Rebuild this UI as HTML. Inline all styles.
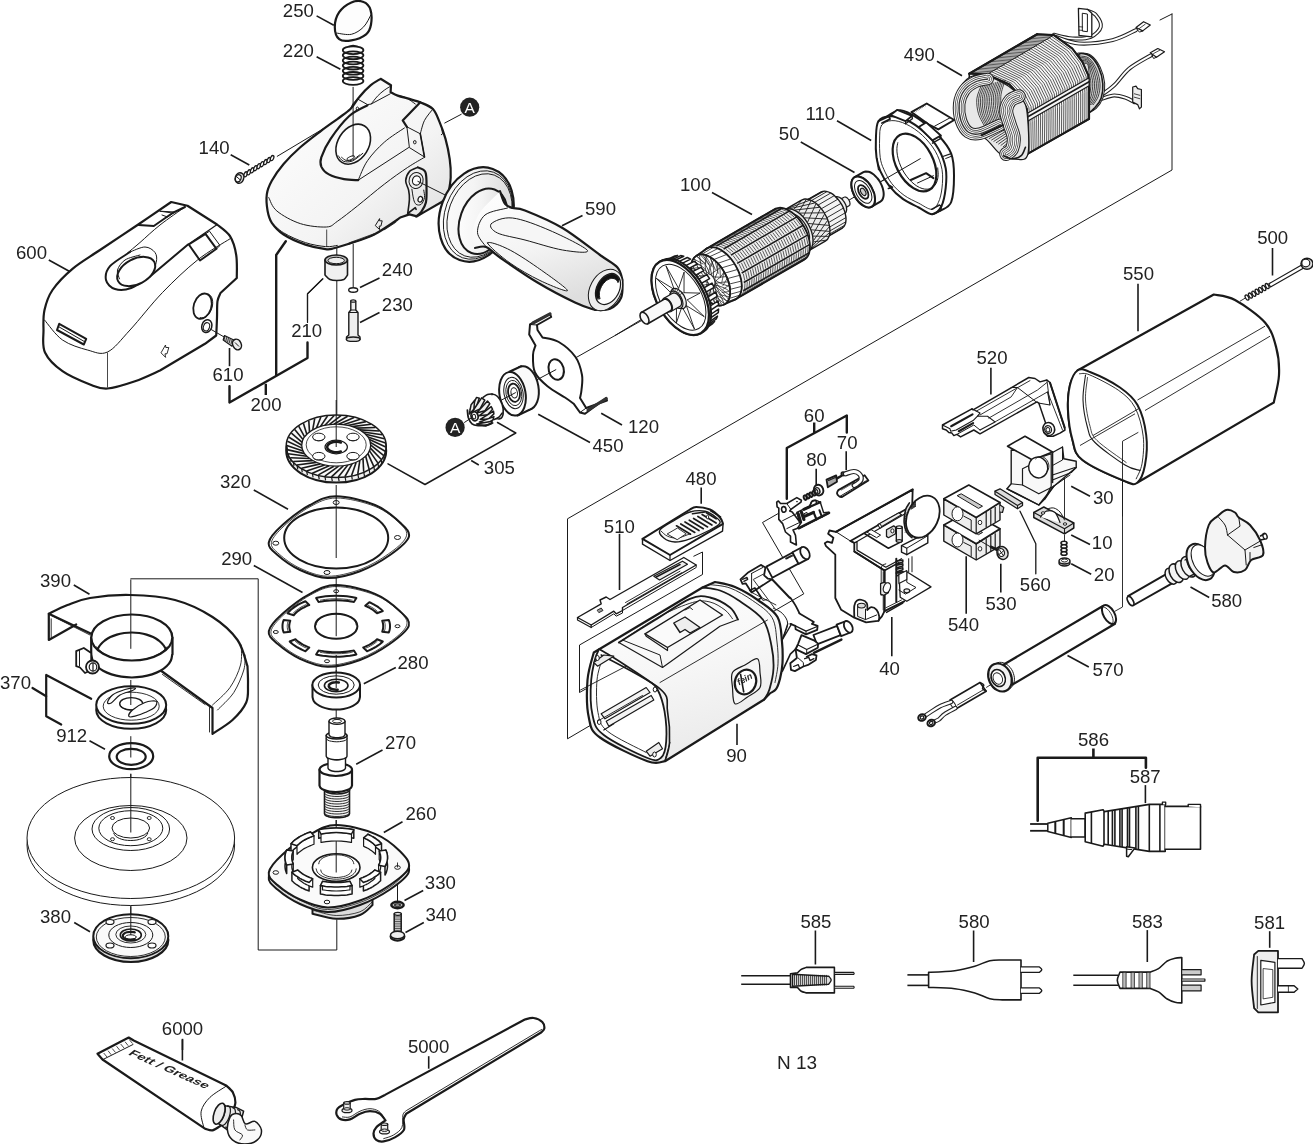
<!DOCTYPE html>
<html><head><meta charset="utf-8"><title>N 13</title>
<style>
html,body{margin:0;padding:0;background:#fff}
svg{display:block;will-change:transform}
text{font-family:"Liberation Sans",sans-serif;font-size:18.6px;fill:#222}
</style></head><body>
<svg width="1313" height="1144" viewBox="0 0 1313 1144">
<rect width="1313" height="1144" fill="#fff"/>
<!-- p10_housing.py -->
<g>
<defs><linearGradient id="gh" x1="0" y1="0" x2="1" y2="1"><stop offset="0" stop-color="#fff"/><stop offset="0.6" stop-color="#f4f4f4"/><stop offset="1" stop-color="#dcdcdc"/></linearGradient></defs>
<path d="M276.9 156.5 L357.4 108.3" stroke="#1a1a1a" stroke-width="1" fill="none" stroke-linecap="butt"/>
<path d="M380.6 78.8L391 85.2L390.6 92.2L390.6 92.2C391.8 92.8 394.5 94.5 397.7 95.6C400.8 96.7 405.6 97.8 409.4 98.9C413.2 100.1 418.5 101.7 420.3 102.3L420.3 102.3C422.4 103.4 429.7 105.7 432.9 109C436.1 112.3 437.5 117.1 439.6 122.1C441.7 127.1 443.8 132.7 445.5 138.9C447.2 145 448.8 152.6 449.7 159C450.6 165.4 451 171.3 450.7 177.5C450.4 183.6 448.5 192.9 448 195.9L448 195.9L442.1 201.8L424.5 211.9L417 216.4L409.4 214.4L401 217.2L401 217.2C396.6 220.1 382.9 230.1 374.2 234.5C365.5 238.9 355.7 241.5 349 243.8C342.3 246 337.8 247.4 333.9 248.3C330 249.2 330.3 249.7 325.5 249.1C320.8 248.5 312.4 247 305.4 244.6C298.4 242.2 289.2 238.2 283.6 234.5C278 230.9 274.5 226.7 271.8 222.8C269.2 218.9 268.5 215.8 267.6 211C266.8 206.3 266.1 199.3 266.8 194.3C267.5 189.2 269 185.9 271.8 180.8C274.6 175.8 278.8 169.6 283.6 164C288.3 158.5 294.2 152.7 300.3 147.3C306.5 141.8 314.3 136 320.5 131.3C326.6 126.6 332.2 122.8 337.3 119.1C342.3 115.3 347.1 112.3 350.7 108.7C354.3 105 355.7 101.2 359.1 97.3C362.4 93.3 367.2 88.2 370.8 85.2C374.4 82.1 378.9 79.9 380.6 78.8Z" fill="url(#gh)" stroke="#1a1a1a" stroke-width="2.2" stroke-linejoin="round" stroke-linecap="round"/>
<path d="M268.8 197.6C270.1 199.8 271.6 206.7 276.9 211C282.1 215.4 292.1 221 300.3 223.6C308.6 226.3 320.2 227.3 326.4 227C332.5 226.6 332.1 224.9 337.3 221.4C342.4 217.9 349.6 212.2 357.4 206C365.2 199.8 375.9 190.6 384.3 184.2C392.6 177.7 401 171.9 407.7 167.4C414.5 162.9 421.7 159 424.5 157.3" fill="none" stroke="#1a1a1a" stroke-width="1" stroke-linejoin="round" stroke-linecap="round"/>
<path d="M270.1 221.1C272.4 223.1 277.7 229.3 283.6 232.8C289.4 236.4 298.4 240.3 305.4 242.6C312.4 244.9 320.2 246.1 325.5 246.6C330.8 247.1 335.3 245.6 337.3 245.4" fill="none" stroke="#1a1a1a" stroke-width="1" stroke-linejoin="round" stroke-linecap="round"/>
<path d="M357.4 98.9L367.5 104.6L371.2 104L390.1 93.9" fill="none" stroke="#1a1a1a" stroke-width="1" stroke-linejoin="round" stroke-linecap="round"/>
<path d="M371.2 104C372.2 102.7 375.4 98.4 377.5 96.1C379.7 93.8 382 91.9 384.3 90.2C386.5 88.5 389.8 86.7 391 86" fill="none" stroke="#1a1a1a" stroke-width="1" stroke-linejoin="round" stroke-linecap="round"/>
<path d="M350.7 108.7L352.7 104L357.4 98.9" fill="none" stroke="#1a1a1a" stroke-width="1" stroke-linejoin="round" stroke-linecap="round"/>
<ellipse cx="357.4" cy="108.7" rx="1.2" ry="1.7" fill="none" stroke="#1a1a1a" stroke-width="1"/>
<path d="M367.5 105.3C364.4 107.1 355.2 110.6 349 116.2C342.9 121.8 335.2 132 330.6 138.9C325.9 145.7 322.9 152.7 321.3 157.3C319.8 161.9 320.1 163.7 321.3 166.6C322.6 169.4 325.1 172.4 328.9 174.4C332.6 176.5 339.1 178.2 344 179.1C348.9 180.1 355.9 180 358.2 180.2" fill="none" stroke="#1a1a1a" stroke-width="2.2" stroke-linejoin="round" stroke-linecap="round"/>
<path d="M358.2 180.2L408.6 147.6" fill="none" stroke="#1a1a1a" stroke-width="1" stroke-linejoin="round" stroke-linecap="round"/>
<path d="M358.2 180.2C359.8 176.9 363.1 167 367.5 160.7C371.8 154.4 378.1 147.7 384.3 142.2C390.4 136.8 401 130.3 404.4 128" fill="none" stroke="#1a1a1a" stroke-width="1" stroke-linejoin="round" stroke-linecap="round"/>
<ellipse cx="353.2" cy="144.2" rx="21.5" ry="15.4" fill="#fff" stroke="#1a1a1a" stroke-width="1.6" transform="rotate(-58 353.2 144.2)"/>
<path d="M338.3 155.7C339.1 156.6 341 160.3 343.3 161.2C345.7 162.1 349.1 162.3 352.4 161C355.6 159.7 361 154.6 362.8 153.3" fill="none" stroke="#1a1a1a" stroke-width="1" stroke-linejoin="round" stroke-linecap="round"/>
<path d="M341.6 157.3C342.4 157.9 344.5 160.1 346.3 160.5C348.2 160.9 350.5 160.8 352.7 159.8C354.9 158.9 358.3 155.8 359.4 155" fill="none" stroke="#1a1a1a" stroke-width="1" stroke-linejoin="round" stroke-linecap="round"/>
<ellipse cx="350.7" cy="158" rx="4" ry="1.5" fill="none" stroke="#1a1a1a" stroke-width="0.9" transform="rotate(-25 350.7 158)"/>
<path d="M420.3 102.3L402.7 120.4L406.9 126.8" fill="none" stroke="#1a1a1a" stroke-width="2.2" stroke-linejoin="round" stroke-linecap="round"/>
<path d="M406.9 126.8L409.4 147.6L424.5 157L420.3 133.8L406.9 126.8" fill="none" stroke="#1a1a1a" stroke-width="1" stroke-linejoin="round" stroke-linecap="round"/>
<path d="M432.9 109C431.5 110.9 426.6 116.3 424.5 120.4C422.4 124.6 421 131.6 420.3 133.8" fill="none" stroke="#1a1a1a" stroke-width="1" stroke-linejoin="round" stroke-linecap="round"/>
<path d="M420.3 133.8L424.5 157" fill="none" stroke="#1a1a1a" stroke-width="1.6" stroke-linejoin="round" stroke-linecap="round"/>
<ellipse cx="414.8" cy="142.2" rx="1.3" ry="1.7" fill="none" stroke="#1a1a1a" stroke-width="1"/>
<path d="M397.7 95.6C399.1 95.9 403.1 96.4 406.1 97.8C409 99.2 413.8 102.9 415.3 104" fill="none" stroke="#1a1a1a" stroke-width="1" stroke-linejoin="round" stroke-linecap="round"/>
<path d="M441.3 126.3L442.6 133.8L441.3 134.7" fill="none" stroke="#1a1a1a" stroke-width="1" stroke-linejoin="round" stroke-linecap="round"/>
<path d="M417.8 167.4C419.1 168.2 423.9 168.7 425.4 172.1C426.8 175.5 426.5 182.4 426.5 187.5C426.6 192.6 426.8 198.6 425.9 202.6C425 206.7 422.8 209.6 421.2 211.9C419.5 214.2 417 215.6 416.1 216.4" fill="none" stroke="#1a1a1a" stroke-width="2.2" stroke-linejoin="round" stroke-linecap="round"/>
<path d="M417.8 167.4C416.4 168.1 411.4 169.4 409.4 171.6C407.4 173.8 405.9 177.7 405.7 180.8C405.6 183.9 408 187 408.6 190.1C409.2 193.1 409.6 195.4 409.4 199.3C409.3 203.2 408 211.2 407.7 213.5" fill="none" stroke="#1a1a1a" stroke-width="1.6" stroke-linejoin="round" stroke-linecap="round"/>
<ellipse cx="416.1" cy="180.5" rx="7" ry="8.1" fill="none" stroke="#1a1a1a" stroke-width="1" transform="rotate(15 416.1 180.5)"/>
<ellipse cx="416.5" cy="180.5" rx="4" ry="4.7" fill="#fff" stroke="#1a1a1a" stroke-width="1.2" transform="rotate(15 416.5 180.5)"/>
<path d="M411.9 189.2C412.2 190.9 412.9 196.8 413.6 199.3C414.3 201.8 414.9 203.5 416.1 204.3C417.4 205.2 419.8 205.4 421.2 204.3C422.6 203.2 424.1 200 424.5 197.6C424.9 195.2 423.8 191.3 423.7 190.1" fill="none" stroke="#1a1a1a" stroke-width="1" stroke-linejoin="round" stroke-linecap="round"/>
<ellipse cx="420.3" cy="199.3" rx="2.2" ry="2.9" fill="#fff" stroke="#1a1a1a" stroke-width="1.2" transform="rotate(20 420.3 199.3)"/>
<path d="M407.7 213.5L415.3 207.7L416.1 209.4" fill="none" stroke="#1a1a1a" stroke-width="1.6" stroke-linejoin="round" stroke-linecap="round"/>
<path d="M375.5 225.3L379.6 218.6L379.6 220.8L382.2 220.8L380.9 226.1L379.2 226.1L379.6 229.2Z" fill="none" stroke="#1a1a1a" stroke-width="1" stroke-linejoin="round" stroke-linecap="round"/>
<path d="M384.3 228.3L395.2 221.1L395.7 222.4L384.8 229.5Z" fill="none" stroke="#1a1a1a" stroke-width="0.8" stroke-linejoin="round" stroke-linecap="round"/>
<path d="M349 242.9L374.2 233.7L374.5 234.9L349.3 244.1Z" fill="none" stroke="#1a1a1a" stroke-width="0.8" stroke-linejoin="round" stroke-linecap="round"/>
<path d="M326.7 229.5 L326.7 246.6" stroke="#1a1a1a" stroke-width="0.8" fill="none" stroke-linecap="butt"/>
</g>
<!-- p11_capspring.py -->
<g>
<path d="M353.1 86.9 L353.1 156.7" stroke="#1a1a1a" stroke-width="1" fill="none" stroke-linecap="butt"/>
<path d="M334.8 26.9C334.8 22.4 336.4 16.3 339.2 12.2C341.9 8.2 347.3 4.2 351.4 2.4C355.5 0.7 360.5 0.7 363.6 2C366.8 3.2 369.3 6 370.5 9.8C371.7 13.5 371.7 20.4 371 24.5C370.3 28.6 369.4 31.6 366.1 34.3C362.8 36.9 355.9 39.6 351.4 40.4C346.9 41.2 341.9 41.4 339.2 39.2C336.4 36.9 334.8 31.4 334.8 26.9Z" fill="#fdfdfd" stroke="#1a1a1a" stroke-width="2.2" stroke-linejoin="round" stroke-linecap="round"/>
<path d="M336.7 33.1C339.2 33.3 346.9 35.3 351.4 34.3C355.9 33.3 360.4 30.2 363.6 26.9C366.9 23.7 369.8 16.7 371 14.7" fill="none" stroke="#1a1a1a" stroke-width="1" stroke-linejoin="round" stroke-linecap="round"/>
<path d="M316.6 15.9 L333.8 25.2" stroke="#1a1a1a" stroke-width="1.6" fill="none" stroke-linecap="butt"/>
<ellipse cx="353.1" cy="50.2" rx="10.3" ry="3.9" fill="none" stroke="#1a1a1a" stroke-width="1.8"/>
<ellipse cx="353.1" cy="55.3" rx="10.3" ry="3.9" fill="none" stroke="#1a1a1a" stroke-width="1.8"/>
<ellipse cx="353.1" cy="60.5" rx="10.3" ry="3.9" fill="none" stroke="#1a1a1a" stroke-width="1.8"/>
<ellipse cx="353.1" cy="65.6" rx="10.3" ry="3.9" fill="none" stroke="#1a1a1a" stroke-width="1.8"/>
<ellipse cx="353.1" cy="70.8" rx="10.3" ry="3.9" fill="none" stroke="#1a1a1a" stroke-width="1.8"/>
<ellipse cx="353.1" cy="75.9" rx="10.3" ry="3.9" fill="none" stroke="#1a1a1a" stroke-width="1.8"/>
<ellipse cx="353.1" cy="81" rx="10.3" ry="3.9" fill="none" stroke="#1a1a1a" stroke-width="1.8"/>
<path d="M349 46.5C349.6 46.4 351.7 45.5 353.1 45.5C354.5 45.5 356.8 46.4 357.5 46.5" fill="none" stroke="#1a1a1a" stroke-width="1.5" stroke-linejoin="round" stroke-linecap="round"/>
<path d="M316.6 56.8 L340.4 69.3" stroke="#1a1a1a" stroke-width="1.6" fill="none" stroke-linecap="butt"/>
<ellipse cx="245.6" cy="174.3" rx="1.5" ry="2.7" fill="#fff" stroke="#1a1a1a" stroke-width="1.3" transform="rotate(25 245.6 174.3)"/>
<ellipse cx="248.9" cy="172.3" rx="1.5" ry="2.7" fill="#fff" stroke="#1a1a1a" stroke-width="1.3" transform="rotate(25 248.9 172.3)"/>
<ellipse cx="252.2" cy="170.3" rx="1.5" ry="2.7" fill="#fff" stroke="#1a1a1a" stroke-width="1.3" transform="rotate(25 252.2 170.3)"/>
<ellipse cx="255.5" cy="168.2" rx="1.5" ry="2.7" fill="#fff" stroke="#1a1a1a" stroke-width="1.3" transform="rotate(25 255.5 168.2)"/>
<ellipse cx="258.8" cy="166.2" rx="1.5" ry="2.7" fill="#fff" stroke="#1a1a1a" stroke-width="1.3" transform="rotate(25 258.8 166.2)"/>
<ellipse cx="262.1" cy="164.2" rx="1.5" ry="2.7" fill="#fff" stroke="#1a1a1a" stroke-width="1.3" transform="rotate(25 262.1 164.2)"/>
<ellipse cx="265.5" cy="162.1" rx="1.5" ry="2.7" fill="#fff" stroke="#1a1a1a" stroke-width="1.3" transform="rotate(25 265.5 162.1)"/>
<ellipse cx="268.8" cy="160.1" rx="1.5" ry="2.7" fill="#fff" stroke="#1a1a1a" stroke-width="1.3" transform="rotate(25 268.8 160.1)"/>
<ellipse cx="272.1" cy="158.1" rx="1.5" ry="2.7" fill="#fff" stroke="#1a1a1a" stroke-width="1.3" transform="rotate(25 272.1 158.1)"/>
<ellipse cx="239.5" cy="178" rx="4.2" ry="5.4" fill="#ddd" stroke="#1a1a1a" stroke-width="1.5" transform="rotate(20 239.5 178)"/>
<ellipse cx="238.3" cy="178.3" rx="2.7" ry="3.7" fill="#fff" stroke="#1a1a1a" stroke-width="1.2" transform="rotate(20 238.3 178.3)"/>
<path d="M236.8 176.8 L240 179.7" stroke="#1a1a1a" stroke-width="1" fill="none" stroke-linecap="butt"/>
<path d="M230.7 154.8 L249.3 165" stroke="#1a1a1a" stroke-width="1.6" fill="none" stroke-linecap="butt"/>
<path d="M461.6 114.1 L444.4 123.2" stroke="#1a1a1a" stroke-width="1" fill="none" stroke-linecap="butt"/>
<circle cx="469.7" cy="107.2" r="9.6" fill="#222"/>
<text x="469.7" y="112.8" text-anchor="middle" style="font-size:15.5px;fill:#fff">A</text>
<text x="282.8" y="16.7">250</text>
<text x="282.8" y="56.8">220</text>
<text x="198.6" y="154.3">140</text>
</g>
<!-- p12_cover600.py -->
<g>
<path d="M171.2 202L187.5 205.8L217 224.5L217 224.5C219.2 226.5 226.8 231.2 230 236.2C233.2 241.3 235.1 248 236.2 255C237.4 262 236.7 274.2 236.8 278L236.8 278L220.5 293L220.5 293C220 294.4 218.1 297.2 217.5 301.2C216.9 305.3 217.2 311.8 217 317.5C216.8 323.2 216.4 332.5 216.2 335.5L216.2 335.5L205 343.8L160 370.5L160 370.5C155.8 372.3 143.8 378.2 135 381.2C126.2 384.2 115 388 107.5 388.5C100 389 97.5 387.4 90 384.5C82.5 381.6 70 376.6 62.5 371.2C55 365.9 48.2 359.4 45 352.5C41.8 345.6 43.6 337.1 43.5 330C43.4 322.9 43 316.7 44.5 310C46 303.3 47.8 296.9 52.5 290C57.2 283.1 64.6 275.4 72.5 268.8C80.4 262.1 89.2 257.3 100 250C110.8 242.7 125.6 233 137.5 225C149.4 217 165.6 205.8 171.2 202Z" fill="#fff" stroke="#1a1a1a" stroke-width="2.2" stroke-linejoin="round" stroke-linecap="round"/>
<path d="M44.5 320C47.5 323.3 55.3 335 62.5 340C69.7 345 80 348 87.5 350C95 352 100.4 355.3 107.5 352C114.6 348.7 120.8 339.9 130 330C139.2 320.1 151.2 304.2 162.5 292.5C173.8 280.8 186.2 269 197.5 260C208.8 251 224.6 242.3 230 238.8" fill="none" stroke="#1a1a1a" stroke-width="1" stroke-linejoin="round" stroke-linecap="round"/>
<path d="M107.5 352.5 L107.5 387.5" stroke="#1a1a1a" stroke-width="0.8" fill="none" stroke-linecap="butt"/>
<path d="M138.8 225L153.8 226L172.5 213L185 207" fill="none" stroke="#1a1a1a" stroke-width="2" stroke-linejoin="round" stroke-linecap="round"/>
<path d="M160 211.2L172.5 213" fill="none" stroke="#1a1a1a" stroke-width="1" stroke-linejoin="round" stroke-linecap="round"/>
<path d="M160 211.2L175 212L167.5 217L162 215" fill="none" stroke="#1a1a1a" stroke-width="1" stroke-linejoin="round" stroke-linecap="round"/>
<path d="M185 207C180.8 210 167.5 219.1 160 225C152.5 230.9 145.4 237.8 140 242.5C134.6 247.2 129.6 251.2 127.5 253" fill="none" stroke="#1a1a1a" stroke-width="1" stroke-linejoin="round" stroke-linecap="round"/>
<path d="M130 252C126.7 254.4 114 261.6 110 266.2C106 270.9 105.2 276.2 106 280C106.8 283.8 110.8 287.7 115 289C119.2 290.3 125.4 290.1 131.2 288C137.1 285.9 146.9 278.4 150 276.5" fill="none" stroke="#1a1a1a" stroke-width="2" stroke-linejoin="round" stroke-linecap="round"/>
<path d="M150 276.5L188 244.5" fill="none" stroke="#1a1a1a" stroke-width="2" stroke-linejoin="round" stroke-linecap="round"/>
<path d="M188 244.5L216.5 225" fill="none" stroke="#1a1a1a" stroke-width="1.2" stroke-linejoin="round" stroke-linecap="round"/>
<path d="M130 252C132.5 251.2 140.8 246.9 145 247C149.2 247.1 153.1 249.9 155 252.5C156.9 255.1 157.1 258.5 156.2 262.5C155.4 266.5 151 274.2 150 276.5" fill="none" stroke="#1a1a1a" stroke-width="1" stroke-linejoin="round" stroke-linecap="round"/>
<ellipse cx="136.2" cy="271.5" rx="20.5" ry="12.5" fill="#fff" stroke="#1a1a1a" stroke-width="2" transform="rotate(-28 136.2 271.5)"/>
<path d="M119.5 278.8C119.2 277.3 116.6 273.1 117.5 270C118.4 266.9 121.2 262.5 125 260C128.8 257.5 137.5 255.8 140 255" fill="none" stroke="#1a1a1a" stroke-width="1" stroke-linejoin="round" stroke-linecap="round"/>
<path d="M188.8 244.5L205.5 233.8L216.5 248.8L200 260.5Z" fill="none" stroke="#1a1a1a" stroke-width="2" stroke-linejoin="round" stroke-linecap="round"/>
<path d="M205.5 233.8L209.5 231.2L220 245.5L216.5 248.8" fill="none" stroke="#1a1a1a" stroke-width="1" stroke-linejoin="round" stroke-linecap="round"/>
<ellipse cx="202.5" cy="306.2" rx="8.8" ry="13" fill="none" stroke="#1a1a1a" stroke-width="1.8" transform="rotate(18 202.5 306.2)"/>
<path d="M207.9 293.9C208.3 294.2 209.8 294.9 210.6 295.7C211.3 296.6 211.9 297.8 212.3 299.1C212.6 300.4 212.8 302 212.7 303.6C212.7 305.1 212.3 306.8 211.8 308.3C211.4 309.8 210.6 311.4 209.8 312.7C208.9 313.9 207.9 315.1 206.8 316C205.8 316.8 204.5 317.4 203.4 317.7C202.3 318 200.7 317.6 200.1 317.6" fill="none" stroke="#1a1a1a" stroke-width="1" stroke-linejoin="round" stroke-linecap="round"/>
<ellipse cx="206.8" cy="326.2" rx="5" ry="6.5" fill="none" stroke="#1a1a1a" stroke-width="1.5" transform="rotate(18 206.8 326.2)"/>
<ellipse cx="206.5" cy="326.8" rx="3" ry="4.2" fill="none" stroke="#1a1a1a" stroke-width="1" transform="rotate(18 206.5 326.8)"/>
<path d="M59.2 323.8L86.2 338.8L83.8 344.5L57 330Z" fill="none" stroke="#1a1a1a" stroke-width="2" stroke-linejoin="round" stroke-linecap="round"/>
<path d="M59.2 327L83.8 341.2" fill="none" stroke="#1a1a1a" stroke-width="1" stroke-linejoin="round" stroke-linecap="round"/>
<path d="M161.2 352.5L165.5 345L165.8 347.5L168.8 347.5L167 353.8L165 353.8L165.5 357Z" fill="none" stroke="#1a1a1a" stroke-width="0.9" stroke-linejoin="round" stroke-linecap="round"/>
<path d="M211.2 329.5 L225 337.5" stroke="#1a1a1a" stroke-width="1" fill="none" stroke-linecap="butt"/>
<path d="M224.5 335.5L233.8 340L232 346.2L223.2 340Z" fill="#ccc" stroke="#1a1a1a" stroke-width="1.2" stroke-linejoin="round" stroke-linecap="round"/>
<path d="M225 336 L224 340" stroke="#1a1a1a" stroke-width="0.8" fill="none" stroke-linecap="butt"/>
<path d="M226.8 337 L225.8 341" stroke="#1a1a1a" stroke-width="0.8" fill="none" stroke-linecap="butt"/>
<path d="M228.5 338 L227.5 342" stroke="#1a1a1a" stroke-width="0.8" fill="none" stroke-linecap="butt"/>
<path d="M230.2 339 L229.2 343" stroke="#1a1a1a" stroke-width="0.8" fill="none" stroke-linecap="butt"/>
<path d="M232 340 L231 344" stroke="#1a1a1a" stroke-width="0.8" fill="none" stroke-linecap="butt"/>
<ellipse cx="237" cy="344.5" rx="4.2" ry="5.5" fill="#eee" stroke="#1a1a1a" stroke-width="1.5" transform="rotate(-25 237 344.5)"/>
<path d="M235 342.5 L239 346.5" stroke="#1a1a1a" stroke-width="1" fill="none" stroke-linecap="butt"/>
<path d="M229.5 348 L229.5 366.2" stroke="#1a1a1a" stroke-width="1.6" fill="none" stroke-linecap="butt"/>
<path d="M48.8 260 L69.2 271.2" stroke="#1a1a1a" stroke-width="1.6" fill="none" stroke-linecap="butt"/>
<path d="M285.8 241.2L276.2 255L276.2 375" fill="none" stroke="#1a1a1a" stroke-width="2.4" stroke-linejoin="round" stroke-linecap="round"/>
<path d="M307.5 342.5L307.5 358L229.5 402.5L229.5 386.2" fill="none" stroke="#1a1a1a" stroke-width="2.4" stroke-linejoin="round" stroke-linecap="round"/>
<path d="M265.8 383.8 L265.8 395" stroke="#1a1a1a" stroke-width="2.4" fill="none" stroke-linecap="butt"/>
<path d="M323 278.8L307.5 293.8L307.5 320" fill="none" stroke="#1a1a1a" stroke-width="1.2" stroke-linejoin="round" stroke-linecap="round"/>
<text x="16" y="258.8">600</text>
<text x="212.5" y="380.8">610</text>
<text x="250.5" y="411.2">200</text>
<text x="291.2" y="337">210</text>
</g>
<!-- p13_handle.py -->
<g>
<defs><linearGradient id="hg" x1="0" y1="0" x2="0.4" y2="1"><stop offset="0" stop-color="#ffffff"/><stop offset="0.55" stop-color="#f4f4f4"/><stop offset="1" stop-color="#dedede"/></linearGradient></defs>
<path d="M417.5 181.2 L447.5 196.2" stroke="#1a1a1a" stroke-width="1" fill="none" stroke-linecap="butt"/>
<ellipse cx="476.2" cy="214.5" rx="48.5" ry="35.8" fill="url(#hg)" stroke="#1a1a1a" stroke-width="2.2" transform="rotate(-70 476.2 214.5)"/>
<ellipse cx="478" cy="215" rx="45.5" ry="33" fill="none" stroke="#1a1a1a" stroke-width="0.9" transform="rotate(-70 478 215)"/>
<ellipse cx="479.5" cy="215.5" rx="43" ry="31" fill="none" stroke="#1a1a1a" stroke-width="0.9" transform="rotate(-70 479.5 215.5)"/>
<ellipse cx="483" cy="221.2" rx="33.8" ry="23" fill="url(#hg)" stroke="#1a1a1a" stroke-width="2" transform="rotate(-70 483 221.2)"/>
<path d="M500 191.2C500.8 193.3 502.9 201 505 203.8C507.1 206.5 509.2 206.9 512.5 208C515.8 209.1 516.7 207.2 525 210.5C533.3 213.8 550 220.6 562.5 228C575 235.4 590.8 248.4 600 255C609.2 261.6 613.8 263.3 617.5 267.5C621.2 271.7 621.7 277.9 622.5 280L622.5 280C622.3 282.9 623.3 292.7 621.2 297.5C619.2 302.3 614.4 306.7 610 308.8C605.6 310.8 597.5 309.8 595 310L595 310C591.7 308.8 584.6 307.1 575 302.5C565.4 297.9 550 290 537.5 282.5C525 275 508.5 263.4 500 257.5C491.5 251.6 490.4 248.6 486.2 247C482.1 245.4 476.9 247.8 475 248L475 248C474.6 245.4 471.7 238.4 472.5 232.5C473.3 226.6 475.4 219.4 480 212.5C484.6 205.6 496.7 194.8 500 191.2Z" fill="url(#hg)" stroke="none" stroke-width="0" stroke-linejoin="round" stroke-linecap="round"/>
<path d="M500 191.2C500.8 193.3 502.9 201 505 203.8C507.1 206.5 509.2 206.9 512.5 208C515.8 209.1 516.7 207.2 525 210.5C533.3 213.8 550 220.6 562.5 228C575 235.4 590.8 248.4 600 255C609.2 261.6 613.8 263.3 617.5 267.5C621.2 271.7 621.7 277.9 622.5 280L622.5 280C622.3 282.9 623.3 292.7 621.2 297.5C619.2 302.3 614.4 306.7 610 308.8C605.6 310.8 597.5 309.8 595 310L595 310C591.7 308.8 584.6 307.1 575 302.5C565.4 297.9 550 290 537.5 282.5C525 275 508.5 263.4 500 257.5C491.5 251.6 490.4 248.6 486.2 247C482.1 245.4 476.9 247.8 475 248" fill="none" stroke="#1a1a1a" stroke-width="2.2" stroke-linejoin="round" stroke-linecap="round"/>
<path d="M486.2 247C484.8 244.6 477.7 237.8 477.5 232.5C477.3 227.2 480 219.1 485 215C490 210.9 503.8 209.2 507.5 208" fill="none" stroke="#1a1a1a" stroke-width="1" stroke-linejoin="round" stroke-linecap="round"/>
<path d="M491.2 223.8C493.8 221.2 502.7 216.9 512.5 218C522.3 219.1 537.5 225.1 550 230.5C562.5 235.9 585.4 247.2 587.5 250.5C589.6 253.8 572.9 251.8 562.5 250C552.1 248.2 535.8 242.8 525 240C514.2 237.2 503.1 235.7 497.5 233C491.9 230.3 488.8 226.2 491.2 223.8Z" fill="#f6f6f6" stroke="#1a1a1a" stroke-width="1" stroke-linejoin="round" stroke-linecap="round"/>
<path d="M487.5 243C487.1 240.6 499.2 244.7 507.5 248.8C515.8 252.8 527.5 260.5 537.5 267.5C547.5 274.5 567.1 288.3 567.5 290.5C567.9 292.7 549.6 285.1 540 280.5C530.4 275.9 518.8 269.2 510 263C501.2 256.8 487.9 245.4 487.5 243Z" fill="#f6f6f6" stroke="#1a1a1a" stroke-width="1" stroke-linejoin="round" stroke-linecap="round"/>
<ellipse cx="605.5" cy="290" rx="22" ry="15.5" fill="#eee" stroke="#1a1a1a" stroke-width="1" transform="rotate(-62 605.5 290)"/>
<ellipse cx="608" cy="289" rx="16.5" ry="11.2" fill="#fff" stroke="#1a1a1a" stroke-width="1.2" transform="rotate(-62 608 289)"/>
<path d="M596.7 298.7C596.6 298.2 596.1 296.6 596 295.4C595.9 294.3 595.9 293 596 291.7C596.2 290.4 596.5 289.1 596.9 287.8C597.3 286.5 597.9 285.2 598.5 284C599.2 282.7 599.9 281.5 600.8 280.5C601.6 279.4 602.6 278.4 603.5 277.6C604.5 276.7 605.6 276 606.6 275.4C607.6 274.9 608.7 274.5 609.8 274.2C610.8 274 611.8 273.9 612.8 274C613.8 274.2 614.7 274.4 615.5 274.9C616.3 275.3 617.1 275.9 617.7 276.7C618.3 277.4 619 278.9 619.3 279.3L618 282.6C617.8 282.2 617.3 281 616.8 280.4C616.3 279.9 615.8 279.4 615.1 279C614.5 278.7 613.7 278.5 613 278.4C612.2 278.3 611.4 278.4 610.5 278.6C609.7 278.8 608.8 279.1 608 279.6C607.2 280 606.3 280.6 605.6 281.3C604.8 282 604 282.8 603.3 283.7C602.7 284.5 602 285.5 601.5 286.5C601 287.5 600.5 288.6 600.2 289.6C599.8 290.7 599.6 291.8 599.4 292.8C599.3 293.8 599.3 294.9 599.4 295.8C599.5 296.7 599.9 298 600 298.4Z" fill="#111" stroke="#1a1a1a" stroke-width="1" stroke-linejoin="round" stroke-linecap="round"/>
<path d="M582.5 215.5 L562 225.8" stroke="#1a1a1a" stroke-width="1.6" fill="none" stroke-linecap="butt"/>
<text x="585" y="214.7">590</text>
<path d="M336.8 248 L336.8 256.2" stroke="#1a1a1a" stroke-width="1" fill="none" stroke-linecap="butt"/>
<path d="M336.8 280.5 L336.8 436" stroke="#1a1a1a" stroke-width="1" fill="none" stroke-linecap="butt"/>
<path d="M325 260L325 275L325 275C325.8 275.8 328 278.6 330 279.5C332 280.4 334.5 280.5 336.8 280.5C339 280.5 342 280.4 343.8 279.5C345.5 278.6 346.9 275.8 347.5 275L347.5 275L347.5 260Z" fill="#f0f0f0" stroke="#1a1a1a" stroke-width="1.6" stroke-linejoin="round" stroke-linecap="round"/>
<ellipse cx="336.2" cy="260" rx="11.2" ry="5" fill="#bbb" stroke="#1a1a1a" stroke-width="1.6"/>
<ellipse cx="336.2" cy="260.5" rx="8.2" ry="3.2" fill="#eee" stroke="#1a1a1a" stroke-width="1"/>
<path d="M322.5 278.8L307.5 293.8L307.5 322.5" fill="none" stroke="#1a1a1a" stroke-width="1.2" stroke-linejoin="round" stroke-linecap="round"/>
<path d="M353.2 243.8 L353.2 287" stroke="#1a1a1a" stroke-width="1" fill="none" stroke-linecap="butt"/>
<ellipse cx="353.2" cy="290" rx="4.5" ry="2.2" fill="none" stroke="#1a1a1a" stroke-width="1.4"/>
<path d="M350.8 301.2L350.8 310L348.8 312.5L348.8 335L346.5 337L346.5 339.5L360 339.5L360 337L358 335L358 312.5L355.8 310L355.8 301.2Z" fill="#eee" stroke="#1a1a1a" stroke-width="1.4" stroke-linejoin="round" stroke-linecap="round"/>
<ellipse cx="353.2" cy="301" rx="2.5" ry="1.2" fill="#fff" stroke="#1a1a1a" stroke-width="1.2"/>
<ellipse cx="353.2" cy="339.2" rx="6.8" ry="2.2" fill="#ddd" stroke="#1a1a1a" stroke-width="1.4"/>
<path d="M350.8 310 L355.8 310" stroke="#1a1a1a" stroke-width="1" fill="none" stroke-linecap="butt"/>
<path d="M348.8 312.5 L358 312.5" stroke="#1a1a1a" stroke-width="1" fill="none" stroke-linecap="butt"/>
<path d="M379.5 278 L360 287.5" stroke="#1a1a1a" stroke-width="1.6" fill="none" stroke-linecap="butt"/>
<path d="M379.5 312.5 L360 322.5" stroke="#1a1a1a" stroke-width="1.6" fill="none" stroke-linecap="butt"/>
<text x="381.8" y="276.2">240</text>
<text x="381.8" y="310.8">230</text>
</g>
<!-- p14_plate.py -->
<g>
<path d="M576.2 357.5 L642.5 320" stroke="#1a1a1a" stroke-width="1" fill="none" stroke-linecap="butt"/>
<path d="M550 313.8L530 324.5L529.2 334.5L535.5 345.5L535.5 345.5C535.1 347.1 533.1 350.5 533 355C532.9 359.5 532.6 367.3 535 372.5C537.4 377.7 542.5 382.1 547.5 386.2C552.5 390.4 560.6 394.6 565 397.5C569.4 400.4 572.3 402.7 573.8 403.8L573.8 403.8L580 412.5L585 413.8L606.2 398L607 400.5L586.2 408L580 398L580 398C580.2 396.7 581.2 393.8 581.5 390C581.8 386.2 583 380.5 582 375C581 369.5 579.4 362.5 575.5 357C571.6 351.5 564.2 345.2 558.8 342C553.2 338.8 545.2 338.2 542.5 337.5L542.5 337.5L537.5 330L537 325L551.2 317Z" fill="#fff" stroke="#1a1a1a" stroke-width="2" stroke-linejoin="round" stroke-linecap="round"/>
<path d="M530 324.5L537 325" fill="none" stroke="#1a1a1a" stroke-width="1" stroke-linejoin="round" stroke-linecap="round"/>
<path d="M580 412.5L586.2 408" fill="none" stroke="#1a1a1a" stroke-width="1" stroke-linejoin="round" stroke-linecap="round"/>
<path d="M550 313.8L533 323" fill="none" stroke="#333" stroke-width="3.2" stroke-linejoin="round" stroke-linecap="round"/>
<path d="M606.2 398.5L588 410" fill="none" stroke="#333" stroke-width="3.2" stroke-linejoin="round" stroke-linecap="round"/>
<ellipse cx="556.2" cy="369.5" rx="7.5" ry="10.5" fill="#fff" stroke="#1a1a1a" stroke-width="2" transform="rotate(-15 556.2 369.5)"/>
<ellipse cx="525.5" cy="388" rx="13" ry="22" fill="#fafafa" stroke="#1a1a1a" stroke-width="2" transform="rotate(-10 525.5 388)"/>
<path d="M508 372.5L521 366.2L530 409.5L517 415.8Z" fill="#fafafa" stroke="none" stroke-width="0" stroke-linejoin="round" stroke-linecap="round"/>
<path d="M508.8 372 L521.8 366" stroke="#1a1a1a" stroke-width="2" fill="none" stroke-linecap="butt"/>
<path d="M517 415.8 L530 409.5" stroke="#1a1a1a" stroke-width="2" fill="none" stroke-linecap="butt"/>
<ellipse cx="512.5" cy="393.8" rx="13" ry="22" fill="#fff" stroke="#1a1a1a" stroke-width="2" transform="rotate(-10 512.5 393.8)"/>
<ellipse cx="513.5" cy="393" rx="9.5" ry="15.8" fill="#fff" stroke="#1a1a1a" stroke-width="1" transform="rotate(-10 513.5 393)"/>
<ellipse cx="513.8" cy="393" rx="7.8" ry="12.8" fill="#fff" stroke="#1a1a1a" stroke-width="0.9" transform="rotate(-10 513.8 393)"/>
<ellipse cx="514" cy="392.8" rx="5.8" ry="9.2" fill="#fff" stroke="#1a1a1a" stroke-width="1.8" transform="rotate(-10 514 392.8)"/>
<ellipse cx="514.2" cy="392.8" rx="3.2" ry="5.2" fill="#fff" stroke="#1a1a1a" stroke-width="1" transform="rotate(-10 514.2 392.8)"/>
<path d="M501.2 400.2 L515.8 392.5" stroke="#1a1a1a" stroke-width="1" fill="none" stroke-linecap="butt"/>
<path d="M536.5 380 L556.2 369.5" stroke="#1a1a1a" stroke-width="1" fill="none" stroke-linecap="butt"/>
<path d="M464.2 422.6 L471.1 418" stroke="#1a1a1a" stroke-width="1" fill="none" stroke-linecap="butt"/>
<ellipse cx="495.9" cy="406.6" rx="6.6" ry="12.8" fill="#fff" stroke="#1a1a1a" stroke-width="1.6" transform="rotate(-18 495.9 406.6)"/>
<path d="M483 397.4L491.2 393.9L498.5 418.9L491.2 421.2Z" fill="#fff" stroke="none" stroke-width="0" stroke-linejoin="round" stroke-linecap="round"/>
<path d="M483 397.4C483.7 396.9 486 395.1 487.5 394.5C489.1 393.9 491.3 394 492.1 393.9" fill="none" stroke="#1a1a1a" stroke-width="1.6" stroke-linejoin="round" stroke-linecap="round"/>
<path d="M493.9 419.4C494.7 419.1 497.1 418.6 498.5 417.5C499.9 416.5 501.5 413.7 502.2 413" fill="none" stroke="#1a1a1a" stroke-width="1.6" stroke-linejoin="round" stroke-linecap="round"/>
<path d="M470.2 409.3L476.6 397.4L479.3 398.3L476.6 406.1Z" fill="#f0f0f0" stroke="#1a1a1a" stroke-width="1.5" stroke-linejoin="round" stroke-linecap="round"/>
<path d="M471.5 413L481.6 397.9L484.8 400.2L480 408.8Z" fill="#f0f0f0" stroke="#1a1a1a" stroke-width="1.5" stroke-linejoin="round" stroke-linecap="round"/>
<path d="M476.6 413L487.5 401.1L489.8 403.8L485 410.7Z" fill="#f0f0f0" stroke="#1a1a1a" stroke-width="1.5" stroke-linejoin="round" stroke-linecap="round"/>
<path d="M479.3 415.7L491.2 406.6L492.6 409.3L487.8 414.8Z" fill="#f0f0f0" stroke="#1a1a1a" stroke-width="1.5" stroke-linejoin="round" stroke-linecap="round"/>
<path d="M480.2 419.4L493.5 411.1L493.9 413.9L488.9 418.9Z" fill="#f0f0f0" stroke="#1a1a1a" stroke-width="1.5" stroke-linejoin="round" stroke-linecap="round"/>
<path d="M479.3 422.1L493.9 416.6L493 419.8L488 423.2Z" fill="#f0f0f0" stroke="#1a1a1a" stroke-width="1.5" stroke-linejoin="round" stroke-linecap="round"/>
<path d="M476.6 423.9L492.1 421.2L491.2 423.5L485.7 426Z" fill="#f0f0f0" stroke="#1a1a1a" stroke-width="1.5" stroke-linejoin="round" stroke-linecap="round"/>
<path d="M469.3 413.9L471.1 404.7L474.7 400.2L473.8 409.3Z" fill="#f0f0f0" stroke="#1a1a1a" stroke-width="1.5" stroke-linejoin="round" stroke-linecap="round"/>
<path d="M467.4 410.2C467.6 411.4 467.6 415.2 468.3 417.5C469.1 419.8 470.3 422.6 472 423.9C473.7 425.3 475.8 425.4 478.4 425.6C481 425.7 485.2 425.3 487.5 424.8C489.9 424.4 491.7 423.3 492.6 423" fill="none" stroke="#1a1a1a" stroke-width="1.8" stroke-linejoin="round" stroke-linecap="round"/>
<ellipse cx="474.6" cy="416.2" rx="3.5" ry="4.6" fill="#fff" stroke="#1a1a1a" stroke-width="1.8" transform="rotate(-15 474.6 416.2)"/>
<ellipse cx="474" cy="416.6" rx="1.6" ry="2.3" fill="#fff" stroke="#1a1a1a" stroke-width="1" transform="rotate(-15 474 416.6)"/>
<circle cx="455.1" cy="427.4" r="9.6" fill="#222"/>
<text x="455.1" y="433.0" text-anchor="middle" style="font-size:15.5px;fill:#fff">A</text>
<path d="M497.5 422.5L515.8 433L425 484.5L388 463.8" fill="none" stroke="#1a1a1a" stroke-width="1.5" stroke-linejoin="round" stroke-linecap="round"/>
<path d="M471.2 460.5 L478.8 465" stroke="#1a1a1a" stroke-width="1.6" fill="none" stroke-linecap="butt"/>
<path d="M538.2 414.2 L590 442.5" stroke="#1a1a1a" stroke-width="1.6" fill="none" stroke-linecap="butt"/>
<path d="M601.2 413.2 L622 425" stroke="#1a1a1a" stroke-width="1.6" fill="none" stroke-linecap="butt"/>
<text x="483.8" y="473.8">305</text>
<text x="592.5" y="452">450</text>
<text x="628" y="432.5">120</text>
<text x="685.5" y="484.8">480</text>
<text x="603.8" y="532.5">510</text>
<path d="M701.2 487.5 L701.2 503.8" stroke="#1a1a1a" stroke-width="1.6" fill="none" stroke-linecap="butt"/>
</g>
<!-- p15_gear.py -->
<g>
<ellipse cx="336.2" cy="450.8" rx="50" ry="31.8" fill="#f0f0f0" stroke="#1a1a1a" stroke-width="2"/>
<ellipse cx="336.2" cy="446.2" rx="50" ry="31.2" fill="#fafafa" stroke="#1a1a1a" stroke-width="1.5"/>
<path d="M370.8 445.2 L383.5 455.3" stroke="#1a1a1a" stroke-width="1.6" fill="none" stroke-linecap="butt"/>
<path d="M383.5 455.3 L384.3 459.6" stroke="#1a1a1a" stroke-width="1.2" fill="none" stroke-linecap="butt"/>
<path d="M370.4 448.1 L381.1 459.3" stroke="#1a1a1a" stroke-width="1.6" fill="none" stroke-linecap="butt"/>
<path d="M381.1 459.3 L381.9 463.5" stroke="#1a1a1a" stroke-width="1.2" fill="none" stroke-linecap="butt"/>
<path d="M369.5 450.9 L377.8 462.9" stroke="#1a1a1a" stroke-width="1.6" fill="none" stroke-linecap="butt"/>
<path d="M377.8 462.9 L378.6 467.2" stroke="#1a1a1a" stroke-width="1.2" fill="none" stroke-linecap="butt"/>
<path d="M367.9 453.6 L373.8 466.3" stroke="#1a1a1a" stroke-width="1.6" fill="none" stroke-linecap="butt"/>
<path d="M373.8 466.3 L374.5 470.5" stroke="#1a1a1a" stroke-width="1.2" fill="none" stroke-linecap="butt"/>
<path d="M365.7 456.2 L369.1 469.3" stroke="#1a1a1a" stroke-width="1.6" fill="none" stroke-linecap="butt"/>
<path d="M369.1 469.3 L369.8 473.5" stroke="#1a1a1a" stroke-width="1.2" fill="none" stroke-linecap="butt"/>
<path d="M363 458.5 L363.7 471.8" stroke="#1a1a1a" stroke-width="1.6" fill="none" stroke-linecap="butt"/>
<path d="M363.7 471.8 L364.5 476.1" stroke="#1a1a1a" stroke-width="1.2" fill="none" stroke-linecap="butt"/>
<path d="M359.8 460.6 L357.8 473.9" stroke="#1a1a1a" stroke-width="1.6" fill="none" stroke-linecap="butt"/>
<path d="M357.8 473.9 L358.6 478.2" stroke="#1a1a1a" stroke-width="1.2" fill="none" stroke-linecap="butt"/>
<path d="M356.1 462.4 L351.6 475.5" stroke="#1a1a1a" stroke-width="1.6" fill="none" stroke-linecap="butt"/>
<path d="M351.6 475.5 L352.3 479.7" stroke="#1a1a1a" stroke-width="1.2" fill="none" stroke-linecap="butt"/>
<path d="M352.1 463.9 L345 476.5" stroke="#1a1a1a" stroke-width="1.6" fill="none" stroke-linecap="butt"/>
<path d="M345 476.5 L345.8 480.8" stroke="#1a1a1a" stroke-width="1.2" fill="none" stroke-linecap="butt"/>
<path d="M347.8 465 L338.3 477" stroke="#1a1a1a" stroke-width="1.6" fill="none" stroke-linecap="butt"/>
<path d="M338.3 477 L339.1 481.2" stroke="#1a1a1a" stroke-width="1.2" fill="none" stroke-linecap="butt"/>
<path d="M343.3 465.8 L331.5 476.9" stroke="#1a1a1a" stroke-width="1.6" fill="none" stroke-linecap="butt"/>
<path d="M331.5 476.9 L332.3 481.1" stroke="#1a1a1a" stroke-width="1.2" fill="none" stroke-linecap="butt"/>
<path d="M338.6 466.2 L324.9 476.2" stroke="#1a1a1a" stroke-width="1.6" fill="none" stroke-linecap="butt"/>
<path d="M324.9 476.2 L325.6 480.4" stroke="#1a1a1a" stroke-width="1.2" fill="none" stroke-linecap="butt"/>
<path d="M333.9 466.2 L318.4 474.9" stroke="#1a1a1a" stroke-width="1.6" fill="none" stroke-linecap="butt"/>
<path d="M318.4 474.9 L319.2 479.2" stroke="#1a1a1a" stroke-width="1.2" fill="none" stroke-linecap="butt"/>
<path d="M329.2 465.8 L312.3 473.2" stroke="#1a1a1a" stroke-width="1.6" fill="none" stroke-linecap="butt"/>
<path d="M312.3 473.2 L313.1 477.4" stroke="#1a1a1a" stroke-width="1.2" fill="none" stroke-linecap="butt"/>
<path d="M324.7 465 L306.6 470.9" stroke="#1a1a1a" stroke-width="1.6" fill="none" stroke-linecap="butt"/>
<path d="M306.6 470.9 L307.4 475.1" stroke="#1a1a1a" stroke-width="1.2" fill="none" stroke-linecap="butt"/>
<path d="M320.4 463.9 L301.5 468.2" stroke="#1a1a1a" stroke-width="1.6" fill="none" stroke-linecap="butt"/>
<path d="M301.5 468.2 L302.3 472.4" stroke="#1a1a1a" stroke-width="1.2" fill="none" stroke-linecap="butt"/>
<path d="M316.4 462.4 L297 465" stroke="#1a1a1a" stroke-width="1.6" fill="none" stroke-linecap="butt"/>
<path d="M297 465 L297.8 469.3" stroke="#1a1a1a" stroke-width="1.2" fill="none" stroke-linecap="butt"/>
<path d="M312.7 460.6 L293.3 461.5" stroke="#1a1a1a" stroke-width="1.6" fill="none" stroke-linecap="butt"/>
<path d="M293.3 461.5 L294 465.8" stroke="#1a1a1a" stroke-width="1.2" fill="none" stroke-linecap="butt"/>
<path d="M309.5 458.5 L290.3 457.7" stroke="#1a1a1a" stroke-width="1.6" fill="none" stroke-linecap="butt"/>
<path d="M290.3 457.7 L291.1 462" stroke="#1a1a1a" stroke-width="1.2" fill="none" stroke-linecap="butt"/>
<path d="M306.8 456.2 L288.2 453.7" stroke="#1a1a1a" stroke-width="1.6" fill="none" stroke-linecap="butt"/>
<path d="M288.2 453.7 L289 458" stroke="#1a1a1a" stroke-width="1.2" fill="none" stroke-linecap="butt"/>
<path d="M304.6 453.6 L287 449.6" stroke="#1a1a1a" stroke-width="1.6" fill="none" stroke-linecap="butt"/>
<path d="M287 449.6 L287.8 453.9" stroke="#1a1a1a" stroke-width="1.2" fill="none" stroke-linecap="butt"/>
<path d="M303 450.9 L286.8 445.4" stroke="#1a1a1a" stroke-width="1.6" fill="none" stroke-linecap="butt"/>
<path d="M286.8 445.4 L287.5 449.7" stroke="#1a1a1a" stroke-width="1.2" fill="none" stroke-linecap="butt"/>
<path d="M302.1 448.1 L287.4 441.2" stroke="#1a1a1a" stroke-width="1.6" fill="none" stroke-linecap="butt"/>
<path d="M301.8 445.2 L289 437.2" stroke="#1a1a1a" stroke-width="1.6" fill="none" stroke-linecap="butt"/>
<path d="M302.1 442.4 L291.4 433.2" stroke="#1a1a1a" stroke-width="1.6" fill="none" stroke-linecap="butt"/>
<path d="M303 439.6 L294.7 429.6" stroke="#1a1a1a" stroke-width="1.6" fill="none" stroke-linecap="butt"/>
<path d="M304.6 436.9 L298.7 426.2" stroke="#1a1a1a" stroke-width="1.6" fill="none" stroke-linecap="butt"/>
<path d="M306.8 434.3 L303.4 423.2" stroke="#1a1a1a" stroke-width="1.6" fill="none" stroke-linecap="butt"/>
<path d="M309.5 432 L308.8 420.7" stroke="#1a1a1a" stroke-width="1.6" fill="none" stroke-linecap="butt"/>
<path d="M312.7 429.9 L314.7 418.6" stroke="#1a1a1a" stroke-width="1.6" fill="none" stroke-linecap="butt"/>
<path d="M316.4 428.1 L320.9 417" stroke="#1a1a1a" stroke-width="1.6" fill="none" stroke-linecap="butt"/>
<path d="M320.4 426.6 L327.5 416" stroke="#1a1a1a" stroke-width="1.6" fill="none" stroke-linecap="butt"/>
<path d="M324.7 425.5 L334.2 415.5" stroke="#1a1a1a" stroke-width="1.6" fill="none" stroke-linecap="butt"/>
<path d="M329.2 424.7 L341 415.6" stroke="#1a1a1a" stroke-width="1.6" fill="none" stroke-linecap="butt"/>
<path d="M333.9 424.3 L347.6 416.3" stroke="#1a1a1a" stroke-width="1.6" fill="none" stroke-linecap="butt"/>
<path d="M338.6 424.3 L354.1 417.6" stroke="#1a1a1a" stroke-width="1.6" fill="none" stroke-linecap="butt"/>
<path d="M343.3 424.7 L360.2 419.3" stroke="#1a1a1a" stroke-width="1.6" fill="none" stroke-linecap="butt"/>
<path d="M347.8 425.5 L365.9 421.6" stroke="#1a1a1a" stroke-width="1.6" fill="none" stroke-linecap="butt"/>
<path d="M352.1 426.6 L371 424.3" stroke="#1a1a1a" stroke-width="1.6" fill="none" stroke-linecap="butt"/>
<path d="M356.1 428.1 L375.5 427.5" stroke="#1a1a1a" stroke-width="1.6" fill="none" stroke-linecap="butt"/>
<path d="M359.8 429.9 L379.2 431" stroke="#1a1a1a" stroke-width="1.6" fill="none" stroke-linecap="butt"/>
<path d="M363 432 L382.2 434.8" stroke="#1a1a1a" stroke-width="1.6" fill="none" stroke-linecap="butt"/>
<path d="M365.7 434.3 L384.3 438.8" stroke="#1a1a1a" stroke-width="1.6" fill="none" stroke-linecap="butt"/>
<path d="M367.9 436.9 L385.5 442.9" stroke="#1a1a1a" stroke-width="1.6" fill="none" stroke-linecap="butt"/>
<path d="M385.5 442.9 L386.2 447.1" stroke="#1a1a1a" stroke-width="1.2" fill="none" stroke-linecap="butt"/>
<path d="M369.5 439.6 L385.7 447.1" stroke="#1a1a1a" stroke-width="1.6" fill="none" stroke-linecap="butt"/>
<path d="M385.7 447.1 L386.5 451.3" stroke="#1a1a1a" stroke-width="1.2" fill="none" stroke-linecap="butt"/>
<path d="M370.4 442.4 L385.1 451.3" stroke="#1a1a1a" stroke-width="1.6" fill="none" stroke-linecap="butt"/>
<path d="M385.1 451.3 L385.8 455.5" stroke="#1a1a1a" stroke-width="1.2" fill="none" stroke-linecap="butt"/>
<ellipse cx="336.2" cy="445.2" rx="34.5" ry="21" fill="#fff" stroke="#1a1a1a" stroke-width="1.3"/>
<ellipse cx="336.2" cy="444.8" rx="30" ry="18" fill="none" stroke="#1a1a1a" stroke-width="0.8"/>
<ellipse cx="318.8" cy="437" rx="6.2" ry="3.8" fill="#fff" stroke="#1a1a1a" stroke-width="1"/>
<path d="M323.9 438.8C323.7 438.9 323.2 439.5 322.8 439.8C322.3 440.1 321.6 440.3 320.9 440.5C320.3 440.7 319.5 440.8 318.8 440.8C318 440.8 317.2 440.7 316.6 440.5C315.9 440.3 315.2 440.1 314.7 439.8C314.3 439.5 313.8 438.9 313.6 438.8" fill="none" stroke="#1a1a1a" stroke-width="0.8" stroke-linejoin="round" stroke-linecap="round"/>
<ellipse cx="353" cy="437" rx="6.2" ry="3.8" fill="#fff" stroke="#1a1a1a" stroke-width="1"/>
<path d="M358.2 438.8C358 438.9 357.5 439.5 357 439.8C356.5 440.1 355.8 440.3 355.2 440.5C354.5 440.7 353.7 440.8 353 440.8C352.3 440.8 351.5 440.7 350.8 440.5C350.2 440.3 349.5 440.1 349 439.8C348.5 439.5 348 438.9 347.8 438.8" fill="none" stroke="#1a1a1a" stroke-width="0.8" stroke-linejoin="round" stroke-linecap="round"/>
<ellipse cx="318.8" cy="456.2" rx="6.2" ry="3.8" fill="#fff" stroke="#1a1a1a" stroke-width="1"/>
<path d="M323.9 458C323.7 458.2 323.2 458.8 322.8 459.1C322.3 459.3 321.6 459.6 320.9 459.8C320.3 459.9 319.5 460 318.8 460C318 460 317.2 459.9 316.6 459.8C315.9 459.6 315.2 459.3 314.7 459.1C314.3 458.8 313.8 458.2 313.6 458" fill="none" stroke="#1a1a1a" stroke-width="0.8" stroke-linejoin="round" stroke-linecap="round"/>
<ellipse cx="353" cy="456.2" rx="6.2" ry="3.8" fill="#fff" stroke="#1a1a1a" stroke-width="1"/>
<path d="M358.2 458C358 458.2 357.5 458.8 357 459.1C356.5 459.3 355.8 459.6 355.2 459.8C354.5 459.9 353.7 460 353 460C352.3 460 351.5 459.9 350.8 459.8C350.2 459.6 349.5 459.3 349 459.1C348.5 458.8 348 458.2 347.8 458" fill="none" stroke="#1a1a1a" stroke-width="0.8" stroke-linejoin="round" stroke-linecap="round"/>
<ellipse cx="336.2" cy="447" rx="11.2" ry="6.8" fill="#fff" stroke="#1a1a1a" stroke-width="1.2"/>
<path d="M340.8 451.5C340.2 451.7 338.4 452.1 337.2 452.2C336 452.3 334.6 452.2 333.5 452C332.3 451.8 331.1 451.4 330.2 450.9C329.3 450.4 328.5 449.8 328 449.1C327.5 448.5 327.2 447.7 327.2 447C327.2 446.3 327.5 445.5 328 444.9C328.5 444.2 329.3 443.6 330.2 443.1C331.1 442.6 332.3 442.2 333.5 442C334.6 441.8 336 441.7 337.2 441.8C338.4 441.9 340.2 442.3 340.8 442.5" fill="none" stroke="#1a1a1a" stroke-width="2.5" stroke-linejoin="round" stroke-linecap="round"/>
<path d="M336.2 496.2C347.1 496.2 364.4 500.6 375 505C385.6 509.4 394.4 517.2 400 522.5C405.6 527.8 410.4 531.6 408.8 537C407.1 542.4 398.1 549.3 390 555C381.9 560.7 370.4 567.4 360 571.2C349.6 575.1 337.5 578.2 327.5 578C317.5 577.8 308.3 573.8 300 570C291.7 566.2 282.7 559.6 277.5 555C272.3 550.4 267.9 547.5 268.8 542.5C269.6 537.5 275.6 531.2 282.5 525C289.4 518.8 301 509.8 310 505C319 500.2 325.4 496.2 336.2 496.2Z" fill="#fff" stroke="#1a1a1a" stroke-width="2" stroke-linejoin="round" stroke-linecap="round"/>
<path d="M336.2 498C347.1 497.9 364.4 502.2 375 506.4C385.6 510.6 394.8 518.3 400 523.4C405.2 528.5 408.1 531.9 406.1 537C404.2 542.1 395.9 548.7 388.2 554.1C380.6 559.5 370.1 565.8 360 569.5C349.9 573.2 337.5 576.5 327.5 576.2C317.5 576 308 571.9 300 568.2C292 564.6 284 558.4 279.2 554.1C274.5 549.8 270.5 547.2 271.4 542.5C272.2 537.8 277.8 531.8 284.2 525.9C290.7 519.9 301.3 511.4 310 506.8C318.7 502.1 325.4 498.1 336.2 498Z" fill="none" stroke="#1a1a1a" stroke-width="0.8" stroke-linejoin="round" stroke-linecap="round"/>
<ellipse cx="336.2" cy="538" rx="52" ry="30.5" fill="#fff" stroke="#1a1a1a" stroke-width="2"/>
<ellipse cx="336.2" cy="502.5" rx="3" ry="2" fill="#fff" stroke="#1a1a1a" stroke-width="1"/>
<ellipse cx="397.5" cy="537.5" rx="3" ry="2" fill="#fff" stroke="#1a1a1a" stroke-width="1"/>
<ellipse cx="327" cy="572.5" rx="3" ry="2" fill="#fff" stroke="#1a1a1a" stroke-width="1"/>
<ellipse cx="275.8" cy="543.2" rx="3" ry="2" fill="#fff" stroke="#1a1a1a" stroke-width="1"/>
<path d="M336.2 585C347.1 585 364.4 589.4 375 593.8C385.6 598.1 394.4 605.9 400 611.2C405.6 616.6 410.4 620.3 408.8 625.8C407.1 631.2 398.1 638 390 643.8C381.9 649.5 370.4 656.2 360 660C349.6 663.8 337.5 667 327.5 666.8C317.5 666.5 308.3 662.6 300 658.8C291.7 654.9 282.7 648.3 277.5 643.8C272.3 639.2 267.9 636.2 268.8 631.2C269.6 626.2 275.6 620 282.5 613.8C289.4 607.5 301 598.5 310 593.8C319 589 325.4 585 336.2 585Z" fill="#fff" stroke="#1a1a1a" stroke-width="2" stroke-linejoin="round" stroke-linecap="round"/>
<path d="M336.2 586.5C347.1 586.5 364.4 590.7 375 595C385.6 599.2 394.8 606.9 400 612C405.2 617.1 408.4 620.6 406.5 625.8C404.6 630.9 396.2 637.5 388.5 643C380.8 648.5 370.2 654.8 360 658.5C349.8 662.2 337.5 665.5 327.5 665.2C317.5 665 308.1 661 300 657.2C291.9 653.5 283.8 647.3 279 643C274.2 638.7 270.2 636 271 631.2C271.8 626.5 277.5 620.5 284 614.5C290.5 608.5 301.3 599.9 310 595.2C318.7 590.6 325.4 586.5 336.2 586.5Z" fill="none" stroke="#1a1a1a" stroke-width="0.8" stroke-linejoin="round" stroke-linecap="round"/>
<ellipse cx="336.2" cy="626.2" rx="21.2" ry="12.5" fill="#fff" stroke="#1a1a1a" stroke-width="2"/>
<path d="M316.2 625C316.4 624.4 316.6 622.6 317.2 621.5C317.9 620.4 318.9 619.3 320.1 618.4C321.3 617.4 322.8 616.6 324.5 615.9C326.2 615.2 328.1 614.7 330.1 614.3C332 613.9 334.2 613.8 336.2 613.8C338.3 613.8 340.5 613.9 342.4 614.3C344.4 614.7 346.3 615.2 348 615.9C349.7 616.6 351.2 617.4 352.4 618.4C353.6 619.3 354.6 620.4 355.3 621.5C355.9 622.6 356.1 624.4 356.2 625" fill="none" stroke="#1a1a1a" stroke-width="0.8" stroke-linejoin="round" stroke-linecap="round"/>
<ellipse cx="336.2" cy="591.2" rx="2.5" ry="1.5" fill="#fff" stroke="#1a1a1a" stroke-width="1"/>
<ellipse cx="397.5" cy="626.2" rx="2.5" ry="1.5" fill="#fff" stroke="#1a1a1a" stroke-width="1"/>
<ellipse cx="327" cy="661.2" rx="2.5" ry="1.5" fill="#fff" stroke="#1a1a1a" stroke-width="1"/>
<ellipse cx="275.8" cy="632" rx="2.5" ry="1.5" fill="#fff" stroke="#1a1a1a" stroke-width="1"/>
<path d="M316.1 598C317.2 597.8 320.4 597.1 322.6 596.7C324.9 596.4 327.1 596.2 329.4 596C331.7 595.8 334 595.8 336.2 595.8C338.5 595.8 340.8 595.8 343.1 596C345.4 596.2 347.6 596.4 349.9 596.7C352.1 597.1 355.3 597.8 356.4 598L353.9 602.1C352.9 602 350.1 601.4 348.2 601.1C346.2 600.8 344.2 600.6 342.2 600.5C340.3 600.3 338.2 600.2 336.2 600.2C334.3 600.2 332.2 600.3 330.3 600.5C328.3 600.6 326.3 600.8 324.3 601.1C322.4 601.4 319.6 602 318.6 602.1Z" fill="#fff" stroke="#1a1a1a" stroke-width="2" stroke-linejoin="round" stroke-linecap="round"/>
<path d="M320.3 600.2C321.2 600.1 323.7 599.6 325.5 599.4C327.3 599.2 329.1 599 330.8 598.9C332.6 598.8 334.4 598.8 336.2 598.8C338.1 598.8 339.9 598.8 341.7 598.9C343.4 599 345.2 599.2 347 599.4C348.8 599.6 351.3 600.1 352.2 600.2" fill="none" stroke="#1a1a1a" stroke-width="0.8" stroke-linejoin="round" stroke-linecap="round"/>
<path d="M369.3 602.2C369.8 602.4 371.1 603 372 603.5C372.8 603.9 373.7 604.3 374.5 604.8C375.3 605.3 376.1 605.7 376.8 606.2C377.6 606.7 378.3 607.2 379 607.8C379.7 608.3 380.3 608.8 381 609.3C381.6 609.9 382.5 610.7 382.8 611L377 613.2C376.7 613 375.9 612.3 375.4 611.8C374.8 611.4 374.2 610.9 373.6 610.5C373 610 372.4 609.6 371.7 609.2C371.1 608.8 370.4 608.4 369.7 608C369 607.6 368.2 607.2 367.5 606.8C366.7 606.5 365.6 605.9 365.2 605.8Z" fill="#fff" stroke="#1a1a1a" stroke-width="2" stroke-linejoin="round" stroke-linecap="round"/>
<path d="M368.4 605.5C368.7 605.6 369.5 606.1 370.1 606.4C370.6 606.7 371.2 607 371.7 607.3C372.2 607.6 372.7 607.9 373.2 608.2C373.7 608.5 374.2 608.9 374.7 609.2C375.2 609.5 375.6 609.9 376.1 610.2C376.5 610.6 377.1 611.1 377.3 611.3" fill="none" stroke="#1a1a1a" stroke-width="0.8" stroke-linejoin="round" stroke-linecap="round"/>
<path d="M388.8 619.9C388.9 620.3 389.3 621.3 389.5 622C389.7 622.7 389.8 623.4 389.9 624.1C390 624.8 390 625.5 390 626.2C390 627 390 627.7 389.9 628.4C389.8 629.1 389.7 629.8 389.5 630.5C389.3 631.2 388.9 632.2 388.8 632.6L382.2 631.7C382.3 631.4 382.6 630.5 382.8 629.9C382.9 629.3 383.1 628.7 383.1 628.1C383.2 627.5 383.2 626.9 383.2 626.2C383.2 625.6 383.2 625 383.1 624.4C383.1 623.8 382.9 623.2 382.8 622.6C382.6 622 382.3 621.1 382.2 620.8Z" fill="#fff" stroke="#1a1a1a" stroke-width="2" stroke-linejoin="round" stroke-linecap="round"/>
<path d="M384.6 621.9C384.7 622.2 384.9 622.9 385 623.4C385.1 623.9 385.1 624.3 385.2 624.8C385.2 625.3 385.2 625.8 385.2 626.2C385.2 626.7 385.2 627.2 385.2 627.7C385.1 628.2 385.1 628.6 385 629.1C384.9 629.6 384.7 630.3 384.6 630.6" fill="none" stroke="#1a1a1a" stroke-width="0.8" stroke-linejoin="round" stroke-linecap="round"/>
<path d="M382.8 641.5C382.5 641.8 381.5 642.8 380.7 643.4C380 644 379.2 644.6 378.4 645.2C377.6 645.7 376.8 646.3 375.9 646.9C375 647.4 374.1 647.9 373.1 648.4C372.2 648.9 371.2 649.4 370.2 649.9C369.2 650.4 367.6 651 367.1 651.2L363.2 647.5C363.7 647.4 365.1 646.8 365.9 646.4C366.8 646 367.7 645.6 368.5 645.2C369.3 644.7 370.1 644.3 370.9 643.8C371.7 643.4 372.4 642.9 373.1 642.4C373.8 641.9 374.5 641.4 375.1 640.9C375.8 640.3 376.7 639.5 377 639.2Z" fill="#fff" stroke="#1a1a1a" stroke-width="2" stroke-linejoin="round" stroke-linecap="round"/>
<path d="M377.3 641.2C377.1 641.4 376.3 642.1 375.8 642.5C375.3 642.9 374.7 643.3 374.2 643.7C373.6 644.1 373 644.5 372.4 644.8C371.8 645.2 371.1 645.6 370.5 645.9C369.8 646.3 369.2 646.6 368.5 647C367.8 647.3 366.8 647.8 366.4 647.9" fill="none" stroke="#1a1a1a" stroke-width="0.8" stroke-linejoin="round" stroke-linecap="round"/>
<path d="M356.4 654.5C355.3 654.7 352.1 655.4 349.9 655.8C347.6 656.1 345.4 656.3 343.1 656.5C340.8 656.7 338.5 656.8 336.2 656.8C334 656.8 331.7 656.7 329.4 656.5C327.1 656.3 324.9 656.1 322.6 655.8C320.4 655.4 317.2 654.7 316.1 654.5L318.6 650.4C319.6 650.5 322.4 651.1 324.3 651.4C326.3 651.7 328.3 651.9 330.3 652C332.2 652.2 334.3 652.2 336.2 652.2C338.2 652.2 340.3 652.2 342.2 652C344.2 651.9 346.2 651.7 348.2 651.4C350.1 651.1 352.9 650.5 353.9 650.4Z" fill="#fff" stroke="#1a1a1a" stroke-width="2" stroke-linejoin="round" stroke-linecap="round"/>
<path d="M352.2 652.3C351.3 652.4 348.8 652.9 347 653.1C345.2 653.3 343.4 653.5 341.7 653.6C339.9 653.7 338.1 653.8 336.2 653.8C334.4 653.8 332.6 653.7 330.8 653.6C329.1 653.5 327.3 653.3 325.5 653.1C323.7 652.9 321.2 652.4 320.3 652.3" fill="none" stroke="#1a1a1a" stroke-width="0.8" stroke-linejoin="round" stroke-linecap="round"/>
<path d="M305.4 651.2C304.9 651 303.3 650.4 302.3 649.9C301.3 649.4 300.3 648.9 299.4 648.4C298.4 647.9 297.5 647.4 296.6 646.9C295.7 646.3 294.9 645.7 294.1 645.2C293.3 644.6 292.5 644 291.8 643.4C291 642.8 290 641.8 289.7 641.5L295.5 639.2C295.8 639.5 296.7 640.3 297.4 640.9C298 641.4 298.7 641.9 299.4 642.4C300.1 642.9 300.8 643.4 301.6 643.8C302.4 644.3 303.2 644.7 304 645.2C304.8 645.6 305.7 646 306.6 646.4C307.4 646.8 308.8 647.4 309.3 647.5Z" fill="#fff" stroke="#1a1a1a" stroke-width="2" stroke-linejoin="round" stroke-linecap="round"/>
<path d="M306.1 647.9C305.7 647.8 304.7 647.3 304 647C303.3 646.6 302.7 646.3 302 645.9C301.4 645.6 300.7 645.2 300.1 644.8C299.5 644.5 298.9 644.1 298.3 643.7C297.8 643.3 297.2 642.9 296.7 642.5C296.2 642.1 295.4 641.4 295.2 641.2" fill="none" stroke="#1a1a1a" stroke-width="0.8" stroke-linejoin="round" stroke-linecap="round"/>
<path d="M283.7 632.6C283.6 632.2 283.2 631.2 283 630.5C282.8 629.8 282.7 629.1 282.6 628.4C282.5 627.7 282.5 627 282.5 626.2C282.5 625.5 282.5 624.8 282.6 624.1C282.7 623.4 282.8 622.7 283 622C283.2 621.3 283.6 620.3 283.7 619.9L290.3 620.8C290.2 621.1 289.9 622 289.7 622.6C289.6 623.2 289.4 623.8 289.4 624.4C289.3 625 289.2 625.6 289.2 626.2C289.2 626.9 289.3 627.5 289.4 628.1C289.4 628.7 289.6 629.3 289.7 629.9C289.9 630.5 290.2 631.4 290.3 631.7Z" fill="#fff" stroke="#1a1a1a" stroke-width="2" stroke-linejoin="round" stroke-linecap="round"/>
<path d="M287.9 630.6C287.8 630.3 287.6 629.6 287.5 629.1C287.4 628.6 287.4 628.2 287.3 627.7C287.3 627.2 287.2 626.7 287.2 626.2C287.2 625.8 287.3 625.3 287.3 624.8C287.4 624.3 287.4 623.9 287.5 623.4C287.6 622.9 287.8 622.2 287.9 621.9" fill="none" stroke="#1a1a1a" stroke-width="0.8" stroke-linejoin="round" stroke-linecap="round"/>
<path d="M287.5 613.4C287.9 613 288.9 611.8 289.7 611C290.5 610.2 291.3 609.5 292.2 608.8C293.1 608 294.1 607.3 295.1 606.6C296.1 606 297.1 605.3 298.2 604.7C299.3 604.1 300.5 603.5 301.7 602.9C302.9 602.3 304.8 601.5 305.4 601.3L309.3 605C308.7 605.2 307.1 605.8 306 606.3C305 606.8 304 607.3 303 607.9C302.1 608.4 301.1 609 300.2 609.5C299.4 610.1 298.5 610.7 297.7 611.3C297 612 296.2 612.6 295.5 613.2C294.9 613.9 294 614.9 293.7 615.3Z" fill="#fff" stroke="#1a1a1a" stroke-width="2" stroke-linejoin="round" stroke-linecap="round"/>
<path d="M293 613.3C293.3 613.1 294.1 612.2 294.7 611.7C295.3 611.1 295.9 610.6 296.6 610.1C297.3 609.6 298 609.1 298.7 608.6C299.4 608.1 300.2 607.6 301 607.1C301.8 606.7 302.6 606.2 303.5 605.8C304.3 605.4 305.6 604.8 306.1 604.6" fill="none" stroke="#1a1a1a" stroke-width="0.8" stroke-linejoin="round" stroke-linecap="round"/>
<path d="M253.8 490 L288 509.2" stroke="#1a1a1a" stroke-width="1.6" fill="none" stroke-linecap="butt"/>
<path d="M253.8 565.5 L302.5 592.5" stroke="#1a1a1a" stroke-width="1.6" fill="none" stroke-linecap="butt"/>
<path d="M395.8 667.5 L363.8 683.8" stroke="#1a1a1a" stroke-width="1.6" fill="none" stroke-linecap="butt"/>
<text x="220" y="488">320</text>
<text x="221.2" y="565">290</text>
<text x="397.5" y="668.8">280</text>
<path d="M336.2 400 L336.2 447" stroke="#1a1a1a" stroke-width="1" fill="none" stroke-linecap="butt"/>
<path d="M336.2 485 L336.2 558" stroke="#1a1a1a" stroke-width="1" fill="none" stroke-linecap="butt"/>
<path d="M336.2 578 L336.2 636.2" stroke="#1a1a1a" stroke-width="1" fill="none" stroke-linecap="butt"/>
</g>
<!-- p16_spindle.py -->
<g>
<path d="M336.2 655 L336.2 685" stroke="#1a1a1a" stroke-width="1" fill="none" stroke-linecap="butt"/>
<path d="M312.5 685L312.5 697L312.5 697C312.7 697.6 312.9 699.6 313.7 700.9C314.4 702.1 315.6 703.3 317 704.3C318.5 705.4 320.3 706.4 322.3 707.1C324.3 707.9 326.6 708.5 328.9 708.9C331.2 709.3 333.8 709.5 336.2 709.5C338.7 709.5 341.3 709.3 343.6 708.9C345.9 708.5 348.2 707.9 350.2 707.1C352.2 706.4 354 705.4 355.5 704.3C356.9 703.3 358.1 702.1 358.8 700.9C359.6 699.6 359.8 697.6 360 697L360 697L360 685Z" fill="#fcfcfc" stroke="#1a1a1a" stroke-width="2" stroke-linejoin="round" stroke-linecap="round"/>
<ellipse cx="336.2" cy="685" rx="23.8" ry="12.5" fill="#fff" stroke="#1a1a1a" stroke-width="2"/>
<ellipse cx="336.2" cy="685" rx="18" ry="9.2" fill="#fff" stroke="#1a1a1a" stroke-width="1"/>
<ellipse cx="336.2" cy="685.5" rx="11.8" ry="6.2" fill="#fff" stroke="#1a1a1a" stroke-width="1.6"/>
<path d="M337.6 689.7C337 689.7 335.2 689.8 334.2 689.6C333.1 689.4 332 689.1 331.2 688.8C330.4 688.4 329.7 687.9 329.3 687.4C328.9 686.8 328.7 686.2 328.8 685.7C328.9 685.1 329.3 684.5 329.8 684.1C330.4 683.6 331.3 683.1 332.2 682.8C333.2 682.5 334.3 682.3 335.4 682.3C336.5 682.2 338.3 682.4 338.8 682.5" fill="none" stroke="#1a1a1a" stroke-width="2.6" stroke-linejoin="round" stroke-linecap="round"/>
<path d="M336.2 670 L336.2 688" stroke="#1a1a1a" stroke-width="1" fill="none" stroke-linecap="butt"/>
<path d="M336.2 709.5 L336.2 718.8" stroke="#1a1a1a" stroke-width="1" fill="none" stroke-linecap="butt"/>
<path d="M324.5 790L324.5 813.8L324.5 813.8C324.7 814 324.8 814.8 325.5 815.3C326.1 815.8 327 816.2 328.2 816.6C329.3 816.9 330.7 817.3 332.2 817.4C333.7 817.6 335.4 817.8 337 817.8C338.6 817.8 340.3 817.6 341.8 817.4C343.3 817.3 344.7 816.9 345.8 816.6C347 816.2 347.9 815.8 348.5 815.3C349.2 814.8 349.3 814 349.5 813.8L349.5 813.8L349.5 790Z" fill="#f4f4f4" stroke="#1a1a1a" stroke-width="1.6" stroke-linejoin="round" stroke-linecap="round"/>
<ellipse cx="337" cy="790" rx="12.5" ry="4" fill="#f4f4f4" stroke="#1a1a1a" stroke-width="1.6"/>
<path d="M324.7 793.6C325.1 793.9 325.9 794.7 327 795.1C328.1 795.5 329.7 795.9 331.4 796.1C333.1 796.4 335.1 796.5 337 796.5C338.9 796.5 340.9 796.4 342.6 796.1C344.3 795.9 345.9 795.5 347 795.1C348.1 794.7 348.9 793.9 349.3 793.6" fill="none" stroke="#1a1a1a" stroke-width="0.9" stroke-linejoin="round" stroke-linecap="round"/>
<path d="M324.7 796.1C325.1 796.4 325.9 797.2 327 797.6C328.1 798 329.7 798.4 331.4 798.6C333.1 798.9 335.1 799 337 799C338.9 799 340.9 798.9 342.6 798.6C344.3 798.4 345.9 798 347 797.6C348.1 797.2 348.9 796.4 349.3 796.1" fill="none" stroke="#1a1a1a" stroke-width="0.9" stroke-linejoin="round" stroke-linecap="round"/>
<path d="M324.7 798.6C325.1 798.9 325.9 799.7 327 800.1C328.1 800.5 329.7 800.9 331.4 801.1C333.1 801.4 335.1 801.5 337 801.5C338.9 801.5 340.9 801.4 342.6 801.1C344.3 800.9 345.9 800.5 347 800.1C348.1 799.7 348.9 798.9 349.3 798.6" fill="none" stroke="#1a1a1a" stroke-width="0.9" stroke-linejoin="round" stroke-linecap="round"/>
<path d="M324.7 801.1C325.1 801.4 325.9 802.2 327 802.6C328.1 803 329.7 803.4 331.4 803.6C333.1 803.9 335.1 804 337 804C338.9 804 340.9 803.9 342.6 803.6C344.3 803.4 345.9 803 347 802.6C348.1 802.2 348.9 801.4 349.3 801.1" fill="none" stroke="#1a1a1a" stroke-width="0.9" stroke-linejoin="round" stroke-linecap="round"/>
<path d="M324.7 803.6C325.1 803.9 325.9 804.7 327 805.1C328.1 805.5 329.7 805.9 331.4 806.1C333.1 806.4 335.1 806.5 337 806.5C338.9 806.5 340.9 806.4 342.6 806.1C344.3 805.9 345.9 805.5 347 805.1C348.1 804.7 348.9 803.9 349.3 803.6" fill="none" stroke="#1a1a1a" stroke-width="0.9" stroke-linejoin="round" stroke-linecap="round"/>
<path d="M324.7 806.1C325.1 806.4 325.9 807.2 327 807.6C328.1 808 329.7 808.4 331.4 808.6C333.1 808.9 335.1 809 337 809C338.9 809 340.9 808.9 342.6 808.6C344.3 808.4 345.9 808 347 807.6C348.1 807.2 348.9 806.4 349.3 806.1" fill="none" stroke="#1a1a1a" stroke-width="0.9" stroke-linejoin="round" stroke-linecap="round"/>
<path d="M324.7 808.6C325.1 808.9 325.9 809.7 327 810.1C328.1 810.5 329.7 810.9 331.4 811.1C333.1 811.4 335.1 811.5 337 811.5C338.9 811.5 340.9 811.4 342.6 811.1C344.3 810.9 345.9 810.5 347 810.1C348.1 809.7 348.9 808.9 349.3 808.6" fill="none" stroke="#1a1a1a" stroke-width="0.9" stroke-linejoin="round" stroke-linecap="round"/>
<path d="M324.7 811.1C325.1 811.4 325.9 812.2 327 812.6C328.1 813 329.7 813.4 331.4 813.6C333.1 813.9 335.1 814 337 814C338.9 814 340.9 813.9 342.6 813.6C344.3 813.4 345.9 813 347 812.6C348.1 812.2 348.9 811.4 349.3 811.1" fill="none" stroke="#1a1a1a" stroke-width="0.9" stroke-linejoin="round" stroke-linecap="round"/>
<path d="M324.7 813.6C325.1 813.9 325.9 814.7 327 815.1C328.1 815.5 329.7 815.9 331.4 816.1C333.1 816.4 335.1 816.5 337 816.5C338.9 816.5 340.9 816.4 342.6 816.1C344.3 815.9 345.9 815.5 347 815.1C348.1 814.7 348.9 813.9 349.3 813.6" fill="none" stroke="#1a1a1a" stroke-width="0.9" stroke-linejoin="round" stroke-linecap="round"/>
<path d="M319.5 769.5L319.5 785.5L319.5 785.5C319.7 785.9 319.9 787.2 320.7 788C321.5 788.8 322.8 789.5 324.3 790.1C325.7 790.7 327.6 791.2 329.5 791.5C331.4 791.8 333.7 792 335.8 792C337.8 792 340.1 791.8 342 791.5C343.9 791.2 345.8 790.7 347.2 790.1C348.7 789.5 350 788.8 350.8 788C351.6 787.2 351.8 785.9 352 785.5L352 785.5L352 769.5Z" fill="#fff" stroke="#1a1a1a" stroke-width="2.2" stroke-linejoin="round" stroke-linecap="round"/>
<ellipse cx="335.8" cy="769.5" rx="16.2" ry="6.5" fill="#fff" stroke="#1a1a1a" stroke-width="2.2"/>
<path d="M328 756.2L328 768L328 768C328.1 768.2 328.2 768.9 328.7 769.3C329.1 769.8 329.8 770.2 330.6 770.5C331.4 770.8 332.4 771.1 333.4 771.2C334.4 771.4 335.6 771.5 336.8 771.5C337.9 771.5 339.1 771.4 340.1 771.2C341.1 771.1 342.1 770.8 342.9 770.5C343.7 770.2 344.4 769.8 344.8 769.3C345.3 768.9 345.4 768.2 345.5 768L345.5 768L345.5 756.2Z" fill="#fff" stroke="#1a1a1a" stroke-width="1.4" stroke-linejoin="round" stroke-linecap="round"/>
<ellipse cx="336.8" cy="756.2" rx="8.8" ry="3.5" fill="#fff" stroke="#1a1a1a" stroke-width="1.4"/>
<path d="M326.2 735.5L326.2 756.2L326.2 756.2C326.4 756.5 326.5 757.2 327 757.6C327.5 758 328.4 758.4 329.3 758.7C330.2 759 331.4 759.3 332.7 759.5C333.9 759.7 335.3 759.8 336.6 759.8C337.9 759.8 339.4 759.7 340.6 759.5C341.8 759.3 343 759 344 758.7C344.9 758.4 345.7 758 346.2 757.6C346.7 757.2 346.9 756.5 347 756.2L347 756.2L347 735.5Z" fill="#fff" stroke="#1a1a1a" stroke-width="1.4" stroke-linejoin="round" stroke-linecap="round"/>
<ellipse cx="336.6" cy="735.5" rx="10.4" ry="3.5" fill="#fff" stroke="#1a1a1a" stroke-width="1.4"/>
<path d="M326.5 738.8C326.7 739 327 739.8 327.9 740.2C328.7 740.7 330.1 741.1 331.6 741.3C333.1 741.6 335 741.8 336.8 741.8C338.5 741.8 340.4 741.6 341.9 741.3C343.4 741.1 344.8 740.7 345.6 740.2C346.5 739.8 346.8 739 347 738.8" fill="none" stroke="#1a1a1a" stroke-width="1" stroke-linejoin="round" stroke-linecap="round"/>
<path d="M329 721.2L329 734.5L329 734.5C329.1 734.7 329.2 735.4 329.6 735.7C330 736.1 330.6 736.5 331.3 736.8C332.1 737.1 333 737.3 333.9 737.5C334.9 737.7 336 737.8 337 737.8C338 737.8 339.1 737.7 340.1 737.5C341 737.3 341.9 737.1 342.7 736.8C343.4 736.5 344 736.1 344.4 735.7C344.8 735.4 344.9 734.7 345 734.5L345 734.5L345 721.2Z" fill="#fff" stroke="#1a1a1a" stroke-width="1.4" stroke-linejoin="round" stroke-linecap="round"/>
<ellipse cx="337" cy="721.2" rx="8" ry="3.2" fill="#fff" stroke="#1a1a1a" stroke-width="1.4"/>
<ellipse cx="337" cy="721.2" rx="4.5" ry="1.8" fill="#fff" stroke="#1a1a1a" stroke-width="1"/>
<path d="M382.5 750 L356.2 764.2" stroke="#1a1a1a" stroke-width="1.6" fill="none" stroke-linecap="butt"/>
<text x="385" y="748.8">270</text>
<path d="M336.2 820 L336.2 872.5" stroke="#1a1a1a" stroke-width="1" fill="none" stroke-linecap="butt"/>
<path d="M312.5 908.8L312.5 913.8L312.5 913.8C316.5 914.6 328.3 918.5 336.2 918.8C344.2 919 354 917.3 360 915C366 912.7 370.4 906.7 372.5 905L372.5 905L372.5 898.8Z" fill="#ddd" stroke="#1a1a1a" stroke-width="2" stroke-linejoin="round" stroke-linecap="round"/>
<path d="M313.8 910.5C317.5 911.3 328.5 915.3 336.2 915.5C344 915.7 354 914 360 911.8C366 909.5 370 903.6 372 902" fill="none" stroke="#1a1a1a" stroke-width="0.8" stroke-linejoin="round" stroke-linecap="round"/>
<path d="M336.2 829.5C347.1 829.4 364.4 833.9 375 838.2C385.6 842.6 394.4 850.1 400 855.8C405.6 861.4 410.4 866.4 408.8 872C407.1 877.6 398.1 884 390 889.5C381.9 895 370.4 901.2 360 905C349.6 908.8 337.5 912.2 327.5 912C317.5 911.8 308.3 907.8 300 904C291.7 900.2 282.7 894 277.5 889.5C272.3 885 267.9 882.1 268.8 877C269.6 871.9 275.6 865.3 282.5 859C289.4 852.7 301 843.9 310 839C319 834.1 325.4 829.6 336.2 829.5Z" fill="#ddd" stroke="#1a1a1a" stroke-width="2" stroke-linejoin="round" stroke-linecap="round"/>
<path d="M336.2 825C347.1 824.9 364.4 829.4 375 833.8C385.6 838.1 394.4 845.6 400 851.2C405.6 856.9 410.4 861.9 408.8 867.5C407.1 873.1 398.1 879.5 390 885C381.9 890.5 370.4 896.8 360 900.5C349.6 904.2 337.5 907.7 327.5 907.5C317.5 907.3 308.3 903.2 300 899.5C291.7 895.8 282.7 889.5 277.5 885C272.3 880.5 267.9 877.6 268.8 872.5C269.6 867.4 275.6 860.8 282.5 854.5C289.4 848.2 301 839.4 310 834.5C319 829.6 325.4 825.1 336.2 825Z" fill="#fafafa" stroke="#1a1a1a" stroke-width="2" stroke-linejoin="round" stroke-linecap="round"/>
<path d="M270 878.8C272.1 880.6 276.7 886 282.5 890C288.3 894 297.5 899.2 305 902.5C312.5 905.8 318.3 909.5 327.5 909.5C336.7 909.5 349.6 906.2 360 902.5C370.4 898.8 382.1 892.2 390 887C397.9 881.8 404.6 873.9 407.5 871.2" fill="none" stroke="#1a1a1a" stroke-width="0.8" stroke-linejoin="round" stroke-linecap="round"/>
<ellipse cx="336.2" cy="867.5" rx="23.8" ry="13.8" fill="#fff" stroke="#1a1a1a" stroke-width="1.6"/>
<path d="M356.2 868.8C356.1 869.3 355.9 871 355.3 872C354.6 873 353.6 874 352.4 874.9C351.2 875.8 349.7 876.6 348 877.2C346.3 877.9 344.4 878.4 342.4 878.7C340.5 879.1 338.3 879.2 336.2 879.2C334.2 879.2 332 879.1 330.1 878.7C328.1 878.4 326.2 877.9 324.5 877.2C322.8 876.6 321.3 875.8 320.1 874.9C318.9 874 317.9 873 317.2 872C316.6 871 316.4 869.3 316.2 868.8" fill="none" stroke="#1a1a1a" stroke-width="0.9" stroke-linejoin="round" stroke-linecap="round"/>
<path d="M351.8 870C351.6 870.4 351.5 871.6 351 872.3C350.5 873.1 349.7 873.8 348.8 874.4C347.9 875 346.7 875.6 345.4 876.1C344.1 876.5 342.6 876.9 341 877.1C339.5 877.4 337.8 877.5 336.2 877.5C334.7 877.5 333 877.4 331.5 877.1C329.9 876.9 328.4 876.5 327.1 876.1C325.8 875.6 324.6 875 323.7 874.4C322.8 873.8 322 873.1 321.5 872.3C321 871.6 320.9 870.4 320.8 870" fill="none" stroke="#1a1a1a" stroke-width="0.9" stroke-linejoin="round" stroke-linecap="round"/>
<path d="M318.8 863.8C318.9 863.3 319 861.9 319.6 861C320.2 860.1 321 859.2 322.1 858.5C323.2 857.7 324.5 857 326 856.5C327.4 855.9 329.1 855.5 330.8 855.2C332.6 854.9 334.4 854.8 336.2 854.8C338.1 854.8 339.9 854.9 341.7 855.2C343.4 855.5 345.1 855.9 346.5 856.5C348 857 349.3 857.7 350.4 858.5C351.5 859.2 352.3 860.1 352.9 861C353.5 861.9 353.6 863.3 353.8 863.8" fill="none" stroke="#1a1a1a" stroke-width="0.9" stroke-linejoin="round" stroke-linecap="round"/>
<path d="M336.2 820 L336.2 872.5" stroke="#1a1a1a" stroke-width="1" fill="none" stroke-linecap="butt"/>
<path d="M318.7 829.8C319.7 829.6 322.5 829.1 324.4 828.8C326.4 828.5 328.3 828.3 330.3 828.2C332.3 828.1 334.3 828 336.2 828C338.2 828 340.2 828.1 342.2 828.2C344.2 828.3 346.1 828.5 348.1 828.8C350 829.1 352.8 829.6 353.8 829.8L353.8 829.8L353.8 838.3L353.8 838.3C352.8 838.1 350 837.6 348.1 837.3C346.1 837 344.2 836.8 342.2 836.7C340.2 836.6 338.2 836.5 336.2 836.5C334.3 836.5 332.3 836.6 330.3 836.7C328.3 836.8 326.4 837 324.4 837.3C322.5 837.6 319.7 838.1 318.7 838.3Z" fill="#fff" stroke="#1a1a1a" stroke-width="1.5" stroke-linejoin="round" stroke-linecap="round"/>
<path d="M351.5 834C350.6 833.9 348.2 833.4 346.5 833.2C344.8 833 343.1 832.8 341.4 832.7C339.7 832.6 338 832.5 336.2 832.5C334.5 832.5 332.8 832.6 331.1 832.7C329.4 832.8 327.7 833 326 833.2C324.3 833.4 321.9 833.9 321 834L321 834L321 842.5L321 842.5C321.9 842.4 324.3 841.9 326 841.7C327.7 841.5 329.4 841.3 331.1 841.2C332.8 841.1 334.5 841 336.2 841C338 841 339.7 841.1 341.4 841.2C343.1 841.3 344.8 841.5 346.5 841.7C348.2 841.9 350.6 842.4 351.5 842.5Z" fill="#fff" stroke="#1a1a1a" stroke-width="1.2" stroke-linejoin="round" stroke-linecap="round"/>
<path d="M318.7 829.8C319.7 829.6 322.5 829.1 324.4 828.8C326.4 828.5 328.3 828.3 330.3 828.2C332.3 828.1 334.3 828 336.2 828C338.2 828 340.2 828.1 342.2 828.2C344.2 828.3 346.1 828.5 348.1 828.8C350 829.1 352.8 829.6 353.8 829.8L351.5 834C350.6 833.9 348.2 833.4 346.5 833.2C344.8 833 343.1 832.8 341.4 832.7C339.7 832.6 338 832.5 336.2 832.5C334.5 832.5 332.8 832.6 331.1 832.7C329.4 832.8 327.7 833 326 833.2C324.3 833.4 321.9 833.9 321 834Z" fill="#fff" stroke="#1a1a1a" stroke-width="1.5" stroke-linejoin="round" stroke-linecap="round"/>
<path d="M291 843.7C291.4 843.3 292.6 842.1 293.4 841.3C294.3 840.5 295.2 839.8 296.2 839.1C297.2 838.4 298.3 837.7 299.4 837C300.5 836.4 301.6 835.7 302.9 835.1C304.1 834.5 305.3 834 306.6 833.4C307.9 832.9 310 832.2 310.6 832L310.6 832L310.6 840.5L310.6 840.5C310 840.7 307.9 841.4 306.6 841.9C305.3 842.5 304.1 843 302.9 843.6C301.6 844.2 300.5 844.9 299.4 845.5C298.3 846.2 297.2 846.9 296.2 847.6C295.2 848.3 294.3 849 293.4 849.8C292.6 850.6 291.4 851.8 291 852.2Z" fill="#fff" stroke="#1a1a1a" stroke-width="1.5" stroke-linejoin="round" stroke-linecap="round"/>
<path d="M314 835.8C313.4 836.1 311.6 836.7 310.5 837.1C309.4 837.6 308.3 838 307.3 838.5C306.2 839 305.2 839.6 304.2 840.1C303.3 840.7 302.4 841.3 301.5 841.9C300.6 842.5 299.8 843.1 299.1 843.8C298.3 844.4 297.3 845.4 297 845.8L297 845.8L297 854.3L297 854.3C297.3 853.9 298.3 852.9 299.1 852.3C299.8 851.6 300.6 851 301.5 850.4C302.4 849.8 303.3 849.2 304.2 848.6C305.2 848.1 306.2 847.5 307.3 847C308.3 846.5 309.4 846.1 310.5 845.6C311.6 845.2 313.4 844.6 314 844.3Z" fill="#fff" stroke="#1a1a1a" stroke-width="1.2" stroke-linejoin="round" stroke-linecap="round"/>
<path d="M291 843.7C291.4 843.3 292.6 842.1 293.4 841.3C294.3 840.5 295.2 839.8 296.2 839.1C297.2 838.4 298.3 837.7 299.4 837C300.5 836.4 301.6 835.7 302.9 835.1C304.1 834.5 305.3 834 306.6 833.4C307.9 832.9 310 832.2 310.6 832L314 835.8C313.4 836.1 311.6 836.7 310.5 837.1C309.4 837.6 308.3 838 307.3 838.5C306.2 839 305.2 839.6 304.2 840.1C303.3 840.7 302.4 841.3 301.5 841.9C300.6 842.5 299.8 843.1 299.1 843.8C298.3 844.4 297.3 845.4 297 845.8Z" fill="#fff" stroke="#1a1a1a" stroke-width="1.5" stroke-linejoin="round" stroke-linecap="round"/>
<path d="M367.8 834.3C368.3 834.5 369.7 835.1 370.5 835.6C371.4 836 372.3 836.5 373.1 837C373.9 837.5 374.7 838 375.5 838.5C376.3 839.1 377 839.6 377.7 840.2C378.4 840.7 379.1 841.3 379.7 841.9C380.3 842.4 381.2 843.4 381.5 843.7L381.5 843.7L381.5 852.2L381.5 852.2C381.2 851.9 380.3 850.9 379.7 850.4C379.1 849.8 378.4 849.2 377.7 848.7C377 848.1 376.3 847.6 375.5 847C374.7 846.5 373.9 846 373.1 845.5C372.3 845 371.4 844.5 370.5 844.1C369.7 843.6 368.3 843 367.8 842.8Z" fill="#fff" stroke="#1a1a1a" stroke-width="1.5" stroke-linejoin="round" stroke-linecap="round"/>
<path d="M375.5 845.8C375.3 845.5 374.5 844.7 374 844.3C373.4 843.8 372.9 843.3 372.3 842.8C371.6 842.3 371 841.9 370.3 841.4C369.7 841 369 840.6 368.3 840.1C367.5 839.7 366.8 839.3 366 838.9C365.3 838.5 364 838 363.6 837.8L363.6 837.8L363.6 846.3L363.6 846.3C364 846.5 365.3 847 366 847.4C366.8 847.8 367.5 848.2 368.3 848.6C369 849.1 369.7 849.5 370.3 849.9C371 850.4 371.6 850.8 372.3 851.3C372.9 851.8 373.4 852.3 374 852.8C374.5 853.2 375.3 854 375.5 854.3Z" fill="#fff" stroke="#1a1a1a" stroke-width="1.2" stroke-linejoin="round" stroke-linecap="round"/>
<path d="M367.8 834.3C368.3 834.5 369.7 835.1 370.5 835.6C371.4 836 372.3 836.5 373.1 837C373.9 837.5 374.7 838 375.5 838.5C376.3 839.1 377 839.6 377.7 840.2C378.4 840.7 379.1 841.3 379.7 841.9C380.3 842.4 381.2 843.4 381.5 843.7L375.5 845.8C375.3 845.5 374.5 844.7 374 844.3C373.4 843.8 372.9 843.3 372.3 842.8C371.6 842.3 371 841.9 370.3 841.4C369.7 841 369 840.6 368.3 840.1C367.5 839.7 366.8 839.3 366 838.9C365.3 838.5 364 838 363.6 837.8Z" fill="#fff" stroke="#1a1a1a" stroke-width="1.5" stroke-linejoin="round" stroke-linecap="round"/>
<path d="M286.7 865.1C286.6 864.7 286 863.5 285.8 862.6C285.5 861.8 285.3 860.9 285.2 860.1C285.1 859.2 285 858.4 285 857.5C285 856.6 285.1 855.8 285.2 854.9C285.3 854.1 285.5 853.2 285.8 852.4C286 851.5 286.6 850.3 286.7 849.9L286.7 849.9L286.7 858.4L286.7 858.4C286.6 858.8 286 860 285.8 860.9C285.5 861.7 285.3 862.6 285.2 863.4C285.1 864.3 285 865.1 285 866C285 866.9 285.1 867.7 285.2 868.6C285.3 869.4 285.5 870.3 285.8 871.1C286 872 286.6 873.2 286.7 873.6Z" fill="#fff" stroke="#1a1a1a" stroke-width="1.5" stroke-linejoin="round" stroke-linecap="round"/>
<path d="M293.3 851C293.1 851.4 292.7 852.4 292.4 853.2C292.2 853.9 292 854.6 291.9 855.3C291.8 856 291.8 856.8 291.8 857.5C291.8 858.2 291.8 859 291.9 859.7C292 860.4 292.2 861.1 292.4 861.8C292.7 862.6 293.1 863.6 293.3 864L293.3 864L293.3 872.5L293.3 872.5C293.1 872.1 292.7 871.1 292.4 870.3C292.2 869.6 292 868.9 291.9 868.2C291.8 867.5 291.8 866.7 291.8 866C291.8 865.3 291.8 864.5 291.9 863.8C292 863.1 292.2 862.4 292.4 861.7C292.7 860.9 293.1 859.9 293.3 859.5Z" fill="#fff" stroke="#1a1a1a" stroke-width="1.2" stroke-linejoin="round" stroke-linecap="round"/>
<path d="M286.7 865.1C286.6 864.7 286 863.5 285.8 862.6C285.5 861.8 285.3 860.9 285.2 860.1C285.1 859.2 285 858.4 285 857.5C285 856.6 285.1 855.8 285.2 854.9C285.3 854.1 285.5 853.2 285.8 852.4C286 851.5 286.6 850.3 286.7 849.9L293.3 851C293.1 851.4 292.7 852.4 292.4 853.2C292.2 853.9 292 854.6 291.9 855.3C291.8 856 291.8 856.8 291.8 857.5C291.8 858.2 291.8 859 291.9 859.7C292 860.4 292.2 861.1 292.4 861.8C292.7 862.6 293.1 863.6 293.3 864Z" fill="#fff" stroke="#1a1a1a" stroke-width="1.5" stroke-linejoin="round" stroke-linecap="round"/>
<path d="M385.8 849.9C385.9 850.3 386.5 851.7 386.8 852.6C387.1 853.6 387.3 854.5 387.4 855.4C387.5 856.4 387.5 857.3 387.5 858.3C387.4 859.2 387.3 860.2 387.1 861.1C386.9 862 386.6 863 386.3 863.9C385.9 864.8 385.2 866.2 385 866.6L385 866.6L385 875.1L385 875.1C385.2 874.7 385.9 873.3 386.3 872.4C386.6 871.5 386.9 870.5 387.1 869.6C387.3 868.7 387.4 867.7 387.5 866.8C387.5 865.8 387.5 864.9 387.4 863.9C387.3 863 387.1 862.1 386.8 861.1C386.5 860.2 385.9 858.8 385.8 858.4Z" fill="#fff" stroke="#1a1a1a" stroke-width="1.5" stroke-linejoin="round" stroke-linecap="round"/>
<path d="M378.6 865.2C378.8 864.8 379.4 863.7 379.7 862.9C380 862.1 380.2 861.3 380.4 860.5C380.6 859.8 380.7 859 380.7 858.2C380.8 857.4 380.7 856.6 380.6 855.8C380.5 855 380.4 854.2 380.1 853.4C379.9 852.6 379.4 851.4 379.2 851L379.2 851L379.2 859.5L379.2 859.5C379.4 859.9 379.9 861.1 380.1 861.9C380.4 862.7 380.5 863.5 380.6 864.3C380.7 865.1 380.8 865.9 380.7 866.7C380.7 867.5 380.6 868.3 380.4 869C380.2 869.8 380 870.6 379.7 871.4C379.4 872.2 378.8 873.3 378.6 873.7Z" fill="#fff" stroke="#1a1a1a" stroke-width="1.2" stroke-linejoin="round" stroke-linecap="round"/>
<path d="M385.8 849.9C385.9 850.3 386.5 851.7 386.8 852.6C387.1 853.6 387.3 854.5 387.4 855.4C387.5 856.4 387.5 857.3 387.5 858.3C387.4 859.2 387.3 860.2 387.1 861.1C386.9 862 386.6 863 386.3 863.9C385.9 864.8 385.2 866.2 385 866.6L378.6 865.2C378.8 864.8 379.4 863.7 379.7 862.9C380 862.1 380.2 861.3 380.4 860.5C380.6 859.8 380.7 859 380.7 858.2C380.8 857.4 380.7 856.6 380.6 855.8C380.5 855 380.4 854.2 380.1 853.4C379.9 852.6 379.4 851.4 379.2 851Z" fill="#fff" stroke="#1a1a1a" stroke-width="1.5" stroke-linejoin="round" stroke-linecap="round"/>
<path d="M309.1 882.5C308.5 882.3 306.8 881.6 305.6 881.2C304.5 880.7 303.4 880.2 302.4 879.7C301.4 879.1 300.3 878.6 299.4 878C298.4 877.4 297.5 876.8 296.6 876.2C295.7 875.6 294.9 874.9 294.1 874.3C293.3 873.6 292.2 872.6 291.9 872.2L291.9 872.2L291.9 880.8L291.9 880.8C292.2 881.1 293.3 882.1 294.1 882.8C294.9 883.4 295.7 884.1 296.6 884.7C297.5 885.3 298.4 885.9 299.4 886.5C300.3 887.1 301.4 887.6 302.4 888.2C303.4 888.7 304.5 889.2 305.6 889.7C306.8 890.1 308.5 890.8 309.1 891Z" fill="#fff" stroke="#1a1a1a" stroke-width="1.5" stroke-linejoin="round" stroke-linecap="round"/>
<path d="M297.7 870C298 870.3 299 871.2 299.6 871.7C300.3 872.3 301.1 872.8 301.8 873.3C302.6 873.9 303.4 874.4 304.2 874.9C305.1 875.4 306 875.8 306.9 876.3C307.8 876.7 308.7 877.1 309.7 877.6C310.6 878 312.2 878.5 312.7 878.7L312.7 878.7L312.7 887.2L312.7 887.2C312.2 887 310.6 886.5 309.7 886.1C308.7 885.6 307.8 885.2 306.9 884.8C306 884.3 305.1 883.9 304.2 883.4C303.4 882.9 302.6 882.4 301.8 881.8C301.1 881.3 300.3 880.8 299.6 880.2C299 879.7 298 878.8 297.7 878.5Z" fill="#fff" stroke="#1a1a1a" stroke-width="1.2" stroke-linejoin="round" stroke-linecap="round"/>
<path d="M309.1 882.5C308.5 882.3 306.8 881.6 305.6 881.2C304.5 880.7 303.4 880.2 302.4 879.7C301.4 879.1 300.3 878.6 299.4 878C298.4 877.4 297.5 876.8 296.6 876.2C295.7 875.6 294.9 874.9 294.1 874.3C293.3 873.6 292.2 872.6 291.9 872.2L297.7 870C298 870.3 299 871.2 299.6 871.7C300.3 872.3 301.1 872.8 301.8 873.3C302.6 873.9 303.4 874.4 304.2 874.9C305.1 875.4 306 875.8 306.9 876.3C307.8 876.7 308.7 877.1 309.7 877.6C310.6 878 312.2 878.5 312.7 878.7Z" fill="#fff" stroke="#1a1a1a" stroke-width="1.5" stroke-linejoin="round" stroke-linecap="round"/>
<path d="M380.6 872.2C380.3 872.6 379.2 873.6 378.4 874.3C377.6 874.9 376.8 875.6 375.9 876.2C375 876.8 374.1 877.4 373.1 878C372.2 878.6 371.1 879.1 370.1 879.7C369.1 880.2 368 880.7 366.9 881.2C365.7 881.6 364 882.3 363.4 882.5L363.4 882.5L363.4 891L363.4 891C364 890.8 365.7 890.1 366.9 889.7C368 889.2 369.1 888.7 370.1 888.2C371.1 887.6 372.2 887.1 373.1 886.5C374.1 885.9 375 885.3 375.9 884.7C376.8 884.1 377.6 883.4 378.4 882.8C379.2 882.1 380.3 881.1 380.6 880.8Z" fill="#fff" stroke="#1a1a1a" stroke-width="1.5" stroke-linejoin="round" stroke-linecap="round"/>
<path d="M359.8 878.7C360.3 878.5 361.9 878 362.8 877.6C363.8 877.1 364.7 876.7 365.6 876.3C366.5 875.8 367.4 875.4 368.3 874.9C369.1 874.4 369.9 873.9 370.7 873.3C371.4 872.8 372.2 872.3 372.9 871.7C373.5 871.2 374.5 870.3 374.8 870L374.8 870L374.8 878.5L374.8 878.5C374.5 878.8 373.5 879.7 372.9 880.2C372.2 880.8 371.4 881.3 370.7 881.8C369.9 882.4 369.1 882.9 368.3 883.4C367.4 883.9 366.5 884.3 365.6 884.8C364.7 885.2 363.8 885.6 362.8 886.1C361.9 886.5 360.3 887 359.8 887.2Z" fill="#fff" stroke="#1a1a1a" stroke-width="1.2" stroke-linejoin="round" stroke-linecap="round"/>
<path d="M380.6 872.2C380.3 872.6 379.2 873.6 378.4 874.3C377.6 874.9 376.8 875.6 375.9 876.2C375 876.8 374.1 877.4 373.1 878C372.2 878.6 371.1 879.1 370.1 879.7C369.1 880.2 368 880.7 366.9 881.2C365.7 881.6 364 882.3 363.4 882.5L359.8 878.7C360.3 878.5 361.9 878 362.8 877.6C363.8 877.1 364.7 876.7 365.6 876.3C366.5 875.8 367.4 875.4 368.3 874.9C369.1 874.4 369.9 873.9 370.7 873.3C371.4 872.8 372.2 872.3 372.9 871.7C373.5 871.2 374.5 870.3 374.8 870Z" fill="#fff" stroke="#1a1a1a" stroke-width="1.5" stroke-linejoin="round" stroke-linecap="round"/>
<path d="M352.1 885.6C351.2 885.7 348.7 886.1 346.9 886.4C345.2 886.6 343.4 886.7 341.6 886.8C339.8 886.9 338 887 336.2 887C334.5 887 332.7 886.9 330.9 886.8C329.1 886.7 327.3 886.6 325.6 886.4C323.8 886.1 321.3 885.7 320.4 885.6L320.4 885.6L320.4 894.1L320.4 894.1C321.3 894.2 323.8 894.6 325.6 894.9C327.3 895.1 329.1 895.2 330.9 895.3C332.7 895.4 334.5 895.5 336.2 895.5C338 895.5 339.8 895.4 341.6 895.3C343.4 895.2 345.2 895.1 346.9 894.9C348.7 894.6 351.2 894.2 352.1 894.1Z" fill="#fff" stroke="#1a1a1a" stroke-width="1.5" stroke-linejoin="round" stroke-linecap="round"/>
<path d="M322.5 881.3C323.2 881.4 325.5 881.8 327 882C328.5 882.1 330.1 882.3 331.6 882.4C333.1 882.5 334.7 882.5 336.2 882.5C337.8 882.5 339.4 882.5 340.9 882.4C342.4 882.3 344 882.1 345.5 882C347 881.8 349.3 881.4 350 881.3L350 881.3L350 889.8L350 889.8C349.3 889.9 347 890.3 345.5 890.5C344 890.6 342.4 890.8 340.9 890.9C339.4 891 337.8 891 336.2 891C334.7 891 333.1 891 331.6 890.9C330.1 890.8 328.5 890.6 327 890.5C325.5 890.3 323.2 889.9 322.5 889.8Z" fill="#fff" stroke="#1a1a1a" stroke-width="1.2" stroke-linejoin="round" stroke-linecap="round"/>
<path d="M352.1 885.6C351.2 885.7 348.7 886.1 346.9 886.4C345.2 886.6 343.4 886.7 341.6 886.8C339.8 886.9 338 887 336.2 887C334.5 887 332.7 886.9 330.9 886.8C329.1 886.7 327.3 886.6 325.6 886.4C323.8 886.1 321.3 885.7 320.4 885.6L322.5 881.3C323.2 881.4 325.5 881.8 327 882C328.5 882.1 330.1 882.3 331.6 882.4C333.1 882.5 334.7 882.5 336.2 882.5C337.8 882.5 339.4 882.5 340.9 882.4C342.4 882.3 344 882.1 345.5 882C347 881.8 349.3 881.4 350 881.3Z" fill="#fff" stroke="#1a1a1a" stroke-width="1.5" stroke-linejoin="round" stroke-linecap="round"/>
<ellipse cx="275.8" cy="872.5" rx="2.8" ry="1.8" fill="#fff" stroke="#1a1a1a" stroke-width="1"/>
<ellipse cx="397.5" cy="867.5" rx="2.8" ry="1.8" fill="#fff" stroke="#1a1a1a" stroke-width="1"/>
<ellipse cx="327" cy="902" rx="2.8" ry="1.8" fill="#fff" stroke="#1a1a1a" stroke-width="1"/>
<path d="M397.5 862.5 L397.5 867.5" stroke="#1a1a1a" stroke-width="0.9" fill="none" stroke-linecap="butt"/>
<path d="M402.5 821.8 L383.8 832.5" stroke="#1a1a1a" stroke-width="1.6" fill="none" stroke-linecap="butt"/>
<text x="405.5" y="820">260</text>
<path d="M397.5 885 L397.5 901.2" stroke="#1a1a1a" stroke-width="1" fill="none" stroke-linecap="butt"/>
<ellipse cx="397.5" cy="905" rx="6.2" ry="3.2" fill="#bbb" stroke="#1a1a1a" stroke-width="2.4"/>
<ellipse cx="397.5" cy="905" rx="2.8" ry="1.2" fill="#fff" stroke="#1a1a1a" stroke-width="1.2"/>
<path d="M394.2 913.8L394.2 933.8L401.2 933.8L401.2 913.8" fill="#eee" stroke="#1a1a1a" stroke-width="1.5" stroke-linejoin="round" stroke-linecap="round"/>
<ellipse cx="397.8" cy="913.8" rx="3.5" ry="1.5" fill="#eee" stroke="#1a1a1a" stroke-width="1.3"/>
<path d="M394.5 916.2 L401 916.2" stroke="#1a1a1a" stroke-width="0.7" fill="none" stroke-linecap="butt"/>
<path d="M394.5 918 L401 918" stroke="#1a1a1a" stroke-width="0.7" fill="none" stroke-linecap="butt"/>
<path d="M394.5 919.8 L401 919.8" stroke="#1a1a1a" stroke-width="0.7" fill="none" stroke-linecap="butt"/>
<path d="M394.5 921.5 L401 921.5" stroke="#1a1a1a" stroke-width="0.7" fill="none" stroke-linecap="butt"/>
<path d="M394.5 923.2 L401 923.2" stroke="#1a1a1a" stroke-width="0.7" fill="none" stroke-linecap="butt"/>
<path d="M394.5 925 L401 925" stroke="#1a1a1a" stroke-width="0.7" fill="none" stroke-linecap="butt"/>
<path d="M394.5 926.8 L401 926.8" stroke="#1a1a1a" stroke-width="0.7" fill="none" stroke-linecap="butt"/>
<path d="M394.5 928.5 L401 928.5" stroke="#1a1a1a" stroke-width="0.7" fill="none" stroke-linecap="butt"/>
<path d="M394.5 930.2 L401 930.2" stroke="#1a1a1a" stroke-width="0.7" fill="none" stroke-linecap="butt"/>
<ellipse cx="397.5" cy="936.5" rx="7" ry="4.2" fill="#ccc" stroke="#1a1a1a" stroke-width="2"/>
<ellipse cx="397.5" cy="935" rx="7" ry="3.8" fill="#eee" stroke="#1a1a1a" stroke-width="1.4"/>
<path d="M423.2 890.5 L404.5 900.5" stroke="#1a1a1a" stroke-width="1.6" fill="none" stroke-linecap="butt"/>
<path d="M423.8 922.5 L405.5 932.5" stroke="#1a1a1a" stroke-width="1.6" fill="none" stroke-linecap="butt"/>
<text x="424.8" y="888.8">330</text>
<text x="425.5" y="921.2">340</text>
<path d="M130.8 578.8L258.2 578.8L258.2 950L336.8 950L336.8 920" fill="none" stroke="#1a1a1a" stroke-width="1" stroke-linejoin="round" stroke-linecap="round"/>
</g>
<!-- p17_guard.py -->
<g>
<path d="M48.8 613.8C51.9 612.3 60.6 607.6 67.5 605C74.4 602.4 79.6 599.7 90 598C100.4 596.3 115.8 594.7 130 595C144.2 595.3 161.2 596.3 175 600C188.8 603.7 202.1 610.3 212.5 617C222.9 623.7 231.7 631.8 237.5 640C243.3 648.2 245.8 661.9 247.5 666.2L247.5 666.2C247.6 669.4 248.2 679 248 685C247.8 691 248.8 696.7 246.2 702.5C243.7 708.3 238.1 714.8 232.5 720C226.9 725.2 215.8 731.5 212.5 733.8L212.5 733.8L212.5 708L160 670L91.2 633.8L48.8 613.8Z" fill="#fff" stroke="#1a1a1a" stroke-width="2.2" stroke-linejoin="round" stroke-linecap="round"/>
<path d="M48.8 613.8L48.8 640L76.2 624.5" fill="none" stroke="#1a1a1a" stroke-width="2.2" stroke-linejoin="round" stroke-linecap="round"/>
<path d="M51.2 615.5L90 635" fill="none" stroke="#1a1a1a" stroke-width="0.9" stroke-linejoin="round" stroke-linecap="round"/>
<path d="M51.2 618.8L51.2 638" fill="none" stroke="#1a1a1a" stroke-width="0.9" stroke-linejoin="round" stroke-linecap="round"/>
<path d="M212.5 705C215.4 702.1 225.3 694.2 230 687.5C234.7 680.8 238.6 672.1 240.5 665C242.4 657.9 241.1 648.3 241.2 645" fill="none" stroke="#1a1a1a" stroke-width="0.9" stroke-linejoin="round" stroke-linecap="round"/>
<path d="M217.5 710C220.2 707.1 229.4 699.2 233.8 692.5C238.1 685.8 241.9 676.2 243.8 670C245.6 663.8 244.8 657.5 245 655" fill="none" stroke="#1a1a1a" stroke-width="0.9" stroke-linejoin="round" stroke-linecap="round"/>
<path d="M205 704.5L162.5 674.5" fill="none" stroke="#1a1a1a" stroke-width="0.9" stroke-linejoin="round" stroke-linecap="round"/>
<path d="M209.5 707.5L209.5 732" fill="none" stroke="#1a1a1a" stroke-width="0.9" stroke-linejoin="round" stroke-linecap="round"/>
<path d="M91.2 637.5L91.2 654.5L91.2 654.5C91.5 655.5 91.7 658.5 92.6 660.5C93.5 662.4 94.9 664.3 96.7 666C98.4 667.7 100.6 669.4 103.1 670.8C105.6 672.2 108.5 673.4 111.5 674.4C114.5 675.4 117.9 676.2 121.3 676.7C124.6 677.2 128.3 677.5 131.8 677.5C135.2 677.5 138.9 677.2 142.2 676.7C145.6 676.2 149 675.4 152 674.4C155 673.4 157.9 672.2 160.4 670.8C162.9 669.4 165.1 667.7 166.8 666C168.6 664.3 170 662.4 170.9 660.5C171.8 658.5 172 655.5 172.2 654.5L172.5 654.5L172.5 637.5Z" fill="#fff" stroke="#1a1a1a" stroke-width="2.2" stroke-linejoin="round" stroke-linecap="round"/>
<ellipse cx="131.8" cy="637.5" rx="40.5" ry="23" fill="#fff" stroke="#1a1a1a" stroke-width="2.2"/>
<path d="M97.6 649.2C98.1 648.4 99.3 646 100.5 644.6C101.7 643.1 103.2 641.8 104.8 640.5C106.5 639.3 108.4 638.1 110.4 637.1C112.4 636.1 114.6 635.3 116.9 634.6C119.2 633.9 121.7 633.4 124.2 633C126.6 632.7 129.2 632.5 131.8 632.5C134.3 632.5 136.9 632.7 139.3 633C141.8 633.4 144.3 633.9 146.6 634.6C148.9 635.3 151.1 636.1 153.1 637.1C155.1 638.1 157 639.3 158.7 640.5C160.3 641.8 161.8 643.1 163 644.6C164.2 646 165.4 648.4 165.9 649.2" fill="none" stroke="#1a1a1a" stroke-width="2.2" stroke-linejoin="round" stroke-linecap="round"/>
<path d="M167 646.7C166.4 647.3 165 649.3 163.7 650.5C162.3 651.7 160.8 652.9 159 653.9C157.3 654.9 155.3 655.9 153.3 656.7C151.2 657.5 148.9 658.2 146.6 658.8C144.3 659.3 141.8 659.8 139.3 660.1C136.9 660.4 134.3 660.5 131.8 660.5C129.2 660.5 126.6 660.4 124.2 660.1C121.7 659.8 119.2 659.3 116.9 658.8C114.6 658.2 112.3 657.5 110.2 656.7C108.2 655.9 106.2 654.9 104.5 653.9C102.7 652.9 101.2 651.7 99.8 650.5C98.5 649.3 97.1 647.3 96.5 646.7" fill="none" stroke="#1a1a1a" stroke-width="0.9" stroke-linejoin="round" stroke-linecap="round"/>
<path d="M130.8 579.5 L130.8 648.8" stroke="#1a1a1a" stroke-width="1" fill="none" stroke-linecap="butt"/>
<path d="M76.2 651.2L83.8 648L91.2 653L91.2 670L85 673L80 667.5L76.2 666.2Z" fill="#fff" stroke="#1a1a1a" stroke-width="1.8" stroke-linejoin="round" stroke-linecap="round"/>
<path d="M79.5 650.5L79.5 666.2" fill="none" stroke="#1a1a1a" stroke-width="1" stroke-linejoin="round" stroke-linecap="round"/>
<ellipse cx="92.5" cy="667" rx="6.5" ry="6.5" fill="#fff" stroke="#1a1a1a" stroke-width="1.8"/>
<ellipse cx="93" cy="667" rx="3.8" ry="4.2" fill="#fff" stroke="#1a1a1a" stroke-width="1.2"/>
<path d="M93 663 L93 671.2" stroke="#1a1a1a" stroke-width="1.2" fill="none" stroke-linecap="butt"/>
<path d="M130.8 680 L130.8 703.8" stroke="#1a1a1a" stroke-width="1" fill="none" stroke-linecap="butt"/>
<ellipse cx="131.2" cy="710" rx="35" ry="18.8" fill="#fff" stroke="#1a1a1a" stroke-width="2"/>
<ellipse cx="131.2" cy="705" rx="35" ry="18.8" fill="#fff" stroke="#1a1a1a" stroke-width="2"/>
<ellipse cx="131.2" cy="706.2" rx="28" ry="14" fill="none" stroke="#1a1a1a" stroke-width="0.9"/>
<ellipse cx="131.2" cy="703.8" rx="11.5" ry="6.2" fill="#fff" stroke="#1a1a1a" stroke-width="1.4"/>
<path d="M141.1 706.3C140.9 706.5 140.5 707.3 139.9 707.8C139.3 708.2 138.6 708.6 137.7 708.9C136.8 709.3 135.7 709.6 134.7 709.7C133.6 709.9 132.4 710 131.2 710C130.1 710 128.9 709.9 127.8 709.7C126.8 709.6 125.7 709.3 124.8 708.9C123.9 708.6 123.2 708.2 122.6 707.8C122 707.3 121.6 706.5 121.4 706.3" fill="none" stroke="#1a1a1a" stroke-width="0.9" stroke-linejoin="round" stroke-linecap="round"/>
<path d="M107.5 702.5C107.7 701.2 109.6 697.2 112.5 695C115.4 692.8 121.2 690.7 125 689.5C128.8 688.3 133.8 687.8 135 688C136.2 688.2 135 689.3 132.5 690.5C130 691.7 123.5 692.9 120 695C116.5 697.1 113.3 701.8 111.2 703C109.2 704.2 107.3 703.8 107.5 702.5Z" fill="#fff" stroke="#1a1a1a" stroke-width="1.2" stroke-linejoin="round" stroke-linecap="round"/>
<path d="M128.8 716.2C128.3 715.2 129.8 712.3 132.5 710C135.2 707.7 141 704 145 702.5C149 701 154.7 700.4 156.2 701.2C157.8 702.1 156.4 705.6 154.5 707.5C152.6 709.4 148.2 711 145 712.5C141.8 714 137.7 715.6 135 716.2C132.3 716.9 129.2 717.3 128.8 716.2Z" fill="#fff" stroke="#1a1a1a" stroke-width="1.2" stroke-linejoin="round" stroke-linecap="round"/>
<path d="M130.8 686.2 L130.8 705" stroke="#1a1a1a" stroke-width="1" fill="none" stroke-linecap="butt"/>
<path d="M130.8 736.2 L130.8 757.5" stroke="#1a1a1a" stroke-width="1" fill="none" stroke-linecap="butt"/>
<ellipse cx="131.2" cy="756.2" rx="22" ry="13" fill="#fff" stroke="#1a1a1a" stroke-width="2.2"/>
<ellipse cx="131.2" cy="756.8" rx="14.5" ry="8" fill="#fff" stroke="#1a1a1a" stroke-width="2.2"/>
<path d="M130.8 743.8 L130.8 757.5" stroke="#1a1a1a" stroke-width="1" fill="none" stroke-linecap="butt"/>
<path d="M73.8 585 L89.5 594.2" stroke="#1a1a1a" stroke-width="1.6" fill="none" stroke-linecap="butt"/>
<path d="M32.5 688L46.2 696.2" fill="none" stroke="#1a1a1a" stroke-width="2.2" stroke-linejoin="round" stroke-linecap="round"/>
<path d="M91.2 698.8L46.2 675L46.2 716.2L61.2 724.5" fill="none" stroke="#1a1a1a" stroke-width="2.2" stroke-linejoin="round" stroke-linecap="round"/>
<path d="M89.5 740.8 L105 749.2" stroke="#1a1a1a" stroke-width="1.6" fill="none" stroke-linecap="butt"/>
<text x="40" y="586.5">390</text>
<text x="0" y="688.7">370</text>
<text x="56.2" y="741.8">912</text>
</g>
<!-- p18_disc.py -->
<g>
<path d="M130.8 773.8 L130.8 780" stroke="#1a1a1a" stroke-width="1" fill="none" stroke-linecap="butt"/>
<ellipse cx="130.8" cy="845" rx="103.8" ry="60.5" fill="#fff" stroke="#1a1a1a" stroke-width="1"/>
<ellipse cx="130.8" cy="838" rx="103.8" ry="60.5" fill="#fff" stroke="#1a1a1a" stroke-width="1"/>
<ellipse cx="130.8" cy="838" rx="56.2" ry="32.5" fill="none" stroke="#1a1a1a" stroke-width="1"/>
<ellipse cx="130.8" cy="829" rx="38.8" ry="21.5" fill="none" stroke="#1a1a1a" stroke-width="1"/>
<ellipse cx="130.8" cy="828.2" rx="32" ry="17.5" fill="none" stroke="#1a1a1a" stroke-width="1"/>
<ellipse cx="130.8" cy="828" rx="18.8" ry="10" fill="none" stroke="#1a1a1a" stroke-width="1"/>
<path d="M147.7 833.2C147.4 833.7 146.9 835.2 146 836C145.1 836.9 143.7 837.7 142.2 838.4C140.7 839.1 138.8 839.6 136.9 840C135 840.3 132.8 840.5 130.8 840.5C128.7 840.5 126.5 840.3 124.6 840C122.7 839.6 120.8 839.1 119.3 838.4C117.8 837.7 116.4 836.9 115.5 836C114.6 835.2 114.1 833.7 113.8 833.2" fill="none" stroke="#1a1a1a" stroke-width="1" stroke-linejoin="round" stroke-linecap="round"/>
<ellipse cx="112.5" cy="818" rx="2" ry="1.5" fill="none" stroke="#1a1a1a" stroke-width="0.9"/>
<ellipse cx="149.2" cy="818" rx="2" ry="1.5" fill="none" stroke="#1a1a1a" stroke-width="0.9"/>
<ellipse cx="112.5" cy="839.2" rx="2" ry="1.5" fill="none" stroke="#1a1a1a" stroke-width="0.9"/>
<ellipse cx="149.2" cy="839.2" rx="2" ry="1.5" fill="none" stroke="#1a1a1a" stroke-width="0.9"/>
<path d="M130.8 773.8 L130.8 832.5" stroke="#1a1a1a" stroke-width="1" fill="none" stroke-linecap="butt"/>
<path d="M130.8 906.2 L130.8 935" stroke="#1a1a1a" stroke-width="1" fill="none" stroke-linecap="butt"/>
<ellipse cx="130.8" cy="940" rx="37.5" ry="22" fill="#ddd" stroke="#1a1a1a" stroke-width="2.2"/>
<ellipse cx="130.8" cy="936.2" rx="37.5" ry="22" fill="#fafafa" stroke="#1a1a1a" stroke-width="2"/>
<ellipse cx="130.8" cy="937" rx="34.5" ry="19.5" fill="none" stroke="#1a1a1a" stroke-width="0.9"/>
<ellipse cx="130.8" cy="935" rx="22" ry="12.5" fill="none" stroke="#1a1a1a" stroke-width="1"/>
<ellipse cx="130.8" cy="934.5" rx="15" ry="8.5" fill="none" stroke="#1a1a1a" stroke-width="0.9"/>
<ellipse cx="130.8" cy="935" rx="10.5" ry="6" fill="#fff" stroke="#1a1a1a" stroke-width="1.6"/>
<path d="M134.8 939.2C134.1 939.3 132.1 939.8 130.8 939.8C129.4 939.8 127.9 939.5 126.8 939.2C125.6 938.9 124.5 938.3 123.8 937.8C123.2 937.2 122.8 936.4 122.8 935.8C122.8 935.1 123.2 934.3 123.8 933.8C124.5 933.2 125.6 932.6 126.8 932.3C127.9 932 129.4 931.8 130.8 931.8C132.1 931.8 134.1 932.2 134.8 932.3" fill="none" stroke="#1a1a1a" stroke-width="2.2" stroke-linejoin="round" stroke-linecap="round"/>
<path d="M136.2 937C136 937.3 135.6 938.2 134.6 938.6C133.7 939 132 939.2 130.8 939.2C129.5 939.2 127.8 939 126.9 938.6C125.9 938.2 125.2 937.5 125.2 937C125.2 936.5 125.9 935.8 126.9 935.4C127.8 935 129.5 934.8 130.8 934.8C132 934.8 133.7 935 134.6 935.4C135.6 935.8 136 936.7 136.2 937" fill="none" stroke="#1a1a1a" stroke-width="1" stroke-linejoin="round" stroke-linecap="round"/>
<ellipse cx="110" cy="922" rx="4" ry="2.5" fill="#fff" stroke="#1a1a1a" stroke-width="1.2"/>
<ellipse cx="152" cy="922" rx="4" ry="2.5" fill="#fff" stroke="#1a1a1a" stroke-width="1.2"/>
<ellipse cx="110" cy="945.5" rx="4" ry="2.5" fill="#fff" stroke="#1a1a1a" stroke-width="1.2"/>
<ellipse cx="152" cy="945.5" rx="4" ry="2.5" fill="#fff" stroke="#1a1a1a" stroke-width="1.2"/>
<path d="M130.8 906.2 L130.8 935" stroke="#1a1a1a" stroke-width="1" fill="none" stroke-linecap="butt"/>
<path d="M74.2 922.5 L90 931.8" stroke="#1a1a1a" stroke-width="1.6" fill="none" stroke-linecap="butt"/>
<text x="40" y="922.5">380</text>
<text x="161.8" y="1034.5">6000</text>
<path d="M182.5 1038.8 L182.5 1050" stroke="#1a1a1a" stroke-width="1.6" fill="none" stroke-linecap="butt"/>
</g>
<!-- p19_tube.py -->
<g>
<path d="M97.5 1053.7L128.7 1037.5L133.7 1040.5L226.1 1085.4L226.1 1085.4C227.3 1086.6 231.3 1089.6 232.9 1092.4C234.4 1095.3 235.5 1099.1 235.4 1102.4C235.3 1105.8 232.9 1110.8 232.4 1112.4L232.4 1112.4L219.9 1126.2L219.9 1126.2C218.6 1126.9 214.9 1130 212.4 1130.4C209.9 1130.8 206.2 1128.9 204.9 1128.7L204.9 1128.7L102.5 1059.5Z" fill="#fff" stroke="#1a1a1a" stroke-width="2.2" stroke-linejoin="round" stroke-linecap="round"/>
<path d="M103 1059.5L133 1044.5" fill="none" stroke="#1a1a1a" stroke-width="1" stroke-linejoin="round" stroke-linecap="round"/>
<path d="M103.7 1053 L107 1057" stroke="#1a1a1a" stroke-width="0.8" fill="none" stroke-linecap="butt"/>
<path d="M108 1050.7 L111.2 1054.7" stroke="#1a1a1a" stroke-width="0.8" fill="none" stroke-linecap="butt"/>
<path d="M112.2 1048.5 L115.5 1052.5" stroke="#1a1a1a" stroke-width="0.8" fill="none" stroke-linecap="butt"/>
<path d="M116.5 1046.2 L119.7 1050.2" stroke="#1a1a1a" stroke-width="0.8" fill="none" stroke-linecap="butt"/>
<path d="M120.7 1044 L124 1048" stroke="#1a1a1a" stroke-width="0.8" fill="none" stroke-linecap="butt"/>
<path d="M125 1041.7 L128.2 1045.7" stroke="#1a1a1a" stroke-width="0.8" fill="none" stroke-linecap="butt"/>
<path d="M129.2 1039.5 L132.5 1043.5" stroke="#1a1a1a" stroke-width="0.8" fill="none" stroke-linecap="butt"/>
<path d="M226.1 1086.2C223.4 1088.1 214.1 1093.3 209.9 1097.4C205.7 1101.6 202.2 1106.3 201.2 1111.2C200.1 1116.1 203.2 1124.3 203.7 1126.9" fill="none" stroke="#1a1a1a" stroke-width="1" stroke-linejoin="round" stroke-linecap="round"/>
<path d="M219.9 1104.9L236.1 1107.4L243.6 1111.2L239.9 1124.9L227.4 1129.9L216.9 1122.4Z" fill="#e8e8e8" stroke="#1a1a1a" stroke-width="1.5" stroke-linejoin="round" stroke-linecap="round"/>
<path d="M222.7 1103.7C223.1 1103.9 224.4 1104.2 224.9 1105.2C225.3 1106.2 225.5 1107.9 225.4 1109.5C225.3 1111.2 224.8 1113.4 224.1 1115.2C223.5 1117 222.4 1119 221.5 1120.4C220.5 1121.7 219.2 1122.9 218.3 1123.3C217.3 1123.8 216.1 1123.1 215.6 1123.1" fill="none" stroke="#1a1a1a" stroke-width="1.2" stroke-linejoin="round" stroke-linecap="round"/>
<path d="M227.7 1105.7C228.1 1105.9 229.4 1106.2 229.9 1107.2C230.3 1108.2 230.5 1109.9 230.4 1111.5C230.3 1113.2 229.8 1115.4 229.1 1117.2C228.5 1119 227.4 1121 226.4 1122.4C225.5 1123.7 224.2 1124.9 223.3 1125.3C222.3 1125.8 221.1 1125.1 220.6 1125.1" fill="none" stroke="#1a1a1a" stroke-width="1.2" stroke-linejoin="round" stroke-linecap="round"/>
<path d="M232.7 1107.7C233 1107.9 234.4 1108.2 234.9 1109.2C235.3 1110.2 235.5 1111.9 235.4 1113.5C235.3 1115.2 234.8 1117.4 234.1 1119.2C233.5 1121 232.4 1123 231.4 1124.4C230.5 1125.7 229.2 1126.9 228.3 1127.3C227.3 1127.8 226.1 1127.1 225.6 1127.1" fill="none" stroke="#1a1a1a" stroke-width="1.2" stroke-linejoin="round" stroke-linecap="round"/>
<path d="M237.7 1109.7C238 1109.9 239.4 1110.2 239.9 1111.2C240.3 1112.2 240.5 1113.9 240.4 1115.5C240.3 1117.2 239.8 1119.4 239.1 1121.2C238.5 1123 237.4 1125 236.4 1126.4C235.5 1127.7 234.2 1128.9 233.3 1129.3C232.3 1129.8 231.1 1129.1 230.6 1129.1" fill="none" stroke="#1a1a1a" stroke-width="1.2" stroke-linejoin="round" stroke-linecap="round"/>
<ellipse cx="219.1" cy="1113.7" rx="5" ry="11" fill="#eee" stroke="#1a1a1a" stroke-width="1.6" transform="rotate(20 219.1 1113.7)"/>
<path d="M229.9 1117.4C228.7 1120.1 227 1126.2 227.4 1129.9C227.8 1133.6 229.5 1137.5 232.4 1139.9C235.3 1142.3 240.7 1144.1 244.9 1144.1C249 1144.1 254.6 1142.3 257.4 1139.9C260.1 1137.5 261.8 1133 261.4 1129.9C260.9 1126.8 257.5 1122.4 254.9 1121.4C252.2 1120.4 247.7 1124.9 245.4 1123.9C243.1 1122.9 243 1117.1 241.1 1115.4C239.3 1113.7 236.3 1113.3 234.4 1113.7C232.5 1114 231.1 1114.7 229.9 1117.4Z" fill="#fafafa" stroke="#1a1a1a" stroke-width="1.5" stroke-linejoin="round" stroke-linecap="round"/>
<path d="M233.6 1119.9C233.8 1121.6 233.4 1127.4 234.9 1129.9C236.3 1132.4 241.5 1133.2 242.4 1134.9C243.2 1136.6 240.3 1139.1 239.9 1139.9" fill="none" stroke="#1a1a1a" stroke-width="0.9" stroke-linejoin="round" stroke-linecap="round"/>
<path d="M244.9 1124.9C245.3 1125.7 245.7 1129.1 247.4 1129.9C249 1130.7 253.6 1129.9 254.9 1129.9" fill="none" stroke="#1a1a1a" stroke-width="0.9" stroke-linejoin="round" stroke-linecap="round"/>
<path d="M182.4 1039.5 L182.4 1060.5" stroke="#1a1a1a" stroke-width="1.6" fill="none" stroke-linecap="butt"/>
<text transform="matrix(1.288 0.573 -0.871 0.698 127.6 1054.3)" style="font-size:10px;font-weight:bold;fill:#222">Fett / Grease</text>
</g>
<!-- p20_wrench.py -->
<g>
<path d="M524.8 1019.5C526.3 1019.2 530.7 1017.6 533.6 1018C536.5 1018.4 540.5 1020.2 542.3 1022C544.1 1023.8 544.5 1027 544.3 1028.7C544.1 1030.5 541.6 1031.9 541.1 1032.5L541.1 1032.5L406.2 1113.7L406.2 1113.7C405.8 1114.6 404.1 1116.7 403.7 1119.4C403.3 1122.1 405.4 1126.9 403.9 1129.9C402.5 1132.9 398.3 1135.5 394.9 1137.4C391.6 1139.3 386.8 1141 383.7 1141.4C380.6 1141.8 377.9 1141.2 376.2 1139.9C374.5 1138.6 373.5 1135.7 373.5 1133.6C373.5 1131.6 374.2 1129.6 376.2 1127.4C378.2 1125.2 383.9 1121.6 385.5 1120.4L385.5 1120.4C384.5 1119.3 382.5 1115.2 380 1113.7C377.4 1112.1 373.3 1111.2 370 1111.2C366.6 1111.2 363.3 1112.3 360 1113.7C356.6 1115 353.1 1118.5 350 1119.4C346.9 1120.4 343.4 1120.2 341.2 1119.4C339 1118.7 337.4 1116.7 336.7 1114.9C336.1 1113.1 336.3 1110.4 337.5 1108.7C338.7 1106.9 340.8 1105.9 343.7 1104.4C346.6 1103 351.4 1100.8 355 1099.9C358.5 1099 361.4 1099.1 365 1098.9C368.5 1098.8 372.9 1099.6 376.2 1098.9C379.5 1098.3 383.5 1095.6 385 1094.9L385 1094.9L524.8 1019.5Z" fill="#fff" stroke="#1a1a1a" stroke-width="2.2" stroke-linejoin="round" stroke-linecap="round"/>
<path d="M541.8 1029.5C541.5 1029.6 540.2 1030.3 539.8 1030.5L539.8 1030.5L406.2 1110.7L406.2 1110.7C405.6 1111.4 403.6 1112.1 402.9 1114.9C402.2 1117.7 403.5 1124.1 401.9 1127.4C400.4 1130.7 396.7 1133 393.7 1134.9C390.7 1136.8 385.4 1138 383.7 1138.6" fill="none" stroke="#1a1a1a" stroke-width="0.9" stroke-linejoin="round" stroke-linecap="round"/>
<path d="M383.7 1117.4C382.9 1116.4 381 1112.6 378.7 1111.2C376.4 1109.7 373.1 1108.7 370 1108.7C366.8 1108.7 363.3 1109.8 360 1111.2C356.6 1112.5 352.9 1116 350 1116.9C347.1 1117.9 343.7 1116.9 342.5 1116.9" fill="none" stroke="#1a1a1a" stroke-width="0.9" stroke-linejoin="round" stroke-linecap="round"/>
<ellipse cx="347" cy="1110.4" rx="5" ry="2.2" fill="#eee" stroke="#1a1a1a" stroke-width="1.2"/>
<path d="M343.7 1102.9L343.7 1108.9L350.2 1108.9L350.2 1102.9" fill="#eee" stroke="#1a1a1a" stroke-width="1.2" stroke-linejoin="round" stroke-linecap="round"/>
<ellipse cx="347" cy="1108.9" rx="3.2" ry="1.2" fill="#eee" stroke="#1a1a1a" stroke-width="1"/>
<ellipse cx="347" cy="1102.9" rx="3.2" ry="1.2" fill="#fff" stroke="#1a1a1a" stroke-width="1.2"/>
<ellipse cx="384.5" cy="1131.7" rx="5" ry="2.2" fill="#eee" stroke="#1a1a1a" stroke-width="1.2"/>
<path d="M381.2 1124.2L381.2 1130.2L387.7 1130.2L387.7 1124.2" fill="#eee" stroke="#1a1a1a" stroke-width="1.2" stroke-linejoin="round" stroke-linecap="round"/>
<ellipse cx="384.5" cy="1130.2" rx="3.2" ry="1.2" fill="#eee" stroke="#1a1a1a" stroke-width="1"/>
<ellipse cx="384.5" cy="1124.2" rx="3.2" ry="1.2" fill="#fff" stroke="#1a1a1a" stroke-width="1.2"/>
<path d="M428.7 1056.2 L428.7 1068.7" stroke="#1a1a1a" stroke-width="1.6" fill="none" stroke-linecap="butt"/>
<text x="407.9" y="1052.5">5000</text>
</g>
<!-- p30_plugs.py -->
<g>
<path d="M741.2 975.7 L790.5 975.7" stroke="#1a1a1a" stroke-width="1.6" fill="none" stroke-linecap="butt"/>
<path d="M741.2 984.2 L790.5 984.2" stroke="#1a1a1a" stroke-width="1.6" fill="none" stroke-linecap="butt"/>
<path d="M790.5 973.7L797.4 972.9L797.4 972.9C798.1 972.4 799.7 970.4 801.2 969.4C802.7 968.5 805.4 967.8 806.2 967.4L806.2 967.4L834.4 967.4L834.4 992.9L806.2 992.9L806.2 992.9C805.4 992.6 802.7 992.1 801.2 991.2C799.7 990.3 798.1 988.1 797.4 987.4L797.4 987.4L790.5 987.4Z" fill="#fff" stroke="#1a1a1a" stroke-width="1.6" stroke-linejoin="round" stroke-linecap="round"/>
<path d="M792.5 974.2L828.7 976.2L828.7 976.2C829.1 976.8 831.2 978.6 831.2 979.9C831.2 981.3 829.1 983.5 828.7 984.2L828.7 984.2L792.5 986.2Z" fill="#ddd" stroke="#1a1a1a" stroke-width="1.4" stroke-linejoin="round" stroke-linecap="round"/>
<path d="M794.5 974.9 L794.5 985.4" stroke="#1a1a1a" stroke-width="0.8" fill="none" stroke-linecap="butt"/>
<path d="M796.5 974.9 L796.5 985.4" stroke="#1a1a1a" stroke-width="0.8" fill="none" stroke-linecap="butt"/>
<path d="M798.4 974.9 L798.4 985.4" stroke="#1a1a1a" stroke-width="0.8" fill="none" stroke-linecap="butt"/>
<path d="M800.4 974.9 L800.4 985.4" stroke="#1a1a1a" stroke-width="0.8" fill="none" stroke-linecap="butt"/>
<path d="M802.4 974.9 L802.4 985.4" stroke="#1a1a1a" stroke-width="0.8" fill="none" stroke-linecap="butt"/>
<path d="M804.4 974.9 L804.4 985.4" stroke="#1a1a1a" stroke-width="0.8" fill="none" stroke-linecap="butt"/>
<path d="M806.4 974.9 L806.4 985.4" stroke="#1a1a1a" stroke-width="0.8" fill="none" stroke-linecap="butt"/>
<path d="M808.4 974.9 L808.4 985.4" stroke="#1a1a1a" stroke-width="0.8" fill="none" stroke-linecap="butt"/>
<path d="M810.4 974.9 L810.4 985.4" stroke="#1a1a1a" stroke-width="0.8" fill="none" stroke-linecap="butt"/>
<path d="M812.4 974.9 L812.4 985.4" stroke="#1a1a1a" stroke-width="0.8" fill="none" stroke-linecap="butt"/>
<path d="M814.4 974.9 L814.4 985.4" stroke="#1a1a1a" stroke-width="0.8" fill="none" stroke-linecap="butt"/>
<path d="M816.4 974.9 L816.4 985.4" stroke="#1a1a1a" stroke-width="0.8" fill="none" stroke-linecap="butt"/>
<path d="M818.4 974.9 L818.4 985.4" stroke="#1a1a1a" stroke-width="0.8" fill="none" stroke-linecap="butt"/>
<path d="M820.4 974.9 L820.4 985.4" stroke="#1a1a1a" stroke-width="0.8" fill="none" stroke-linecap="butt"/>
<path d="M822.4 974.9 L822.4 985.4" stroke="#1a1a1a" stroke-width="0.8" fill="none" stroke-linecap="butt"/>
<path d="M824.4 974.9 L824.4 985.4" stroke="#1a1a1a" stroke-width="0.8" fill="none" stroke-linecap="butt"/>
<path d="M826.4 974.9 L826.4 985.4" stroke="#1a1a1a" stroke-width="0.8" fill="none" stroke-linecap="butt"/>
<path d="M834.9 972.4L853.7 972.4L854.2 973.4L853.7 974.4L834.9 974.4" fill="#eee" stroke="#1a1a1a" stroke-width="1.1" stroke-linejoin="round" stroke-linecap="round"/>
<path d="M834.9 986.2L853.7 986.2L854.2 987.2L853.7 988.2L834.9 988.2" fill="#eee" stroke="#1a1a1a" stroke-width="1.1" stroke-linejoin="round" stroke-linecap="round"/>
<path d="M815.4 930.5 L815.4 964.5" stroke="#1a1a1a" stroke-width="1.6" fill="none" stroke-linecap="butt"/>
<text x="800.4" y="927.7">585</text>
<path d="M907.4 974.9 L928.6 974.9" stroke="#1a1a1a" stroke-width="1.6" fill="none" stroke-linecap="butt"/>
<path d="M907.4 985.4 L928.6 985.4" stroke="#1a1a1a" stroke-width="1.6" fill="none" stroke-linecap="butt"/>
<path d="M928.6 972.4C933 972.2 947.1 971.7 954.8 970.7C962.5 969.7 969 967.9 974.8 966.2C980.6 964.5 985.2 961.7 989.8 960.7C994.4 959.7 1000.2 960.1 1002.3 960L1002.3 960L1021 960L1021 999.9L1002.3 999.9L1002.3 999.9C1000.2 999.7 994.4 999.8 989.8 998.7C985.2 997.5 980.6 994.6 974.8 992.9C969 991.3 962.5 989.6 954.8 988.7C947.1 987.8 933 987.6 928.6 987.4Z" fill="#fff" stroke="#1a1a1a" stroke-width="1.6" stroke-linejoin="round" stroke-linecap="round"/>
<path d="M1021 966.9L1039.3 966.9L1039.3 966.9C1039.7 967.4 1041.8 968.8 1041.8 969.7C1041.8 970.6 1039.7 972 1039.3 972.4L1039.3 972.4L1021 972.4" fill="#fff" stroke="#1a1a1a" stroke-width="1.4" stroke-linejoin="round" stroke-linecap="round"/>
<path d="M1021 987.9L1039.3 987.9L1039.3 987.9C1039.7 988.4 1041.8 989.8 1041.8 990.7C1041.8 991.6 1039.7 993 1039.3 993.4L1039.3 993.4L1021 993.4" fill="#fff" stroke="#1a1a1a" stroke-width="1.4" stroke-linejoin="round" stroke-linecap="round"/>
<path d="M973.6 930.5 L973.6 962" stroke="#1a1a1a" stroke-width="1.6" fill="none" stroke-linecap="butt"/>
<text x="958.6" y="927.7">580</text>
<path d="M1073.3 975.3 L1118 975.3" stroke="#1a1a1a" stroke-width="1.6" fill="none" stroke-linecap="butt"/>
<path d="M1073.3 985.2 L1118 985.2" stroke="#1a1a1a" stroke-width="1.6" fill="none" stroke-linecap="butt"/>
<path d="M1150.2 972.1C1151.6 971.6 1155.7 970.4 1158.5 968.6C1161.3 966.8 1164 963.1 1166.8 961.3C1169.6 959.6 1172.6 958.8 1175.1 958.2C1177.6 957.6 1180.7 957.7 1181.8 957.6L1181.8 957.6L1181.8 1002.9L1181.8 1002.9C1180.7 1002.8 1177.6 1003 1175.1 1002.3C1172.6 1001.6 1169.6 1000.5 1166.8 998.8C1164 997 1161.3 993.6 1158.5 991.9C1155.7 990.2 1151.6 988.9 1150.2 988.4L1150.2 988.4L1120 988.4L1120 988.4C1119.6 987 1117.3 983 1117.3 980.2C1117.3 977.5 1119.6 973.5 1120 972.1Z" fill="#fff" stroke="#1a1a1a" stroke-width="1.6" stroke-linejoin="round" stroke-linecap="round"/>
<path d="M1123.2 972.3L1126.1 972.3L1126.1 988.1L1123.2 988.1Z" fill="#bbb" stroke="#1a1a1a" stroke-width="0.8" stroke-linejoin="round" stroke-linecap="round"/>
<path d="M1131.5 972.3L1134.4 972.3L1134.4 988.1L1131.5 988.1Z" fill="#bbb" stroke="#1a1a1a" stroke-width="0.8" stroke-linejoin="round" stroke-linecap="round"/>
<path d="M1139.4 972.3L1142.3 972.3L1142.3 988.1L1139.4 988.1Z" fill="#bbb" stroke="#1a1a1a" stroke-width="0.8" stroke-linejoin="round" stroke-linecap="round"/>
<path d="M1147.1 972.3L1150 972.3L1150 988.1L1147.1 988.1Z" fill="#bbb" stroke="#1a1a1a" stroke-width="0.8" stroke-linejoin="round" stroke-linecap="round"/>
<path d="M1182.4 969.6L1201.1 969.6L1201.1 974.8L1182.4 974.8" fill="#ccc" stroke="#1a1a1a" stroke-width="1.2" stroke-linejoin="round" stroke-linecap="round"/>
<path d="M1182.4 985.2L1201.1 985.2L1201.1 990.9L1182.4 990.9" fill="#ccc" stroke="#1a1a1a" stroke-width="1.2" stroke-linejoin="round" stroke-linecap="round"/>
<path d="M1182.4 979L1204.9 979L1204.9 981.1L1182.4 981.1" fill="#fff" stroke="#1a1a1a" stroke-width="1.2" stroke-linejoin="round" stroke-linecap="round"/>
<path d="M1147.3 930.1 L1147.3 962" stroke="#1a1a1a" stroke-width="1.6" fill="none" stroke-linecap="butt"/>
<text x="1131.9" y="927.7">583</text>
<path d="M1278 1012.3L1258.3 1012.3L1254.1 1008.1L1254.1 1008.1C1253.7 1003.6 1251.6 990 1251.6 981.1C1251.6 972.1 1253.7 958.9 1254.1 954.5L1254.1 954.5L1258.3 950.9L1278 950.9Z" fill="#eee" stroke="#1a1a1a" stroke-width="1.8" stroke-linejoin="round" stroke-linecap="round"/>
<path d="M1257.3 956.5L1257.3 1008.5" fill="none" stroke="#1a1a1a" stroke-width="0.9" stroke-linejoin="round" stroke-linecap="round"/>
<path d="M1260.8 960.3L1274.9 962.4L1274.9 1002.3L1260.8 1005Z" fill="#fff" stroke="#1a1a1a" stroke-width="1.2" stroke-linejoin="round" stroke-linecap="round"/>
<path d="M1263.5 968.6L1272.8 969.6L1272.8 997.3L1263.5 998.8Z" fill="none" stroke="#1a1a1a" stroke-width="0.8" stroke-linejoin="round" stroke-linecap="round"/>
<path d="M1278 958.6L1302 958.6L1302 958.6C1302.4 959.4 1304.4 961.8 1304.4 963.4C1304.4 965 1302.4 967.4 1302 968.2L1302 968.2L1278 968.2" fill="#fff" stroke="#1a1a1a" stroke-width="1.4" stroke-linejoin="round" stroke-linecap="round"/>
<path d="M1278 985.7L1294.1 985.7L1297.8 989L1294.1 992.3L1278 992.3" fill="#fff" stroke="#1a1a1a" stroke-width="1.4" stroke-linejoin="round" stroke-linecap="round"/>
<path d="M1288.4 985.7 L1288.4 992.3" stroke="#1a1a1a" stroke-width="0.8" fill="none" stroke-linecap="butt"/>
<path d="M1269.7 931.2 L1269.7 947.8" stroke="#1a1a1a" stroke-width="1.6" fill="none" stroke-linecap="butt"/>
<text x="1254.1" y="928.8">581</text>
</g>
<!-- p31_plug586.py -->
<g>
<path d="M1037.7 820.7L1037.7 757.8L1145.9 757.8L1145.9 767.8" fill="none" stroke="#1a1a1a" stroke-width="2.6" stroke-linejoin="round" stroke-linecap="round" stroke-linecap="butt"/>
<path d="M1093.4 748.5 L1093.4 757.8" stroke="#1a1a1a" stroke-width="2.6" fill="none" stroke-linecap="butt"/>
<text x="1078" y="745.5">586</text>
<text x="1129.7" y="783.4">587</text>
<path d="M1145.4 785.1 L1145.4 803.1" stroke="#1a1a1a" stroke-width="1.6" fill="none" stroke-linecap="butt"/>
<path d="M1030.1 824 L1047.8 824" stroke="#1a1a1a" stroke-width="1.8" fill="none" stroke-linecap="butt"/>
<path d="M1030.1 830.8 L1047.8 830.8" stroke="#1a1a1a" stroke-width="1.8" fill="none" stroke-linecap="butt"/>
<path d="M1047.8 823.2L1071.3 817.7L1071.3 837.5L1047.8 831.6Z" fill="#fff" stroke="#1a1a1a" stroke-width="1.5" stroke-linejoin="round" stroke-linecap="round"/>
<path d="M1055.3 821.5 L1055.3 833.3" stroke="#1a1a1a" stroke-width="2" fill="none" stroke-linecap="butt"/>
<path d="M1063.7 819.7 L1063.7 835.5" stroke="#1a1a1a" stroke-width="2" fill="none" stroke-linecap="butt"/>
<path d="M1071.3 818.7L1085.2 818.7L1085.2 837.1L1071.3 837.1" fill="#fff" stroke="#1a1a1a" stroke-width="1.5" stroke-linejoin="round" stroke-linecap="round"/>
<path d="M1085.2 813.1L1103.1 809.8L1104.3 811.6L1149.3 804.4L1165.2 804.4L1165.2 851.4L1149.3 851.4L1104.3 844.2L1103.1 846.2L1085.2 841.7Z" fill="#fff" stroke="#1a1a1a" stroke-width="1.6" stroke-linejoin="round" stroke-linecap="round"/>
<path d="M1091.4 812 L1091.4 843" stroke="#1a1a1a" stroke-width="1.6" fill="none" stroke-linecap="butt"/>
<path d="M1104 811.5 L1104 845" stroke="#1a1a1a" stroke-width="1.6" fill="none" stroke-linecap="butt"/>
<path d="M1108.2 811.1 L1108.2 845" stroke="#1a1a1a" stroke-width="1.6" fill="none" stroke-linecap="butt"/>
<path d="M1112.4 810.3 L1112.4 845.5" stroke="#1a1a1a" stroke-width="1.6" fill="none" stroke-linecap="butt"/>
<path d="M1114.9 809.9 L1114.9 845.9" stroke="#1a1a1a" stroke-width="1.6" fill="none" stroke-linecap="butt"/>
<path d="M1119.9 809.1 L1119.9 846.7" stroke="#1a1a1a" stroke-width="1.6" fill="none" stroke-linecap="butt"/>
<path d="M1122.1 808.8 L1122.1 847" stroke="#1a1a1a" stroke-width="1.6" fill="none" stroke-linecap="butt"/>
<path d="M1127.5 807.9 L1127.5 847.5" stroke="#1a1a1a" stroke-width="1.6" fill="none" stroke-linecap="butt"/>
<path d="M1129.5 807.6 L1129.5 847.9" stroke="#1a1a1a" stroke-width="1.6" fill="none" stroke-linecap="butt"/>
<path d="M1135.9 806.6 L1135.9 849.2" stroke="#1a1a1a" stroke-width="1.6" fill="none" stroke-linecap="butt"/>
<path d="M1138.4 806.3 L1138.4 849.6" stroke="#1a1a1a" stroke-width="1.6" fill="none" stroke-linecap="butt"/>
<path d="M1149.3 804.4 L1149.3 851.4" stroke="#1a1a1a" stroke-width="1.6" fill="none" stroke-linecap="butt"/>
<path d="M1159.9 804.4 L1159.9 851.4" stroke="#1a1a1a" stroke-width="1.6" fill="none" stroke-linecap="butt"/>
<path d="M1165.2 806.4L1200.5 806.4L1200.5 849.2L1165.2 849.2" fill="#fff" stroke="#1a1a1a" stroke-width="1.6" stroke-linejoin="round" stroke-linecap="round"/>
<path d="M1188.2 806.4L1188.2 804.4L1200.5 804.4L1200.5 807.3" fill="#fff" stroke="#1a1a1a" stroke-width="1.4" stroke-linejoin="round" stroke-linecap="round"/>
<path d="M1162.4 804.4L1162.4 802.2L1165.7 802.2L1165.7 804.4" fill="#fff" stroke="#1a1a1a" stroke-width="1.3" stroke-linejoin="round" stroke-linecap="round"/>
<path d="M1126.6 846.7L1135 847.9L1128.3 856.8L1126.6 856.3Z" fill="#fff" stroke="#1a1a1a" stroke-width="1.5" stroke-linejoin="round" stroke-linecap="round"/>
<path d="M1127.5 849.2L1131.7 849.6" fill="none" stroke="#1a1a1a" stroke-width="1" stroke-linejoin="round" stroke-linecap="round"/>
<text x="777" y="1068.8" style="font-size:19px">N 13</text>
</g>
<!-- p40_rotor.py -->
<g>
<path d="M615 335.5 L643.8 318" stroke="#1a1a1a" stroke-width="1" fill="none" stroke-linecap="butt"/>
<path d="M845.9 201.9 L924.9 156.2" stroke="#1a1a1a" stroke-width="1" fill="none" stroke-linecap="butt"/>
<path d="M836.9 201.3L844 197.2L844 197.2C844.1 197.1 844.5 197 844.7 197C845 196.9 845.3 197 845.6 197.1C845.9 197.1 846.2 197.3 846.5 197.4C846.8 197.6 847.1 197.9 847.4 198.1C847.7 198.4 848 198.7 848.2 199C848.5 199.4 848.7 199.7 848.9 200.1C849.2 200.5 849.4 200.9 849.5 201.3C849.7 201.7 849.8 202.1 849.9 202.5C850 202.8 850 203.2 850 203.6C850 203.9 850 204.3 849.9 204.6C849.8 204.8 849.7 205.1 849.6 205.3C849.4 205.5 849.1 205.7 849 205.8L849 205.8L841.9 210Z" fill="#f4f4f4" stroke="#1a1a1a" stroke-width="1.2" stroke-linejoin="round" stroke-linecap="round"/>
<ellipse cx="839.4" cy="205.6" rx="5" ry="2.8" fill="#f4f4f4" stroke="#1a1a1a" stroke-width="1.2" transform="rotate(60 839.4 205.6)"/>
<path d="M825.3 202.8L835.3 197L835.3 197C835.5 197 836.1 196.7 836.6 196.6C837.1 196.6 837.7 196.6 838.2 196.8C838.8 197 839.4 197.2 839.9 197.6C840.5 197.9 841.1 198.3 841.6 198.8C842.2 199.3 842.7 199.9 843.2 200.6C843.7 201.2 844.2 201.9 844.6 202.6C845 203.3 845.4 204.1 845.7 204.8C846 205.6 846.2 206.3 846.4 207.1C846.5 207.8 846.6 208.5 846.6 209.2C846.7 209.9 846.6 210.5 846.4 211C846.3 211.6 846.1 212.1 845.8 212.5C845.5 212.9 844.9 213.3 844.8 213.5L844.8 213.5L834.8 219.2Z" fill="#f0f0f0" stroke="#1a1a1a" stroke-width="1.3" stroke-linejoin="round" stroke-linecap="round"/>
<ellipse cx="830.1" cy="211" rx="9.5" ry="5.3" fill="#f0f0f0" stroke="#1a1a1a" stroke-width="1.3" transform="rotate(60 830.1 211)"/>
<path d="M802.9 202.4L820.9 192.1L820.9 192.1C821.4 191.9 822.8 191.2 823.9 191.2C824.9 191.1 826.2 191.2 827.4 191.6C828.6 191.9 829.9 192.5 831.1 193.2C832.4 194 833.7 195 834.9 196.1C836.2 197.2 837.4 198.5 838.5 199.9C839.6 201.2 840.6 202.8 841.6 204.4C842.5 205.9 843.3 207.6 843.9 209.3C844.6 210.9 845.1 212.6 845.4 214.3C845.8 215.9 846 217.5 846 219C846 220.4 845.9 221.8 845.6 223.1C845.2 224.3 844.8 225.4 844.1 226.3C843.5 227.2 842.2 228.1 841.9 228.4L841.9 228.4L823.9 238.8Z" fill="#f4f4f4" stroke="#1a1a1a" stroke-width="1.4" stroke-linejoin="round" stroke-linecap="round"/>
<ellipse cx="813.4" cy="220.6" rx="21" ry="11.8" fill="#f4f4f4" stroke="#1a1a1a" stroke-width="1.4" transform="rotate(60 813.4 220.6)"/>
<path d="M802.9 202.4 L820.9 192.1" stroke="#1a1a1a" stroke-width="0.9" fill="none" stroke-linecap="butt"/>
<path d="M805.8 201.5 L823.8 191.2" stroke="#1a1a1a" stroke-width="0.9" fill="none" stroke-linecap="butt"/>
<path d="M809.2 201.9 L827.1 191.5" stroke="#1a1a1a" stroke-width="0.9" fill="none" stroke-linecap="butt"/>
<path d="M812.8 203.4 L830.8 193" stroke="#1a1a1a" stroke-width="0.9" fill="none" stroke-linecap="butt"/>
<path d="M816.5 206 L834.4 195.6" stroke="#1a1a1a" stroke-width="0.9" fill="none" stroke-linecap="butt"/>
<path d="M820 209.5 L837.9 199.2" stroke="#1a1a1a" stroke-width="0.9" fill="none" stroke-linecap="butt"/>
<path d="M823 213.8 L841 203.4" stroke="#1a1a1a" stroke-width="0.9" fill="none" stroke-linecap="butt"/>
<path d="M825.5 218.5 L843.4 208.1" stroke="#1a1a1a" stroke-width="0.9" fill="none" stroke-linecap="butt"/>
<path d="M827.2 223.3 L845.1 212.9" stroke="#1a1a1a" stroke-width="0.9" fill="none" stroke-linecap="butt"/>
<path d="M828 228 L845.9 217.6" stroke="#1a1a1a" stroke-width="0.9" fill="none" stroke-linecap="butt"/>
<path d="M827.8 232.1 L845.8 221.8" stroke="#1a1a1a" stroke-width="0.9" fill="none" stroke-linecap="butt"/>
<path d="M826.8 235.6 L844.8 225.2" stroke="#1a1a1a" stroke-width="0.9" fill="none" stroke-linecap="butt"/>
<path d="M824.9 238.1 L842.9 227.7" stroke="#1a1a1a" stroke-width="0.9" fill="none" stroke-linecap="butt"/>
<path d="M784.6 209.8L801.5 200.1L801.5 200.1C802.1 199.9 803.7 199.1 804.9 199C806.1 198.9 807.5 199.1 808.9 199.5C810.2 199.9 811.7 200.5 813.1 201.4C814.6 202.2 816.1 203.3 817.4 204.6C818.8 205.8 820.2 207.3 821.4 208.9C822.7 210.4 823.9 212.2 824.9 214C825.9 215.7 826.9 217.7 827.6 219.5C828.3 221.4 828.9 223.3 829.3 225.1C829.7 227 829.9 228.8 829.9 230.5C830 232.1 829.8 233.7 829.4 235.1C829.1 236.5 828.5 237.8 827.8 238.8C827.2 239.8 825.7 240.8 825.3 241.2L825.3 241.2L808.4 250.9Z" fill="#ececec" stroke="#1a1a1a" stroke-width="1.4" stroke-linejoin="round" stroke-linecap="round"/>
<ellipse cx="796.5" cy="230.4" rx="23.8" ry="13.3" fill="#ececec" stroke="#1a1a1a" stroke-width="1.4" transform="rotate(60 796.5 230.4)"/>
<path d="M786.1 209.1 L809.8 200.2" stroke="#1a1a1a" stroke-width="0.9" fill="none" stroke-linecap="butt"/>
<path d="M793.8 209.5 L802.1 199.8" stroke="#1a1a1a" stroke-width="0.9" fill="none" stroke-linecap="butt"/>
<path d="M790.2 208.6 L814.7 203" stroke="#1a1a1a" stroke-width="0.9" fill="none" stroke-linecap="butt"/>
<path d="M798.7 212.2 L806.3 199.3" stroke="#1a1a1a" stroke-width="0.9" fill="none" stroke-linecap="butt"/>
<path d="M795 210 L819.5 207.3" stroke="#1a1a1a" stroke-width="0.9" fill="none" stroke-linecap="butt"/>
<path d="M803.4 216.5 L811 200.7" stroke="#1a1a1a" stroke-width="0.9" fill="none" stroke-linecap="butt"/>
<path d="M799.9 213.1 L823.6 212.8" stroke="#1a1a1a" stroke-width="0.9" fill="none" stroke-linecap="butt"/>
<path d="M807.6 222.1 L815.9 203.9" stroke="#1a1a1a" stroke-width="0.9" fill="none" stroke-linecap="butt"/>
<path d="M804.5 217.8 L826.9 219" stroke="#1a1a1a" stroke-width="0.9" fill="none" stroke-linecap="butt"/>
<path d="M810.8 228.3 L820.5 208.5" stroke="#1a1a1a" stroke-width="0.9" fill="none" stroke-linecap="butt"/>
<path d="M808.5 223.5 L828.9 225.4" stroke="#1a1a1a" stroke-width="0.9" fill="none" stroke-linecap="butt"/>
<path d="M812.9 234.6 L824.5 214.2" stroke="#1a1a1a" stroke-width="0.9" fill="none" stroke-linecap="butt"/>
<path d="M811.4 229.8 L829.5 231.4" stroke="#1a1a1a" stroke-width="0.9" fill="none" stroke-linecap="butt"/>
<path d="M813.5 240.6 L827.5 220.5" stroke="#1a1a1a" stroke-width="0.9" fill="none" stroke-linecap="butt"/>
<path d="M813.1 236.1 L828.7 236.4" stroke="#1a1a1a" stroke-width="0.9" fill="none" stroke-linecap="butt"/>
<path d="M812.7 245.7 L829.2 226.9" stroke="#1a1a1a" stroke-width="0.9" fill="none" stroke-linecap="butt"/>
<path d="M813.4 241.9 L826.5 240.1" stroke="#1a1a1a" stroke-width="0.9" fill="none" stroke-linecap="butt"/>
<path d="M810.5 249.4 L829.4 232.7" stroke="#1a1a1a" stroke-width="0.9" fill="none" stroke-linecap="butt"/>
<path d="M780.6 218.8L787.9 214.5L787.9 214.5C788.4 214.4 789.6 213.8 790.5 213.8C791.4 213.7 792.5 213.8 793.5 214.1C794.6 214.4 795.7 214.9 796.8 215.5C797.8 216.2 799 217 800 218C801.1 218.9 802.1 220 803 221.2C804 222.4 804.9 223.7 805.7 225.1C806.4 226.4 807.1 227.9 807.7 229.3C808.3 230.7 808.7 232.2 809 233.6C809.3 234.9 809.5 236.3 809.5 237.6C809.5 238.8 809.4 240.1 809.1 241.1C808.8 242.2 808.4 243.1 807.9 243.9C807.4 244.6 806.3 245.4 805.9 245.7L805.9 245.7L798.6 250Z" fill="#f4f4f4" stroke="#1a1a1a" stroke-width="1.3" stroke-linejoin="round" stroke-linecap="round"/>
<ellipse cx="789.6" cy="234.4" rx="18" ry="10.1" fill="#f4f4f4" stroke="#1a1a1a" stroke-width="1.3" transform="rotate(60 789.6 234.4)"/>
<path d="M706.3 248.7L775 209L775 209C775.7 208.8 777.6 207.9 779.1 207.8C780.6 207.7 782.3 207.9 784 208.3C785.7 208.8 787.5 209.6 789.3 210.7C791 211.7 792.9 213.1 794.6 214.6C796.3 216.2 798 218 799.5 219.9C801 221.8 802.5 224 803.8 226.2C805 228.4 806.2 230.7 807.1 233C808 235.3 808.7 237.7 809.2 239.9C809.7 242.2 809.9 244.5 810 246.5C810 248.5 809.8 250.5 809.3 252.2C808.9 253.9 808.2 255.5 807.4 256.7C806.5 258 804.7 259.2 804.2 259.7L804.2 259.7L735.6 299.3Z" fill="#efefef" stroke="#1a1a1a" stroke-width="1.8" stroke-linejoin="round" stroke-linecap="round"/>
<ellipse cx="721" cy="274" rx="29.2" ry="16.4" fill="#efefef" stroke="#1a1a1a" stroke-width="1.8" transform="rotate(60 721 274)"/>
<path d="M710 246.7 L776 208.5" stroke="#1a1a1a" stroke-width="1.6" fill="none" stroke-linecap="butt"/>
<path d="M711.8 245.7 L716.4 245.3" stroke="#1a1a1a" stroke-width="0.7" fill="none" stroke-linecap="butt"/>
<path d="M714.2 244.4 L718.7 244" stroke="#1a1a1a" stroke-width="0.7" fill="none" stroke-linecap="butt"/>
<path d="M716.5 243 L721.1 242.6" stroke="#1a1a1a" stroke-width="0.7" fill="none" stroke-linecap="butt"/>
<path d="M718.9 241.7 L723.4 241.3" stroke="#1a1a1a" stroke-width="0.7" fill="none" stroke-linecap="butt"/>
<path d="M721.2 240.3 L725.7 239.9" stroke="#1a1a1a" stroke-width="0.7" fill="none" stroke-linecap="butt"/>
<path d="M723.5 239 L728.1 238.6" stroke="#1a1a1a" stroke-width="0.7" fill="none" stroke-linecap="butt"/>
<path d="M725.9 237.6 L730.4 237.2" stroke="#1a1a1a" stroke-width="0.7" fill="none" stroke-linecap="butt"/>
<path d="M728.2 236.3 L732.8 235.9" stroke="#1a1a1a" stroke-width="0.7" fill="none" stroke-linecap="butt"/>
<path d="M730.6 234.9 L735.1 234.5" stroke="#1a1a1a" stroke-width="0.7" fill="none" stroke-linecap="butt"/>
<path d="M732.9 233.6 L737.4 233.2" stroke="#1a1a1a" stroke-width="0.7" fill="none" stroke-linecap="butt"/>
<path d="M735.2 232.2 L739.8 231.8" stroke="#1a1a1a" stroke-width="0.7" fill="none" stroke-linecap="butt"/>
<path d="M737.6 230.9 L742.1 230.5" stroke="#1a1a1a" stroke-width="0.7" fill="none" stroke-linecap="butt"/>
<path d="M739.9 229.5 L744.4 229.1" stroke="#1a1a1a" stroke-width="0.7" fill="none" stroke-linecap="butt"/>
<path d="M742.2 228.2 L746.8 227.8" stroke="#1a1a1a" stroke-width="0.7" fill="none" stroke-linecap="butt"/>
<path d="M744.6 226.8 L749.1 226.4" stroke="#1a1a1a" stroke-width="0.7" fill="none" stroke-linecap="butt"/>
<path d="M746.9 225.5 L751.5 225.1" stroke="#1a1a1a" stroke-width="0.7" fill="none" stroke-linecap="butt"/>
<path d="M749.3 224.1 L753.8 223.7" stroke="#1a1a1a" stroke-width="0.7" fill="none" stroke-linecap="butt"/>
<path d="M751.6 222.8 L756.1 222.4" stroke="#1a1a1a" stroke-width="0.7" fill="none" stroke-linecap="butt"/>
<path d="M753.9 221.4 L758.5 221" stroke="#1a1a1a" stroke-width="0.7" fill="none" stroke-linecap="butt"/>
<path d="M756.3 220.1 L760.8 219.7" stroke="#1a1a1a" stroke-width="0.7" fill="none" stroke-linecap="butt"/>
<path d="M758.6 218.7 L763.2 218.3" stroke="#1a1a1a" stroke-width="0.7" fill="none" stroke-linecap="butt"/>
<path d="M760.9 217.4 L765.5 217" stroke="#1a1a1a" stroke-width="0.7" fill="none" stroke-linecap="butt"/>
<path d="M763.3 216 L767.8 215.6" stroke="#1a1a1a" stroke-width="0.7" fill="none" stroke-linecap="butt"/>
<path d="M765.6 214.7 L770.2 214.3" stroke="#1a1a1a" stroke-width="0.7" fill="none" stroke-linecap="butt"/>
<path d="M768 213.3 L772.5 212.9" stroke="#1a1a1a" stroke-width="0.7" fill="none" stroke-linecap="butt"/>
<path d="M770.3 212 L774.8 211.6" stroke="#1a1a1a" stroke-width="0.7" fill="none" stroke-linecap="butt"/>
<path d="M772.6 210.6 L777.2 210.2" stroke="#1a1a1a" stroke-width="0.7" fill="none" stroke-linecap="butt"/>
<path d="M775 209.3 L779.5 208.9" stroke="#1a1a1a" stroke-width="0.7" fill="none" stroke-linecap="butt"/>
<path d="M716.3 246.1 L782.3 208" stroke="#1a1a1a" stroke-width="1.6" fill="none" stroke-linecap="butt"/>
<path d="M718.4 245.7 L723.6 247.8" stroke="#1a1a1a" stroke-width="0.7" fill="none" stroke-linecap="butt"/>
<path d="M720.7 244.3 L725.9 246.4" stroke="#1a1a1a" stroke-width="0.7" fill="none" stroke-linecap="butt"/>
<path d="M723.1 243 L728.3 245.1" stroke="#1a1a1a" stroke-width="0.7" fill="none" stroke-linecap="butt"/>
<path d="M725.4 241.6 L730.6 243.7" stroke="#1a1a1a" stroke-width="0.7" fill="none" stroke-linecap="butt"/>
<path d="M727.7 240.3 L733 242.4" stroke="#1a1a1a" stroke-width="0.7" fill="none" stroke-linecap="butt"/>
<path d="M730.1 238.9 L735.3 241" stroke="#1a1a1a" stroke-width="0.7" fill="none" stroke-linecap="butt"/>
<path d="M732.4 237.6 L737.6 239.7" stroke="#1a1a1a" stroke-width="0.7" fill="none" stroke-linecap="butt"/>
<path d="M734.7 236.2 L740 238.3" stroke="#1a1a1a" stroke-width="0.7" fill="none" stroke-linecap="butt"/>
<path d="M737.1 234.9 L742.3 237" stroke="#1a1a1a" stroke-width="0.7" fill="none" stroke-linecap="butt"/>
<path d="M739.4 233.5 L744.7 235.6" stroke="#1a1a1a" stroke-width="0.7" fill="none" stroke-linecap="butt"/>
<path d="M741.8 232.2 L747 234.3" stroke="#1a1a1a" stroke-width="0.7" fill="none" stroke-linecap="butt"/>
<path d="M744.1 230.8 L749.3 232.9" stroke="#1a1a1a" stroke-width="0.7" fill="none" stroke-linecap="butt"/>
<path d="M746.4 229.5 L751.7 231.6" stroke="#1a1a1a" stroke-width="0.7" fill="none" stroke-linecap="butt"/>
<path d="M748.8 228.1 L754 230.2" stroke="#1a1a1a" stroke-width="0.7" fill="none" stroke-linecap="butt"/>
<path d="M751.1 226.8 L756.3 228.9" stroke="#1a1a1a" stroke-width="0.7" fill="none" stroke-linecap="butt"/>
<path d="M753.5 225.4 L758.7 227.5" stroke="#1a1a1a" stroke-width="0.7" fill="none" stroke-linecap="butt"/>
<path d="M755.8 224.1 L761 226.2" stroke="#1a1a1a" stroke-width="0.7" fill="none" stroke-linecap="butt"/>
<path d="M758.1 222.7 L763.4 224.8" stroke="#1a1a1a" stroke-width="0.7" fill="none" stroke-linecap="butt"/>
<path d="M760.5 221.4 L765.7 223.5" stroke="#1a1a1a" stroke-width="0.7" fill="none" stroke-linecap="butt"/>
<path d="M762.8 220 L768 222.1" stroke="#1a1a1a" stroke-width="0.7" fill="none" stroke-linecap="butt"/>
<path d="M765.1 218.7 L770.4 220.8" stroke="#1a1a1a" stroke-width="0.7" fill="none" stroke-linecap="butt"/>
<path d="M767.5 217.3 L772.7 219.4" stroke="#1a1a1a" stroke-width="0.7" fill="none" stroke-linecap="butt"/>
<path d="M769.8 216 L775.1 218.1" stroke="#1a1a1a" stroke-width="0.7" fill="none" stroke-linecap="butt"/>
<path d="M772.2 214.6 L777.4 216.7" stroke="#1a1a1a" stroke-width="0.7" fill="none" stroke-linecap="butt"/>
<path d="M774.5 213.3 L779.7 215.4" stroke="#1a1a1a" stroke-width="0.7" fill="none" stroke-linecap="butt"/>
<path d="M776.8 211.9 L782.1 214" stroke="#1a1a1a" stroke-width="0.7" fill="none" stroke-linecap="butt"/>
<path d="M779.2 210.6 L784.4 212.7" stroke="#1a1a1a" stroke-width="0.7" fill="none" stroke-linecap="butt"/>
<path d="M781.5 209.2 L786.7 211.3" stroke="#1a1a1a" stroke-width="0.7" fill="none" stroke-linecap="butt"/>
<path d="M723.6 249 L789.6 210.9" stroke="#1a1a1a" stroke-width="1.6" fill="none" stroke-linecap="butt"/>
<path d="M725.7 249.1 L731 253.4" stroke="#1a1a1a" stroke-width="0.7" fill="none" stroke-linecap="butt"/>
<path d="M728.1 247.7 L733.3 252.1" stroke="#1a1a1a" stroke-width="0.7" fill="none" stroke-linecap="butt"/>
<path d="M730.4 246.4 L735.6 250.7" stroke="#1a1a1a" stroke-width="0.7" fill="none" stroke-linecap="butt"/>
<path d="M732.8 245 L738 249.4" stroke="#1a1a1a" stroke-width="0.7" fill="none" stroke-linecap="butt"/>
<path d="M735.1 243.7 L740.3 248" stroke="#1a1a1a" stroke-width="0.7" fill="none" stroke-linecap="butt"/>
<path d="M737.4 242.3 L742.7 246.7" stroke="#1a1a1a" stroke-width="0.7" fill="none" stroke-linecap="butt"/>
<path d="M739.8 241 L745 245.3" stroke="#1a1a1a" stroke-width="0.7" fill="none" stroke-linecap="butt"/>
<path d="M742.1 239.6 L747.3 244" stroke="#1a1a1a" stroke-width="0.7" fill="none" stroke-linecap="butt"/>
<path d="M744.4 238.3 L749.7 242.6" stroke="#1a1a1a" stroke-width="0.7" fill="none" stroke-linecap="butt"/>
<path d="M746.8 236.9 L752 241.3" stroke="#1a1a1a" stroke-width="0.7" fill="none" stroke-linecap="butt"/>
<path d="M749.1 235.6 L754.4 239.9" stroke="#1a1a1a" stroke-width="0.7" fill="none" stroke-linecap="butt"/>
<path d="M751.5 234.2 L756.7 238.6" stroke="#1a1a1a" stroke-width="0.7" fill="none" stroke-linecap="butt"/>
<path d="M753.8 232.9 L759 237.2" stroke="#1a1a1a" stroke-width="0.7" fill="none" stroke-linecap="butt"/>
<path d="M756.1 231.5 L761.4 235.9" stroke="#1a1a1a" stroke-width="0.7" fill="none" stroke-linecap="butt"/>
<path d="M758.5 230.2 L763.7 234.5" stroke="#1a1a1a" stroke-width="0.7" fill="none" stroke-linecap="butt"/>
<path d="M760.8 228.8 L766 233.2" stroke="#1a1a1a" stroke-width="0.7" fill="none" stroke-linecap="butt"/>
<path d="M763.2 227.5 L768.4 231.8" stroke="#1a1a1a" stroke-width="0.7" fill="none" stroke-linecap="butt"/>
<path d="M765.5 226.1 L770.7 230.5" stroke="#1a1a1a" stroke-width="0.7" fill="none" stroke-linecap="butt"/>
<path d="M767.8 224.8 L773.1 229.1" stroke="#1a1a1a" stroke-width="0.7" fill="none" stroke-linecap="butt"/>
<path d="M770.2 223.4 L775.4 227.8" stroke="#1a1a1a" stroke-width="0.7" fill="none" stroke-linecap="butt"/>
<path d="M772.5 222.1 L777.7 226.4" stroke="#1a1a1a" stroke-width="0.7" fill="none" stroke-linecap="butt"/>
<path d="M774.8 220.7 L780.1 225.1" stroke="#1a1a1a" stroke-width="0.7" fill="none" stroke-linecap="butt"/>
<path d="M777.2 219.4 L782.4 223.7" stroke="#1a1a1a" stroke-width="0.7" fill="none" stroke-linecap="butt"/>
<path d="M779.5 218 L784.7 222.4" stroke="#1a1a1a" stroke-width="0.7" fill="none" stroke-linecap="butt"/>
<path d="M781.9 216.7 L787.1 221" stroke="#1a1a1a" stroke-width="0.7" fill="none" stroke-linecap="butt"/>
<path d="M784.2 215.3 L789.4 219.7" stroke="#1a1a1a" stroke-width="0.7" fill="none" stroke-linecap="butt"/>
<path d="M786.5 214 L791.8 218.3" stroke="#1a1a1a" stroke-width="0.7" fill="none" stroke-linecap="butt"/>
<path d="M788.9 212.6 L794.1 217" stroke="#1a1a1a" stroke-width="0.7" fill="none" stroke-linecap="butt"/>
<path d="M730.9 255.1 L796.9 216.9" stroke="#1a1a1a" stroke-width="1.6" fill="none" stroke-linecap="butt"/>
<path d="M733 255.5 L737.5 261.5" stroke="#1a1a1a" stroke-width="0.7" fill="none" stroke-linecap="butt"/>
<path d="M735.3 254.2 L739.8 260.2" stroke="#1a1a1a" stroke-width="0.7" fill="none" stroke-linecap="butt"/>
<path d="M737.6 252.8 L742.2 258.8" stroke="#1a1a1a" stroke-width="0.7" fill="none" stroke-linecap="butt"/>
<path d="M740 251.5 L744.5 257.5" stroke="#1a1a1a" stroke-width="0.7" fill="none" stroke-linecap="butt"/>
<path d="M742.3 250.1 L746.8 256.1" stroke="#1a1a1a" stroke-width="0.7" fill="none" stroke-linecap="butt"/>
<path d="M744.7 248.8 L749.2 254.8" stroke="#1a1a1a" stroke-width="0.7" fill="none" stroke-linecap="butt"/>
<path d="M747 247.4 L751.5 253.4" stroke="#1a1a1a" stroke-width="0.7" fill="none" stroke-linecap="butt"/>
<path d="M749.3 246.1 L753.9 252.1" stroke="#1a1a1a" stroke-width="0.7" fill="none" stroke-linecap="butt"/>
<path d="M751.7 244.7 L756.2 250.7" stroke="#1a1a1a" stroke-width="0.7" fill="none" stroke-linecap="butt"/>
<path d="M754 243.4 L758.5 249.4" stroke="#1a1a1a" stroke-width="0.7" fill="none" stroke-linecap="butt"/>
<path d="M756.3 242 L760.9 248" stroke="#1a1a1a" stroke-width="0.7" fill="none" stroke-linecap="butt"/>
<path d="M758.7 240.7 L763.2 246.7" stroke="#1a1a1a" stroke-width="0.7" fill="none" stroke-linecap="butt"/>
<path d="M761 239.3 L765.5 245.3" stroke="#1a1a1a" stroke-width="0.7" fill="none" stroke-linecap="butt"/>
<path d="M763.4 238 L767.9 244" stroke="#1a1a1a" stroke-width="0.7" fill="none" stroke-linecap="butt"/>
<path d="M765.7 236.6 L770.2 242.6" stroke="#1a1a1a" stroke-width="0.7" fill="none" stroke-linecap="butt"/>
<path d="M768 235.3 L772.6 241.3" stroke="#1a1a1a" stroke-width="0.7" fill="none" stroke-linecap="butt"/>
<path d="M770.4 233.9 L774.9 239.9" stroke="#1a1a1a" stroke-width="0.7" fill="none" stroke-linecap="butt"/>
<path d="M772.7 232.6 L777.2 238.6" stroke="#1a1a1a" stroke-width="0.7" fill="none" stroke-linecap="butt"/>
<path d="M775 231.2 L779.6 237.2" stroke="#1a1a1a" stroke-width="0.7" fill="none" stroke-linecap="butt"/>
<path d="M777.4 229.9 L781.9 235.9" stroke="#1a1a1a" stroke-width="0.7" fill="none" stroke-linecap="butt"/>
<path d="M779.7 228.5 L784.3 234.5" stroke="#1a1a1a" stroke-width="0.7" fill="none" stroke-linecap="butt"/>
<path d="M782.1 227.2 L786.6 233.2" stroke="#1a1a1a" stroke-width="0.7" fill="none" stroke-linecap="butt"/>
<path d="M784.4 225.8 L788.9 231.8" stroke="#1a1a1a" stroke-width="0.7" fill="none" stroke-linecap="butt"/>
<path d="M786.7 224.5 L791.3 230.5" stroke="#1a1a1a" stroke-width="0.7" fill="none" stroke-linecap="butt"/>
<path d="M789.1 223.1 L793.6 229.1" stroke="#1a1a1a" stroke-width="0.7" fill="none" stroke-linecap="butt"/>
<path d="M791.4 221.8 L795.9 227.8" stroke="#1a1a1a" stroke-width="0.7" fill="none" stroke-linecap="butt"/>
<path d="M793.8 220.4 L798.3 226.4" stroke="#1a1a1a" stroke-width="0.7" fill="none" stroke-linecap="butt"/>
<path d="M796.1 219.1 L800.6 225.1" stroke="#1a1a1a" stroke-width="0.7" fill="none" stroke-linecap="butt"/>
<path d="M737.2 263.4 L803.2 225.3" stroke="#1a1a1a" stroke-width="1.6" fill="none" stroke-linecap="butt"/>
<path d="M739.1 264.1 L742.3 271" stroke="#1a1a1a" stroke-width="0.7" fill="none" stroke-linecap="butt"/>
<path d="M741.4 262.8 L744.6 269.6" stroke="#1a1a1a" stroke-width="0.7" fill="none" stroke-linecap="butt"/>
<path d="M743.7 261.4 L747 268.3" stroke="#1a1a1a" stroke-width="0.7" fill="none" stroke-linecap="butt"/>
<path d="M746.1 260.1 L749.3 266.9" stroke="#1a1a1a" stroke-width="0.7" fill="none" stroke-linecap="butt"/>
<path d="M748.4 258.7 L751.7 265.6" stroke="#1a1a1a" stroke-width="0.7" fill="none" stroke-linecap="butt"/>
<path d="M750.8 257.4 L754 264.2" stroke="#1a1a1a" stroke-width="0.7" fill="none" stroke-linecap="butt"/>
<path d="M753.1 256 L756.3 262.9" stroke="#1a1a1a" stroke-width="0.7" fill="none" stroke-linecap="butt"/>
<path d="M755.4 254.7 L758.7 261.5" stroke="#1a1a1a" stroke-width="0.7" fill="none" stroke-linecap="butt"/>
<path d="M757.8 253.3 L761 260.2" stroke="#1a1a1a" stroke-width="0.7" fill="none" stroke-linecap="butt"/>
<path d="M760.1 252 L763.3 258.8" stroke="#1a1a1a" stroke-width="0.7" fill="none" stroke-linecap="butt"/>
<path d="M762.5 250.6 L765.7 257.5" stroke="#1a1a1a" stroke-width="0.7" fill="none" stroke-linecap="butt"/>
<path d="M764.8 249.3 L768 256.1" stroke="#1a1a1a" stroke-width="0.7" fill="none" stroke-linecap="butt"/>
<path d="M767.1 247.9 L770.4 254.8" stroke="#1a1a1a" stroke-width="0.7" fill="none" stroke-linecap="butt"/>
<path d="M769.5 246.6 L772.7 253.4" stroke="#1a1a1a" stroke-width="0.7" fill="none" stroke-linecap="butt"/>
<path d="M771.8 245.2 L775 252.1" stroke="#1a1a1a" stroke-width="0.7" fill="none" stroke-linecap="butt"/>
<path d="M774.1 243.9 L777.4 250.7" stroke="#1a1a1a" stroke-width="0.7" fill="none" stroke-linecap="butt"/>
<path d="M776.5 242.5 L779.7 249.4" stroke="#1a1a1a" stroke-width="0.7" fill="none" stroke-linecap="butt"/>
<path d="M778.8 241.2 L782 248" stroke="#1a1a1a" stroke-width="0.7" fill="none" stroke-linecap="butt"/>
<path d="M781.2 239.8 L784.4 246.7" stroke="#1a1a1a" stroke-width="0.7" fill="none" stroke-linecap="butt"/>
<path d="M783.5 238.5 L786.7 245.3" stroke="#1a1a1a" stroke-width="0.7" fill="none" stroke-linecap="butt"/>
<path d="M785.8 237.1 L789.1 244" stroke="#1a1a1a" stroke-width="0.7" fill="none" stroke-linecap="butt"/>
<path d="M788.2 235.8 L791.4 242.6" stroke="#1a1a1a" stroke-width="0.7" fill="none" stroke-linecap="butt"/>
<path d="M790.5 234.4 L793.7 241.3" stroke="#1a1a1a" stroke-width="0.7" fill="none" stroke-linecap="butt"/>
<path d="M792.8 233.1 L796.1 239.9" stroke="#1a1a1a" stroke-width="0.7" fill="none" stroke-linecap="butt"/>
<path d="M795.2 231.7 L798.4 238.6" stroke="#1a1a1a" stroke-width="0.7" fill="none" stroke-linecap="butt"/>
<path d="M797.5 230.4 L800.8 237.2" stroke="#1a1a1a" stroke-width="0.7" fill="none" stroke-linecap="butt"/>
<path d="M799.9 229 L803.1 235.9" stroke="#1a1a1a" stroke-width="0.7" fill="none" stroke-linecap="butt"/>
<path d="M802.2 227.7 L805.4 234.5" stroke="#1a1a1a" stroke-width="0.7" fill="none" stroke-linecap="butt"/>
<path d="M741.7 273 L807.8 234.9" stroke="#1a1a1a" stroke-width="1.6" fill="none" stroke-linecap="butt"/>
<path d="M743.3 273.8 L744.8 280.6" stroke="#1a1a1a" stroke-width="0.7" fill="none" stroke-linecap="butt"/>
<path d="M745.6 272.4 L747.1 279.2" stroke="#1a1a1a" stroke-width="0.7" fill="none" stroke-linecap="butt"/>
<path d="M747.9 271.1 L749.4 277.9" stroke="#1a1a1a" stroke-width="0.7" fill="none" stroke-linecap="butt"/>
<path d="M750.3 269.7 L751.8 276.5" stroke="#1a1a1a" stroke-width="0.7" fill="none" stroke-linecap="butt"/>
<path d="M752.6 268.4 L754.1 275.2" stroke="#1a1a1a" stroke-width="0.7" fill="none" stroke-linecap="butt"/>
<path d="M755 267 L756.5 273.8" stroke="#1a1a1a" stroke-width="0.7" fill="none" stroke-linecap="butt"/>
<path d="M757.3 265.7 L758.8 272.5" stroke="#1a1a1a" stroke-width="0.7" fill="none" stroke-linecap="butt"/>
<path d="M759.6 264.3 L761.1 271.1" stroke="#1a1a1a" stroke-width="0.7" fill="none" stroke-linecap="butt"/>
<path d="M762 263 L763.5 269.8" stroke="#1a1a1a" stroke-width="0.7" fill="none" stroke-linecap="butt"/>
<path d="M764.3 261.6 L765.8 268.4" stroke="#1a1a1a" stroke-width="0.7" fill="none" stroke-linecap="butt"/>
<path d="M766.6 260.3 L768.1 267.1" stroke="#1a1a1a" stroke-width="0.7" fill="none" stroke-linecap="butt"/>
<path d="M769 258.9 L770.5 265.7" stroke="#1a1a1a" stroke-width="0.7" fill="none" stroke-linecap="butt"/>
<path d="M771.3 257.6 L772.8 264.4" stroke="#1a1a1a" stroke-width="0.7" fill="none" stroke-linecap="butt"/>
<path d="M773.7 256.2 L775.2 263" stroke="#1a1a1a" stroke-width="0.7" fill="none" stroke-linecap="butt"/>
<path d="M776 254.9 L777.5 261.7" stroke="#1a1a1a" stroke-width="0.7" fill="none" stroke-linecap="butt"/>
<path d="M778.3 253.5 L779.8 260.3" stroke="#1a1a1a" stroke-width="0.7" fill="none" stroke-linecap="butt"/>
<path d="M780.7 252.2 L782.2 259" stroke="#1a1a1a" stroke-width="0.7" fill="none" stroke-linecap="butt"/>
<path d="M783 250.8 L784.5 257.6" stroke="#1a1a1a" stroke-width="0.7" fill="none" stroke-linecap="butt"/>
<path d="M785.4 249.5 L786.9 256.3" stroke="#1a1a1a" stroke-width="0.7" fill="none" stroke-linecap="butt"/>
<path d="M787.7 248.1 L789.2 254.9" stroke="#1a1a1a" stroke-width="0.7" fill="none" stroke-linecap="butt"/>
<path d="M790 246.8 L791.5 253.6" stroke="#1a1a1a" stroke-width="0.7" fill="none" stroke-linecap="butt"/>
<path d="M792.4 245.4 L793.9 252.2" stroke="#1a1a1a" stroke-width="0.7" fill="none" stroke-linecap="butt"/>
<path d="M794.7 244.1 L796.2 250.9" stroke="#1a1a1a" stroke-width="0.7" fill="none" stroke-linecap="butt"/>
<path d="M797 242.7 L798.5 249.5" stroke="#1a1a1a" stroke-width="0.7" fill="none" stroke-linecap="butt"/>
<path d="M799.4 241.4 L800.9 248.2" stroke="#1a1a1a" stroke-width="0.7" fill="none" stroke-linecap="butt"/>
<path d="M801.7 240 L803.2 246.8" stroke="#1a1a1a" stroke-width="0.7" fill="none" stroke-linecap="butt"/>
<path d="M804.1 238.7 L805.6 245.5" stroke="#1a1a1a" stroke-width="0.7" fill="none" stroke-linecap="butt"/>
<path d="M806.4 237.3 L807.9 244.1" stroke="#1a1a1a" stroke-width="0.7" fill="none" stroke-linecap="butt"/>
<path d="M743.8 282.5 L809.8 244.4" stroke="#1a1a1a" stroke-width="1.6" fill="none" stroke-linecap="butt"/>
<path d="M745 283.2 L744.6 289" stroke="#1a1a1a" stroke-width="0.7" fill="none" stroke-linecap="butt"/>
<path d="M747.3 281.8 L746.9 287.7" stroke="#1a1a1a" stroke-width="0.7" fill="none" stroke-linecap="butt"/>
<path d="M749.7 280.5 L749.2 286.3" stroke="#1a1a1a" stroke-width="0.7" fill="none" stroke-linecap="butt"/>
<path d="M752 279.1 L751.6 285" stroke="#1a1a1a" stroke-width="0.7" fill="none" stroke-linecap="butt"/>
<path d="M754.3 277.8 L753.9 283.6" stroke="#1a1a1a" stroke-width="0.7" fill="none" stroke-linecap="butt"/>
<path d="M756.7 276.4 L756.2 282.3" stroke="#1a1a1a" stroke-width="0.7" fill="none" stroke-linecap="butt"/>
<path d="M759 275.1 L758.6 280.9" stroke="#1a1a1a" stroke-width="0.7" fill="none" stroke-linecap="butt"/>
<path d="M761.3 273.7 L760.9 279.6" stroke="#1a1a1a" stroke-width="0.7" fill="none" stroke-linecap="butt"/>
<path d="M763.7 272.4 L763.3 278.2" stroke="#1a1a1a" stroke-width="0.7" fill="none" stroke-linecap="butt"/>
<path d="M766 271 L765.6 276.9" stroke="#1a1a1a" stroke-width="0.7" fill="none" stroke-linecap="butt"/>
<path d="M768.4 269.7 L767.9 275.5" stroke="#1a1a1a" stroke-width="0.7" fill="none" stroke-linecap="butt"/>
<path d="M770.7 268.3 L770.3 274.2" stroke="#1a1a1a" stroke-width="0.7" fill="none" stroke-linecap="butt"/>
<path d="M773 267 L772.6 272.8" stroke="#1a1a1a" stroke-width="0.7" fill="none" stroke-linecap="butt"/>
<path d="M775.4 265.6 L774.9 271.5" stroke="#1a1a1a" stroke-width="0.7" fill="none" stroke-linecap="butt"/>
<path d="M777.7 264.3 L777.3 270.1" stroke="#1a1a1a" stroke-width="0.7" fill="none" stroke-linecap="butt"/>
<path d="M780.1 262.9 L779.6 268.8" stroke="#1a1a1a" stroke-width="0.7" fill="none" stroke-linecap="butt"/>
<path d="M782.4 261.6 L782 267.4" stroke="#1a1a1a" stroke-width="0.7" fill="none" stroke-linecap="butt"/>
<path d="M784.7 260.2 L784.3 266.1" stroke="#1a1a1a" stroke-width="0.7" fill="none" stroke-linecap="butt"/>
<path d="M787.1 258.9 L786.6 264.7" stroke="#1a1a1a" stroke-width="0.7" fill="none" stroke-linecap="butt"/>
<path d="M789.4 257.5 L789 263.4" stroke="#1a1a1a" stroke-width="0.7" fill="none" stroke-linecap="butt"/>
<path d="M791.7 256.2 L791.3 262" stroke="#1a1a1a" stroke-width="0.7" fill="none" stroke-linecap="butt"/>
<path d="M794.1 254.8 L793.7 260.7" stroke="#1a1a1a" stroke-width="0.7" fill="none" stroke-linecap="butt"/>
<path d="M796.4 253.5 L796 259.3" stroke="#1a1a1a" stroke-width="0.7" fill="none" stroke-linecap="butt"/>
<path d="M798.8 252.1 L798.3 258" stroke="#1a1a1a" stroke-width="0.7" fill="none" stroke-linecap="butt"/>
<path d="M801.1 250.8 L800.7 256.6" stroke="#1a1a1a" stroke-width="0.7" fill="none" stroke-linecap="butt"/>
<path d="M803.4 249.4 L803 255.3" stroke="#1a1a1a" stroke-width="0.7" fill="none" stroke-linecap="butt"/>
<path d="M805.8 248.1 L805.3 253.9" stroke="#1a1a1a" stroke-width="0.7" fill="none" stroke-linecap="butt"/>
<path d="M808.1 246.7 L807.7 252.6" stroke="#1a1a1a" stroke-width="0.7" fill="none" stroke-linecap="butt"/>
<path d="M743.2 290.7 L809.3 252.6" stroke="#1a1a1a" stroke-width="1.6" fill="none" stroke-linecap="butt"/>
<path d="M744 291.1 L741.7 295.2" stroke="#1a1a1a" stroke-width="0.7" fill="none" stroke-linecap="butt"/>
<path d="M746.3 289.7 L744 293.8" stroke="#1a1a1a" stroke-width="0.7" fill="none" stroke-linecap="butt"/>
<path d="M748.7 288.4 L746.4 292.5" stroke="#1a1a1a" stroke-width="0.7" fill="none" stroke-linecap="butt"/>
<path d="M751 287 L748.7 291.1" stroke="#1a1a1a" stroke-width="0.7" fill="none" stroke-linecap="butt"/>
<path d="M753.3 285.7 L751 289.8" stroke="#1a1a1a" stroke-width="0.7" fill="none" stroke-linecap="butt"/>
<path d="M755.7 284.3 L753.4 288.4" stroke="#1a1a1a" stroke-width="0.7" fill="none" stroke-linecap="butt"/>
<path d="M758 283 L755.7 287.1" stroke="#1a1a1a" stroke-width="0.7" fill="none" stroke-linecap="butt"/>
<path d="M760.4 281.6 L758.1 285.7" stroke="#1a1a1a" stroke-width="0.7" fill="none" stroke-linecap="butt"/>
<path d="M762.7 280.3 L760.4 284.4" stroke="#1a1a1a" stroke-width="0.7" fill="none" stroke-linecap="butt"/>
<path d="M765 278.9 L762.7 283" stroke="#1a1a1a" stroke-width="0.7" fill="none" stroke-linecap="butt"/>
<path d="M767.4 277.6 L765.1 281.7" stroke="#1a1a1a" stroke-width="0.7" fill="none" stroke-linecap="butt"/>
<path d="M769.7 276.2 L767.4 280.3" stroke="#1a1a1a" stroke-width="0.7" fill="none" stroke-linecap="butt"/>
<path d="M772.1 274.9 L769.8 279" stroke="#1a1a1a" stroke-width="0.7" fill="none" stroke-linecap="butt"/>
<path d="M774.4 273.5 L772.1 277.6" stroke="#1a1a1a" stroke-width="0.7" fill="none" stroke-linecap="butt"/>
<path d="M776.7 272.2 L774.4 276.3" stroke="#1a1a1a" stroke-width="0.7" fill="none" stroke-linecap="butt"/>
<path d="M779.1 270.8 L776.8 274.9" stroke="#1a1a1a" stroke-width="0.7" fill="none" stroke-linecap="butt"/>
<path d="M781.4 269.5 L779.1 273.6" stroke="#1a1a1a" stroke-width="0.7" fill="none" stroke-linecap="butt"/>
<path d="M783.7 268.1 L781.4 272.2" stroke="#1a1a1a" stroke-width="0.7" fill="none" stroke-linecap="butt"/>
<path d="M786.1 266.8 L783.8 270.9" stroke="#1a1a1a" stroke-width="0.7" fill="none" stroke-linecap="butt"/>
<path d="M788.4 265.4 L786.1 269.5" stroke="#1a1a1a" stroke-width="0.7" fill="none" stroke-linecap="butt"/>
<path d="M790.8 264.1 L788.5 268.2" stroke="#1a1a1a" stroke-width="0.7" fill="none" stroke-linecap="butt"/>
<path d="M793.1 262.7 L790.8 266.8" stroke="#1a1a1a" stroke-width="0.7" fill="none" stroke-linecap="butt"/>
<path d="M795.4 261.4 L793.1 265.5" stroke="#1a1a1a" stroke-width="0.7" fill="none" stroke-linecap="butt"/>
<path d="M797.8 260 L795.5 264.1" stroke="#1a1a1a" stroke-width="0.7" fill="none" stroke-linecap="butt"/>
<path d="M800.1 258.7 L797.8 262.8" stroke="#1a1a1a" stroke-width="0.7" fill="none" stroke-linecap="butt"/>
<path d="M802.5 257.3 L800.2 261.4" stroke="#1a1a1a" stroke-width="0.7" fill="none" stroke-linecap="butt"/>
<path d="M804.8 256 L802.5 260.1" stroke="#1a1a1a" stroke-width="0.7" fill="none" stroke-linecap="butt"/>
<path d="M807.1 254.6 L804.8 258.7" stroke="#1a1a1a" stroke-width="0.7" fill="none" stroke-linecap="butt"/>
<path d="M740 296.4 L806 258.3" stroke="#1a1a1a" stroke-width="1.6" fill="none" stroke-linecap="butt"/>
<path d="M696.6 255.8L706.8 248.4L706.8 248.4C707.5 248.2 709.4 247.3 710.9 247.2C712.4 247 714.1 247.2 715.8 247.7C717.5 248.2 719.3 249 721.1 250C722.8 251.1 724.7 252.5 726.4 254C728.1 255.5 729.8 257.4 731.3 259.3C732.8 261.2 734.3 263.4 735.6 265.6C736.8 267.7 738 270.1 738.9 272.4C739.8 274.7 740.5 277.1 741 279.3C741.5 281.6 741.7 283.8 741.8 285.9C741.8 287.9 741.6 289.9 741.1 291.6C740.7 293.3 740 294.9 739.2 296.1C738.3 297.3 736.5 298.6 736 299.1L736 299.1L724.6 304.2Z" fill="#fff" stroke="#1a1a1a" stroke-width="1.8" stroke-linejoin="round" stroke-linecap="round"/>
<ellipse cx="710.6" cy="280" rx="28" ry="15.7" fill="#fff" stroke="#1a1a1a" stroke-width="1.8" transform="rotate(60 710.6 280)"/>
<ellipse cx="710.6" cy="280" rx="28" ry="15.7" fill="#fff" stroke="#1a1a1a" stroke-width="1.8" transform="rotate(60 710.6 280)"/>
<path d="M724.1 303.4C723.2 301.7 721 296.2 718.7 293.1C716.4 290 713.1 286.1 710.2 284.8C707.4 283.5 704 285.6 701.5 285.4C699 285.1 696.4 283.7 695.3 283.4" fill="none" stroke="#1a1a1a" stroke-width="0.8" stroke-linejoin="round" stroke-linecap="round"/>
<path d="M718 304.5C717.5 302.6 716.4 296.4 714.8 292.9C713.2 289.4 711.2 285.5 708.6 283.3C706 281.1 701.9 281.4 699.2 279.8C696.5 278.2 693.4 274.8 692.3 273.8" fill="none" stroke="#1a1a1a" stroke-width="0.8" stroke-linejoin="round" stroke-linecap="round"/>
<path d="M710.8 301.9C710.8 300 711.2 294 710.6 290.6C710 287.1 709.3 284 707.3 281.3C705.2 278.6 700.9 277.2 698.4 274.5C695.8 271.8 693.1 266.7 692 265.2" fill="none" stroke="#1a1a1a" stroke-width="0.8" stroke-linejoin="round" stroke-linecap="round"/>
<path d="M703.6 295.9C704.1 294.4 706.1 289.3 706.5 286.5C707 283.7 707.6 281.8 706.4 279.1C705.2 276.3 701.2 273.6 699.2 270.2C697.3 266.8 695.3 260.7 694.5 258.8" fill="none" stroke="#1a1a1a" stroke-width="0.8" stroke-linejoin="round" stroke-linecap="round"/>
<path d="M697.5 287.6C698.4 286.5 701.9 283 703.3 281.3C704.8 279.5 706.5 279.3 706.2 277C705.9 274.7 702.7 271.1 701.6 267.6C700.5 264 699.9 257.6 699.5 255.7" fill="none" stroke="#1a1a1a" stroke-width="0.8" stroke-linejoin="round" stroke-linecap="round"/>
<path d="M693.3 278C694.7 277.6 699.3 276.1 701.5 275.7C703.7 275.3 706.1 276.8 706.7 275.4C707.3 273.9 705.3 270.2 705.2 267C705.1 263.9 706 258 706.2 256.2" fill="none" stroke="#1a1a1a" stroke-width="0.8" stroke-linejoin="round" stroke-linecap="round"/>
<path d="M691.8 268.8C693.3 269.1 698.6 269.7 701.2 270.6C703.9 271.6 706.4 274.8 707.7 274.5C709.1 274.1 708.4 271 709.4 268.7C710.3 266.3 712.8 261.8 713.5 260.4" fill="none" stroke="#1a1a1a" stroke-width="0.8" stroke-linejoin="round" stroke-linecap="round"/>
<path d="M693.1 261.3C694.7 262.2 699.9 264.7 702.6 266.8C705.3 269 707.4 273.5 709.2 274.4C711 275.3 711.7 273.4 713.6 272.2C715.4 271.1 719.3 268.3 720.4 267.6" fill="none" stroke="#1a1a1a" stroke-width="0.8" stroke-linejoin="round" stroke-linecap="round"/>
<path d="M697.1 256.6C698.5 258 703.2 261.8 705.5 264.9C707.8 268 708.9 273.1 710.9 275.2C712.8 277.2 714.6 276.9 717.1 277.1C719.6 277.4 724.3 276.7 725.8 276.6" fill="none" stroke="#1a1a1a" stroke-width="0.8" stroke-linejoin="round" stroke-linecap="round"/>
<path d="M703.1 255.5C704.1 257.1 707.7 261.6 709.3 265.1C710.9 268.6 710.8 273.8 712.5 276.7C714.2 279.6 716.7 281.1 719.4 282.7C722.2 284.3 727.3 285.6 728.9 286.2" fill="none" stroke="#1a1a1a" stroke-width="0.8" stroke-linejoin="round" stroke-linecap="round"/>
<path d="M710.3 258.1C710.8 259.7 713 264 713.6 267.4C714.2 270.9 712.7 275.3 713.9 278.7C715 282.2 717.7 285.3 720.2 288C722.8 290.7 727.6 293.7 729.1 294.8" fill="none" stroke="#1a1a1a" stroke-width="0.8" stroke-linejoin="round" stroke-linecap="round"/>
<path d="M717.5 264.1C717.5 265.3 718.1 268.7 717.6 271.5C717.1 274.3 714.4 277.5 714.7 280.9C715 284.4 717.4 288.9 719.4 292.3C721.4 295.7 725.4 299.7 726.6 301.2" fill="none" stroke="#1a1a1a" stroke-width="0.8" stroke-linejoin="round" stroke-linecap="round"/>
<path d="M723.7 272.4C723.2 273.2 722.2 275 720.8 276.7C719.3 278.5 715.5 280 714.9 283C714.3 286.1 715.9 291.4 717 294.9C718.1 298.5 720.8 302.8 721.6 304.3" fill="none" stroke="#1a1a1a" stroke-width="0.8" stroke-linejoin="round" stroke-linecap="round"/>
<path d="M727.8 282C727 282 724.9 281.9 722.6 282.3C720.4 282.7 716 282.4 714.5 284.6C712.9 286.8 713.4 292.3 713.4 295.5C713.5 298.6 714.7 302.4 714.9 303.8" fill="none" stroke="#1a1a1a" stroke-width="0.8" stroke-linejoin="round" stroke-linecap="round"/>
<path d="M729.4 291.2C728.3 290.6 725.5 288.3 722.9 287.4C720.2 286.4 715.7 284.5 713.4 285.5C711.1 286.6 710.2 291.5 709.2 293.8C708.3 296.2 707.9 298.6 707.6 299.6" fill="none" stroke="#1a1a1a" stroke-width="0.8" stroke-linejoin="round" stroke-linecap="round"/>
<path d="M728 298.7C727 297.5 724.2 293.3 721.5 291.2C718.8 289 714.7 285.8 711.9 285.6C709.2 285.5 706.9 289.1 705.1 290.3C703.2 291.4 701.4 292.1 700.7 292.4" fill="none" stroke="#1a1a1a" stroke-width="0.8" stroke-linejoin="round" stroke-linecap="round"/>
<path d="M724.3 303.8 L714.9 295.8" stroke="#1a1a1a" stroke-width="0.7" fill="none" stroke-linecap="butt"/>
<path d="M720.4 305 L711.8 294.8" stroke="#1a1a1a" stroke-width="0.7" fill="none" stroke-linecap="butt"/>
<path d="M715.8 304.5 L708.6 292.7" stroke="#1a1a1a" stroke-width="0.7" fill="none" stroke-linecap="butt"/>
<path d="M710.9 302.3 L705.6 289.8" stroke="#1a1a1a" stroke-width="0.7" fill="none" stroke-linecap="butt"/>
<path d="M705.9 298.6 L702.9 286.2" stroke="#1a1a1a" stroke-width="0.7" fill="none" stroke-linecap="butt"/>
<path d="M701.2 293.6 L700.7 282.2" stroke="#1a1a1a" stroke-width="0.7" fill="none" stroke-linecap="butt"/>
<path d="M697.2 287.7 L699.2 278" stroke="#1a1a1a" stroke-width="0.7" fill="none" stroke-linecap="butt"/>
<path d="M694.1 281.3 L698.4 274" stroke="#1a1a1a" stroke-width="0.7" fill="none" stroke-linecap="butt"/>
<path d="M692.1 274.8 L698.5 270.4" stroke="#1a1a1a" stroke-width="0.7" fill="none" stroke-linecap="butt"/>
<path d="M691.4 268.6 L699.4 267.4" stroke="#1a1a1a" stroke-width="0.7" fill="none" stroke-linecap="butt"/>
<path d="M692 263.2 L701.1 265.3" stroke="#1a1a1a" stroke-width="0.7" fill="none" stroke-linecap="butt"/>
<path d="M693.8 259 L703.4 264.2" stroke="#1a1a1a" stroke-width="0.7" fill="none" stroke-linecap="butt"/>
<path d="M696.8 256.2 L706.2 264.2" stroke="#1a1a1a" stroke-width="0.7" fill="none" stroke-linecap="butt"/>
<path d="M700.7 255 L709.3 265.2" stroke="#1a1a1a" stroke-width="0.7" fill="none" stroke-linecap="butt"/>
<path d="M705.3 255.5 L712.5 267.3" stroke="#1a1a1a" stroke-width="0.7" fill="none" stroke-linecap="butt"/>
<path d="M710.3 257.7 L715.5 270.2" stroke="#1a1a1a" stroke-width="0.7" fill="none" stroke-linecap="butt"/>
<path d="M715.2 261.4 L718.3 273.8" stroke="#1a1a1a" stroke-width="0.7" fill="none" stroke-linecap="butt"/>
<path d="M719.9 266.4 L720.4 277.8" stroke="#1a1a1a" stroke-width="0.7" fill="none" stroke-linecap="butt"/>
<path d="M723.9 272.3 L721.9 282" stroke="#1a1a1a" stroke-width="0.7" fill="none" stroke-linecap="butt"/>
<path d="M727 278.7 L722.7 286" stroke="#1a1a1a" stroke-width="0.7" fill="none" stroke-linecap="butt"/>
<path d="M729 285.2 L722.6 289.6" stroke="#1a1a1a" stroke-width="0.7" fill="none" stroke-linecap="butt"/>
<path d="M729.7 291.4 L721.7 292.6" stroke="#1a1a1a" stroke-width="0.7" fill="none" stroke-linecap="butt"/>
<path d="M729.1 296.8 L720 294.7" stroke="#1a1a1a" stroke-width="0.7" fill="none" stroke-linecap="butt"/>
<path d="M727.3 301 L717.7 295.8" stroke="#1a1a1a" stroke-width="0.7" fill="none" stroke-linecap="butt"/>
<path d="M698.2 254.9 L709.3 247.6" stroke="#1a1a1a" stroke-width="0.8" fill="none" stroke-linecap="butt"/>
<path d="M701.7 254.3 L713.2 247.5" stroke="#1a1a1a" stroke-width="0.8" fill="none" stroke-linecap="butt"/>
<path d="M705.7 254.8 L717.5 248.7" stroke="#1a1a1a" stroke-width="0.8" fill="none" stroke-linecap="butt"/>
<path d="M709.8 256.6 L721.9 251.1" stroke="#1a1a1a" stroke-width="0.8" fill="none" stroke-linecap="butt"/>
<path d="M714.1 259.4 L726.3 254.6" stroke="#1a1a1a" stroke-width="0.8" fill="none" stroke-linecap="butt"/>
<path d="M718.2 263.2 L730.4 259" stroke="#1a1a1a" stroke-width="0.8" fill="none" stroke-linecap="butt"/>
<path d="M721.9 267.8 L734.1 264.1" stroke="#1a1a1a" stroke-width="0.8" fill="none" stroke-linecap="butt"/>
<path d="M725.2 273 L737.1 269.6" stroke="#1a1a1a" stroke-width="0.8" fill="none" stroke-linecap="butt"/>
<path d="M727.7 278.5 L739.4 275.4" stroke="#1a1a1a" stroke-width="0.8" fill="none" stroke-linecap="butt"/>
<path d="M729.5 284 L740.9 281.2" stroke="#1a1a1a" stroke-width="0.8" fill="none" stroke-linecap="butt"/>
<path d="M730.4 289.3 L741.3 286.5" stroke="#1a1a1a" stroke-width="0.8" fill="none" stroke-linecap="butt"/>
<path d="M730.4 294.2 L740.8 291.3" stroke="#1a1a1a" stroke-width="0.8" fill="none" stroke-linecap="butt"/>
<path d="M729.4 298.4 L739.4 295.3" stroke="#1a1a1a" stroke-width="0.8" fill="none" stroke-linecap="butt"/>
<path d="M727.6 301.7 L737.1 298.2" stroke="#1a1a1a" stroke-width="0.8" fill="none" stroke-linecap="butt"/>
<path d="M664.9 260.6L674.8 256L677.6 255.5L667.7 260.1Z" fill="#fff" stroke="#1a1a1a" stroke-width="1.5" stroke-linejoin="round" stroke-linecap="round"/>
<path d="M670.9 260.2L680.7 255.6L683.8 256.2L674.1 260.8Z" fill="#fff" stroke="#1a1a1a" stroke-width="1.5" stroke-linejoin="round" stroke-linecap="round"/>
<path d="M677.7 262.1L687.3 257.5L690.6 259.1L681.1 263.8Z" fill="#fff" stroke="#1a1a1a" stroke-width="1.5" stroke-linejoin="round" stroke-linecap="round"/>
<path d="M684.7 266.2L694.2 261.4L697.4 264L688.1 268.9Z" fill="#fff" stroke="#1a1a1a" stroke-width="1.5" stroke-linejoin="round" stroke-linecap="round"/>
<path d="M691.6 272.2L700.9 267.3L703.9 270.7L694.7 275.7Z" fill="#fff" stroke="#1a1a1a" stroke-width="1.5" stroke-linejoin="round" stroke-linecap="round"/>
<path d="M697.8 279.7L706.9 274.7L709.6 278.6L700.5 283.8Z" fill="#fff" stroke="#1a1a1a" stroke-width="1.5" stroke-linejoin="round" stroke-linecap="round"/>
<path d="M703.1 288.4L712 283.1L714.1 287.3L705.1 292.7Z" fill="#fff" stroke="#1a1a1a" stroke-width="1.5" stroke-linejoin="round" stroke-linecap="round"/>
<path d="M706.9 297.5L715.8 292L717.1 296.3L708.3 301.9Z" fill="#fff" stroke="#1a1a1a" stroke-width="1.5" stroke-linejoin="round" stroke-linecap="round"/>
<path d="M709.2 306.6L718.1 300.8L718.6 304.9L709.7 310.8Z" fill="#fff" stroke="#1a1a1a" stroke-width="1.5" stroke-linejoin="round" stroke-linecap="round"/>
<path d="M709.8 315L718.6 309.1L718.3 312.6L709.5 318.7Z" fill="#fff" stroke="#1a1a1a" stroke-width="1.5" stroke-linejoin="round" stroke-linecap="round"/>
<path d="M708.6 322.3L717.5 316.1L716.3 319L707.4 325.2Z" fill="#fff" stroke="#1a1a1a" stroke-width="1.5" stroke-linejoin="round" stroke-linecap="round"/>
<path d="M705.7 327.9L714.6 321.6L712.7 323.6L703.7 329.9Z" fill="#fff" stroke="#1a1a1a" stroke-width="1.5" stroke-linejoin="round" stroke-linecap="round"/>
<path d="M659.6 261.8L661.8 260.5L661.8 260.5C662.8 260.2 665.5 258.9 667.7 258.8C669.8 258.6 672.2 258.9 674.6 259.5C676.9 260.2 679.5 261.3 682 262.8C684.5 264.3 687 266.2 689.4 268.4C691.8 270.6 694.2 273.1 696.4 275.8C698.6 278.6 700.6 281.6 702.4 284.7C704.2 287.8 705.8 291.1 707.1 294.3C708.3 297.6 709.4 300.9 710.1 304.1C710.7 307.3 711.1 310.5 711.1 313.3C711.2 316.2 710.9 319 710.3 321.4C709.7 323.8 708.7 326 707.5 327.8C706.3 329.5 703.8 331.3 703 332L703 332L700.9 333.2Z" fill="#fff" stroke="#1a1a1a" stroke-width="2" stroke-linejoin="round" stroke-linecap="round"/>
<ellipse cx="680.2" cy="297.5" rx="41.2" ry="23.1" fill="#fff" stroke="#1a1a1a" stroke-width="2" transform="rotate(60 680.2 297.5)"/>
<ellipse cx="680.2" cy="297.5" rx="41.2" ry="23.1" fill="#fff" stroke="#1a1a1a" stroke-width="2.2" transform="rotate(60 680.2 297.5)"/>
<ellipse cx="680.7" cy="297.2" rx="36.2" ry="20.3" fill="#fff" stroke="#1a1a1a" stroke-width="1" transform="rotate(60 680.7 297.2)"/>
<path d="M686.4 305.8L694.5 329.1L682 306.8" fill="none" stroke="#1a1a1a" stroke-width="0.9" stroke-linejoin="round" stroke-linecap="round"/>
<path d="M681.9 306.7L676.4 322.9L676.5 302.4" fill="none" stroke="#1a1a1a" stroke-width="0.9" stroke-linejoin="round" stroke-linecap="round"/>
<path d="M676.4 302.3L660.5 301.9L673.1 295.2" fill="none" stroke="#1a1a1a" stroke-width="0.9" stroke-linejoin="round" stroke-linecap="round"/>
<path d="M673.1 295L656.2 278.3L674 289.3" fill="none" stroke="#1a1a1a" stroke-width="0.9" stroke-linejoin="round" stroke-linecap="round"/>
<path d="M674.1 289.2L666 265.9L678.5 288.2" fill="none" stroke="#1a1a1a" stroke-width="0.9" stroke-linejoin="round" stroke-linecap="round"/>
<path d="M678.6 288.3L684.1 272.1L684 292.6" fill="none" stroke="#1a1a1a" stroke-width="0.9" stroke-linejoin="round" stroke-linecap="round"/>
<path d="M684.1 292.7L700 293.1L687.4 299.8" fill="none" stroke="#1a1a1a" stroke-width="0.9" stroke-linejoin="round" stroke-linecap="round"/>
<path d="M687.4 300L704.3 316.7L686.5 305.7" fill="none" stroke="#1a1a1a" stroke-width="0.9" stroke-linejoin="round" stroke-linecap="round"/>
<ellipse cx="678.5" cy="298.5" rx="11.2" ry="6.3" fill="#eee" stroke="#1a1a1a" stroke-width="1.2" transform="rotate(60 678.5 298.5)"/>
<ellipse cx="676.4" cy="299.8" rx="9.5" ry="5.3" fill="#ddd" stroke="#1a1a1a" stroke-width="1.2" transform="rotate(60 676.4 299.8)"/>
<path d="M671.7 302.4 L673.1 301.6" stroke="#1a1a1a" stroke-width="0.7" fill="none" stroke-linecap="butt"/>
<path d="M670.7 300.2 L671.8 299" stroke="#1a1a1a" stroke-width="0.7" fill="none" stroke-linecap="butt"/>
<path d="M670 297.9 L671 296.4" stroke="#1a1a1a" stroke-width="0.7" fill="none" stroke-linecap="butt"/>
<path d="M669.7 295.8 L670.7 293.8" stroke="#1a1a1a" stroke-width="0.7" fill="none" stroke-linecap="butt"/>
<path d="M669.9 294 L670.9 291.6" stroke="#1a1a1a" stroke-width="0.7" fill="none" stroke-linecap="butt"/>
<path d="M670.6 292.5 L671.7 289.9" stroke="#1a1a1a" stroke-width="0.7" fill="none" stroke-linecap="butt"/>
<path d="M671.6 291.5 L672.9 288.8" stroke="#1a1a1a" stroke-width="0.7" fill="none" stroke-linecap="butt"/>
<path d="M673 291.1 L674.5 288.3" stroke="#1a1a1a" stroke-width="0.7" fill="none" stroke-linecap="butt"/>
<path d="M674.5 291.3 L676.4 288.5" stroke="#1a1a1a" stroke-width="0.7" fill="none" stroke-linecap="butt"/>
<path d="M676.3 292.1 L678.4 289.4" stroke="#1a1a1a" stroke-width="0.7" fill="none" stroke-linecap="butt"/>
<path d="M678 293.3 L680.4 290.9" stroke="#1a1a1a" stroke-width="0.7" fill="none" stroke-linecap="butt"/>
<path d="M679.6 295.1 L682.3 292.9" stroke="#1a1a1a" stroke-width="0.7" fill="none" stroke-linecap="butt"/>
<path d="M663.5 298.5L672.6 293.3L672.6 293.3C672.8 293.2 673.3 293 673.7 292.9C674.1 292.9 674.5 293 674.9 293.1C675.4 293.2 675.8 293.4 676.3 293.7C676.7 293.9 677.2 294.3 677.6 294.7C678.1 295.1 678.5 295.5 678.9 296C679.3 296.5 679.7 297.1 680 297.6C680.3 298.2 680.6 298.8 680.8 299.4C681.1 300 681.3 300.6 681.4 301.2C681.5 301.8 681.6 302.3 681.6 302.9C681.6 303.4 681.5 303.9 681.4 304.3C681.3 304.8 681.1 305.2 680.9 305.5C680.7 305.8 680.2 306.1 680.1 306.2L680.1 306.2L671 311.5Z" fill="#f4f4f4" stroke="#1a1a1a" stroke-width="1.3" stroke-linejoin="round" stroke-linecap="round"/>
<ellipse cx="667.3" cy="305" rx="7.5" ry="4.2" fill="#f4f4f4" stroke="#1a1a1a" stroke-width="1.3" transform="rotate(60 667.3 305)"/>
<path d="M641.3 312.5L664 299.4L664 299.4C664.2 299.3 664.6 299.1 664.9 299.1C665.3 299.1 665.6 299.1 666 299.2C666.4 299.3 666.8 299.5 667.2 299.7C667.6 300 668 300.3 668.4 300.6C668.7 301 669.1 301.4 669.5 301.8C669.8 302.2 670.1 302.7 670.4 303.2C670.7 303.7 670.9 304.2 671.1 304.7C671.3 305.2 671.5 305.7 671.6 306.2C671.7 306.7 671.8 307.2 671.8 307.7C671.8 308.1 671.7 308.6 671.7 309C671.6 309.3 671.4 309.7 671.2 310C671 310.2 670.6 310.5 670.5 310.6L670.5 310.6L647.8 323.8Z" fill="#f8f8f8" stroke="#1a1a1a" stroke-width="1.6" stroke-linejoin="round" stroke-linecap="round"/>
<ellipse cx="644.5" cy="318.1" rx="6.5" ry="3.6" fill="#f8f8f8" stroke="#1a1a1a" stroke-width="1.6" transform="rotate(60 644.5 318.1)"/>
<path d="M854.7 177.2L863.4 172.2L863.4 172.2C863.8 172 864.9 171.5 865.8 171.4C866.7 171.4 867.6 171.5 868.6 171.7C869.6 172 870.7 172.5 871.7 173.1C872.7 173.7 873.8 174.5 874.7 175.4C875.7 176.3 876.7 177.3 877.6 178.5C878.5 179.6 879.4 180.8 880.1 182.1C880.8 183.4 881.5 184.8 882 186.1C882.5 187.4 883 188.8 883.2 190.1C883.5 191.4 883.7 192.7 883.7 193.9C883.7 195.1 883.6 196.3 883.3 197.2C883.1 198.2 882.7 199.1 882.2 199.9C881.7 200.6 880.7 201.3 880.4 201.6L880.4 201.6L871.7 206.6Z" fill="#fafafa" stroke="#1a1a1a" stroke-width="2" stroke-linejoin="round" stroke-linecap="round"/>
<ellipse cx="863.2" cy="191.9" rx="17" ry="9.5" fill="#fafafa" stroke="#1a1a1a" stroke-width="2" transform="rotate(60 863.2 191.9)"/>
<ellipse cx="863.2" cy="191.9" rx="17" ry="9.5" fill="#fff" stroke="#1a1a1a" stroke-width="2" transform="rotate(60 863.2 191.9)"/>
<ellipse cx="863.2" cy="191.9" rx="12.5" ry="7" fill="#fff" stroke="#1a1a1a" stroke-width="1" transform="rotate(60 863.2 191.9)"/>
<ellipse cx="863.2" cy="191.9" rx="7.5" ry="4.2" fill="#fff" stroke="#1a1a1a" stroke-width="1.8" transform="rotate(60 863.2 191.9)"/>
<ellipse cx="863.2" cy="191.9" rx="4" ry="2.2" fill="#ccc" stroke="#1a1a1a" stroke-width="1.2" transform="rotate(60 863.2 191.9)"/>
<path d="M712 192.5 L752 214.5" stroke="#1a1a1a" stroke-width="1.6" fill="none" stroke-linecap="butt"/>
<text x="680" y="191.3">100</text>
</g>
<!-- p41_stator.py -->
<g>
<path d="M1053.9 34.7C1057 35.4 1066.2 38.1 1072.3 38.4C1078.5 38.8 1086 38.7 1090.8 36.8C1095.5 34.8 1100 30.3 1100.8 26.7C1101.7 23.1 1098 17.6 1095.8 15C1093.6 12.3 1088.8 11.5 1087.4 10.8" fill="none" stroke="#222" stroke-width="4" stroke-linejoin="round" stroke-linecap="round"/>
<path d="M1053.9 34.7C1057 35.4 1066.2 38.1 1072.3 38.4C1078.5 38.8 1086 38.7 1090.8 36.8C1095.5 34.8 1100 30.3 1100.8 26.7C1101.7 23.1 1098 17.6 1095.8 15C1093.6 12.3 1088.8 11.5 1087.4 10.8" fill="none" stroke="#fff" stroke-width="1.9" stroke-linejoin="round" stroke-linecap="round"/>
<path d="M1055.6 36.8C1059.5 37.9 1069.6 42.9 1079 43.5C1088.5 44 1103.1 42.3 1112.6 40.1C1122.1 37.9 1132.1 31.7 1136 30.1" fill="none" stroke="#222" stroke-width="4" stroke-linejoin="round" stroke-linecap="round"/>
<path d="M1055.6 36.8C1059.5 37.9 1069.6 42.9 1079 43.5C1088.5 44 1103.1 42.3 1112.6 40.1C1122.1 37.9 1132.1 31.7 1136 30.1" fill="none" stroke="#fff" stroke-width="1.9" stroke-linejoin="round" stroke-linecap="round"/>
<path d="M1100.8 95.4C1103.1 93.7 1109.5 89.8 1114.2 85.3C1119 80.9 1123.2 73.6 1129.3 68.6C1135.5 63.6 1147.5 57.4 1151.1 55.2" fill="none" stroke="#222" stroke-width="4" stroke-linejoin="round" stroke-linecap="round"/>
<path d="M1100.8 95.4C1103.1 93.7 1109.5 89.8 1114.2 85.3C1119 80.9 1123.2 73.6 1129.3 68.6C1135.5 63.6 1147.5 57.4 1151.1 55.2" fill="none" stroke="#fff" stroke-width="1.9" stroke-linejoin="round" stroke-linecap="round"/>
<path d="M1101.7 98.8C1103.8 98.2 1110.2 95.5 1114.2 95.4C1118.3 95.3 1122.6 96.8 1126 97.9C1129.3 99 1132.9 101.4 1134.3 102.1" fill="none" stroke="#222" stroke-width="4" stroke-linejoin="round" stroke-linecap="round"/>
<path d="M1101.7 98.8C1103.8 98.2 1110.2 95.5 1114.2 95.4C1118.3 95.3 1122.6 96.8 1126 97.9C1129.3 99 1132.9 101.4 1134.3 102.1" fill="none" stroke="#fff" stroke-width="1.9" stroke-linejoin="round" stroke-linecap="round"/>
<path d="M1136 27.5L1143.6 21.7L1150.3 25L1142.7 30.9Z" fill="#fff" stroke="#1a1a1a" stroke-width="1.2" stroke-linejoin="round" stroke-linecap="round"/>
<path d="M1139.4 28.4L1145.2 24.2" fill="none" stroke="#1a1a1a" stroke-width="0.8" stroke-linejoin="round" stroke-linecap="round"/>
<path d="M1137.7 30.1L1139.4 32.1L1143.1 30.9" fill="none" stroke="#1a1a1a" stroke-width="1" stroke-linejoin="round" stroke-linecap="round"/>
<path d="M1150.3 52.7L1157.8 48.5L1164.5 51.8L1156.5 57.2Z" fill="#fff" stroke="#1a1a1a" stroke-width="1.2" stroke-linejoin="round" stroke-linecap="round"/>
<path d="M1153.6 53.5L1159.8 50.2" fill="none" stroke="#1a1a1a" stroke-width="0.8" stroke-linejoin="round" stroke-linecap="round"/>
<path d="M1151.9 55.2L1153.6 58.5L1156.5 57.2" fill="none" stroke="#1a1a1a" stroke-width="1" stroke-linejoin="round" stroke-linecap="round"/>
<path d="M1078.4 8.3L1087.4 9.3L1091.8 13.3L1091.8 36.8L1079 35.4Z" fill="#fff" stroke="#1a1a1a" stroke-width="1.3" stroke-linejoin="round" stroke-linecap="round"/>
<path d="M1082.7 13.3L1087.4 14L1087.4 31.7L1082.7 31.1Z" fill="#fff" stroke="#1a1a1a" stroke-width="1" stroke-linejoin="round" stroke-linecap="round"/>
<path d="M1079 26.7L1082.7 27" fill="none" stroke="#1a1a1a" stroke-width="0.8" stroke-linejoin="round" stroke-linecap="round"/>
<path d="M1079 30.1L1082.7 30.4" fill="none" stroke="#1a1a1a" stroke-width="0.8" stroke-linejoin="round" stroke-linecap="round"/>
<path d="M1132.7 87L1136 86.2L1137.7 88.7L1141.4 89.5L1141.4 107.1L1139.4 108.8L1137.7 104.6L1132.7 102.1Z" fill="#eee" stroke="#1a1a1a" stroke-width="1.2" stroke-linejoin="round" stroke-linecap="round"/>
<path d="M1134 93.7 L1140.2 95.4" stroke="#1a1a1a" stroke-width="0.8" fill="none" stroke-linecap="butt"/>
<path d="M1134 97.1 L1140.2 98.8" stroke="#1a1a1a" stroke-width="0.8" fill="none" stroke-linecap="butt"/>
<path d="M1079 56C1080.7 56.3 1086 55.6 1089.1 57.7C1092.2 59.8 1095.4 64.3 1097.5 68.6C1099.6 72.9 1101.2 78.9 1101.7 83.7C1102.1 88.4 1101.2 93.3 1100 97.1C1098.7 100.8 1096.2 104.2 1094.1 106.3C1092 108.4 1088.5 109.1 1087.4 109.6" fill="none" stroke="#222" stroke-width="7" stroke-linejoin="round" stroke-linecap="round"/>
<path d="M1079 56C1080.7 56.3 1086 55.6 1089.1 57.7C1092.2 59.8 1095.4 64.3 1097.5 68.6C1099.6 72.9 1101.2 78.9 1101.7 83.7C1102.1 88.4 1101.2 93.3 1100 97.1C1098.7 100.8 1096.2 104.2 1094.1 106.3C1092 108.4 1088.5 109.1 1087.4 109.6" fill="none" stroke="#f4f4f4" stroke-width="5" stroke-linejoin="round" stroke-linecap="round"/>
<path d="M1079 56C1080.7 56.3 1086 55.6 1089.1 57.7C1092.2 59.8 1095.4 64.3 1097.5 68.6C1099.6 72.9 1101.2 78.9 1101.7 83.7C1102.1 88.4 1101.2 93.3 1100 97.1C1098.7 100.8 1096.2 104.2 1094.1 106.3C1092 108.4 1088.5 109.1 1087.4 109.6" fill="none" stroke="#333" stroke-width="2.8" stroke-linejoin="round" stroke-linecap="round"/>
<path d="M1079 56C1080.7 56.3 1086 55.6 1089.1 57.7C1092.2 59.8 1095.4 64.3 1097.5 68.6C1099.6 72.9 1101.2 78.9 1101.7 83.7C1102.1 88.4 1101.2 93.3 1100 97.1C1098.7 100.8 1096.2 104.2 1094.1 106.3C1092 108.4 1088.5 109.1 1087.4 109.6" fill="none" stroke="#f4f4f4" stroke-width="1.5" stroke-linejoin="round" stroke-linecap="round"/>
<path d="M1079 54.3C1080.3 52.5 1086.6 53.8 1089.9 56C1093.2 58.3 1096.7 63.1 1098.8 67.8C1101 72.4 1102.5 78.6 1102.8 83.7C1103.2 88.7 1102.5 93.9 1101.2 97.9C1099.9 101.9 1097.3 105.2 1095 107.5C1092.7 109.7 1089 114.7 1087.4 111.3C1085.9 107.9 1086.6 94.4 1085.8 87C1084.9 79.6 1083.5 72.4 1082.4 66.9C1081.3 61.5 1077.8 56.2 1079 54.3Z" fill="#ddd" stroke="#1a1a1a" stroke-width="1.6" stroke-linejoin="round" stroke-linecap="round"/>
<path d="M1079.9 56C1081.4 56.4 1086.3 56 1089.1 58.2C1091.9 60.4 1094.8 65.2 1096.6 69.4C1098.5 73.7 1099.7 79.2 1100 83.7C1100.3 88.1 1099.4 92.7 1098.3 96.2C1097.2 99.7 1094.1 103.2 1093.3 104.6" fill="none" stroke="#1a1a1a" stroke-width="0.8" stroke-linejoin="round" stroke-linecap="round"/>
<path d="M1080.3 57.5C1081.7 57.8 1086.3 57.3 1088.8 59.4C1091.3 61.5 1093.6 66.1 1095.1 70.2C1096.7 74.2 1098 79.3 1098.2 83.7C1098.4 88 1097.6 92.7 1096.5 96.2C1095.4 99.7 1092.6 103.2 1091.8 104.6" fill="none" stroke="#1a1a1a" stroke-width="0.8" stroke-linejoin="round" stroke-linecap="round"/>
<path d="M1080.8 59C1082.1 59.3 1086.4 58.6 1088.5 60.6C1090.6 62.6 1092.3 67.1 1093.6 70.9C1094.9 74.8 1096.2 79.5 1096.4 83.7C1096.6 87.9 1095.7 92.7 1094.7 96.2C1093.7 99.7 1091 103.2 1090.3 104.6" fill="none" stroke="#1a1a1a" stroke-width="0.8" stroke-linejoin="round" stroke-linecap="round"/>
<path d="M1081.2 60.5C1082.4 60.8 1086.4 60 1088.2 61.8C1090 63.7 1091.1 68.1 1092.1 71.7C1093.2 75.3 1094.4 79.6 1094.6 83.7C1094.7 87.8 1093.9 92.7 1092.9 96.2C1091.9 99.7 1089.5 103.2 1088.8 104.6" fill="none" stroke="#1a1a1a" stroke-width="0.8" stroke-linejoin="round" stroke-linecap="round"/>
<path d="M1081.7 62.1C1082.7 62.2 1086.4 61.3 1087.9 63C1089.4 64.8 1089.8 69 1090.6 72.4C1091.4 75.9 1092.7 79.7 1092.8 83.7C1092.8 87.6 1092 92.7 1091.1 96.2C1090.2 99.7 1087.9 103.2 1087.3 104.6" fill="none" stroke="#1a1a1a" stroke-width="0.8" stroke-linejoin="round" stroke-linecap="round"/>
<path d="M1082.1 63.6C1083.1 63.7 1086.4 62.6 1087.6 64.2C1088.8 65.8 1088.5 70 1089.1 73.2C1089.7 76.4 1090.9 79.8 1090.9 83.7C1091 87.5 1090.1 92.7 1089.3 96.2C1088.4 99.7 1086.3 103.2 1085.8 104.6" fill="none" stroke="#1a1a1a" stroke-width="0.8" stroke-linejoin="round" stroke-linecap="round"/>
<path d="M969.3 73.6L1037.2 34.2L1053.9 35.1L1072.3 48.5L1082.4 61.9L1088.3 75.3L1089.1 90.4L1089.1 118.9L1027.4 154L1027.9 123.9L1026.8 108.8L1020.4 96.2L1009.5 84.5L986.9 74.5L969.3 73.6Z" fill="#f6f6f6" stroke="#1a1a1a" stroke-width="2" stroke-linejoin="round" stroke-linecap="round"/>
<path d="M971.6 72.3L989.2 73.1L1011.7 83.3L1022.5 95.1L1028.9 107.7L1030.1 122.7L1029.6 152.8" fill="none" stroke="#333" stroke-width="0.8" stroke-linejoin="round" stroke-linecap="round"/>
<path d="M974 70.9L991.5 71.7L1013.8 82L1024.7 93.9L1031 106.5L1032.2 121.6L1031.7 151.6" fill="none" stroke="#333" stroke-width="0.8" stroke-linejoin="round" stroke-linecap="round"/>
<path d="M976.3 69.5L993.8 70.4L1016 80.8L1026.8 92.7L1033.1 105.3L1034.3 120.4L1033.8 150.4" fill="none" stroke="#333" stroke-width="0.8" stroke-linejoin="round" stroke-linecap="round"/>
<path d="M978.7 68.2L996.1 69L1018.2 79.5L1029 91.5L1035.3 104.2L1036.4 119.3L1035.9 149.2" fill="none" stroke="#333" stroke-width="0.8" stroke-linejoin="round" stroke-linecap="round"/>
<path d="M981 66.8L998.4 67.7L1020.3 78.3L1031.1 90.3L1037.4 103L1038.5 118.1L1038.1 148" fill="none" stroke="#333" stroke-width="0.8" stroke-linejoin="round" stroke-linecap="round"/>
<path d="M983.3 65.5L1000.8 66.3L1022.5 77.1L1033.2 89.1L1039.5 101.9L1040.6 117L1040.2 146.8" fill="none" stroke="#333" stroke-width="0.8" stroke-linejoin="round" stroke-linecap="round"/>
<path d="M985.7 64.1L1003.1 65L1024.7 75.8L1035.4 87.9L1041.6 100.7L1042.7 115.8L1042.3 145.6" fill="none" stroke="#333" stroke-width="0.8" stroke-linejoin="round" stroke-linecap="round"/>
<path d="M988 62.8L1005.4 63.6L1026.8 74.6L1037.5 86.8L1043.7 99.6L1044.8 114.6L1044.4 144.3" fill="none" stroke="#333" stroke-width="0.8" stroke-linejoin="round" stroke-linecap="round"/>
<path d="M990.4 61.4L1007.7 62.2L1029 73.3L1039.6 85.6L1045.9 98.4L1046.9 113.5L1046.6 143.1" fill="none" stroke="#333" stroke-width="0.8" stroke-linejoin="round" stroke-linecap="round"/>
<path d="M992.7 60L1010 60.9L1031.2 72.1L1041.8 84.4L1048 97.3L1049 112.3L1048.7 141.9" fill="none" stroke="#333" stroke-width="0.8" stroke-linejoin="round" stroke-linecap="round"/>
<path d="M995 58.7L1012.3 59.5L1033.3 70.8L1043.9 83.2L1050.1 96.1L1051.1 111.2L1050.8 140.7" fill="none" stroke="#333" stroke-width="0.8" stroke-linejoin="round" stroke-linecap="round"/>
<path d="M997.4 57.3L1014.6 58.2L1035.5 69.6L1046.1 82L1052.2 94.9L1053.2 110L1053 139.5" fill="none" stroke="#333" stroke-width="0.8" stroke-linejoin="round" stroke-linecap="round"/>
<path d="M999.7 56L1016.9 56.8L1037.7 68.4L1048.2 80.8L1054.3 93.8L1055.4 108.9L1055.1 138.3" fill="none" stroke="#333" stroke-width="0.8" stroke-linejoin="round" stroke-linecap="round"/>
<path d="M1002.1 54.6L1019.2 55.4L1039.8 67.1L1050.3 79.7L1056.5 92.6L1057.5 107.7L1057.2 137.1" fill="none" stroke="#333" stroke-width="0.8" stroke-linejoin="round" stroke-linecap="round"/>
<path d="M1004.4 53.3L1021.6 54.1L1042 65.9L1052.5 78.5L1058.6 91.5L1059.6 106.6L1059.3 135.8" fill="none" stroke="#333" stroke-width="0.8" stroke-linejoin="round" stroke-linecap="round"/>
<path d="M1006.7 51.9L1023.9 52.7L1044.2 64.6L1054.6 77.3L1060.7 90.3L1061.7 105.4L1061.5 134.6" fill="none" stroke="#333" stroke-width="0.8" stroke-linejoin="round" stroke-linecap="round"/>
<path d="M1009.1 50.5L1026.2 51.4L1046.3 63.4L1056.7 76.1L1062.8 89.2L1063.8 104.2L1063.6 133.4" fill="none" stroke="#333" stroke-width="0.8" stroke-linejoin="round" stroke-linecap="round"/>
<path d="M1011.4 49.2L1028.5 50L1048.5 62.2L1058.9 74.9L1064.9 88L1065.9 103.1L1065.7 132.2" fill="none" stroke="#333" stroke-width="0.8" stroke-linejoin="round" stroke-linecap="round"/>
<path d="M1013.8 47.8L1030.8 48.7L1050.7 60.9L1061 73.7L1067.1 86.9L1068 101.9L1067.8 131" fill="none" stroke="#333" stroke-width="0.8" stroke-linejoin="round" stroke-linecap="round"/>
<path d="M1016.1 46.5L1033.1 47.3L1052.8 59.7L1063.2 72.6L1069.2 85.7L1070.1 100.8L1070 129.8" fill="none" stroke="#333" stroke-width="0.8" stroke-linejoin="round" stroke-linecap="round"/>
<path d="M1018.4 45.1L1035.4 45.9L1055 58.4L1065.3 71.4L1071.3 84.5L1072.2 99.6L1072.1 128.6" fill="none" stroke="#333" stroke-width="0.8" stroke-linejoin="round" stroke-linecap="round"/>
<path d="M1020.8 43.7L1037.7 44.6L1057.2 57.2L1067.4 70.2L1073.4 83.4L1074.3 98.5L1074.2 127.4" fill="none" stroke="#333" stroke-width="0.8" stroke-linejoin="round" stroke-linecap="round"/>
<path d="M1023.1 42.4L1040 43.2L1059.3 55.9L1069.6 69L1075.5 82.2L1076.4 97.3L1076.3 126.1" fill="none" stroke="#333" stroke-width="0.8" stroke-linejoin="round" stroke-linecap="round"/>
<path d="M1025.5 41L1042.4 41.9L1061.5 54.7L1071.7 67.8L1077.7 81.1L1078.6 96.2L1078.5 124.9" fill="none" stroke="#333" stroke-width="0.8" stroke-linejoin="round" stroke-linecap="round"/>
<path d="M1027.8 39.7L1044.7 40.5L1063.7 53.5L1073.8 66.6L1079.8 79.9L1080.7 95L1080.6 123.7" fill="none" stroke="#333" stroke-width="0.8" stroke-linejoin="round" stroke-linecap="round"/>
<path d="M1030.1 38.3L1047 39.2L1065.8 52.2L1076 65.4L1081.9 78.8L1082.8 93.8L1082.7 122.5" fill="none" stroke="#333" stroke-width="0.8" stroke-linejoin="round" stroke-linecap="round"/>
<path d="M1032.5 37L1049.3 37.8L1068 51L1078.1 64.3L1084 77.6L1084.9 92.7L1084.8 121.3" fill="none" stroke="#333" stroke-width="0.8" stroke-linejoin="round" stroke-linecap="round"/>
<path d="M1034.8 35.6L1051.6 36.4L1070.2 49.7L1080.3 63.1L1086.1 76.5L1087 91.5L1087 120.1" fill="none" stroke="#333" stroke-width="0.8" stroke-linejoin="round" stroke-linecap="round"/>
<path d="M1037.2 34.2L1053.9 35.1L1072.3 48.5L1082.4 61.9L1088.3 75.3L1089.1 90.4L1089.1 118.9" fill="none" stroke="#1a1a1a" stroke-width="1.6" stroke-linejoin="round" stroke-linecap="round"/>
<path d="M969.3 73.6L986.9 74.5L1009.5 84.5L1020.4 96.2L1026.8 108.8L1027.9 123.9L1027.4 154" fill="none" stroke="#1a1a1a" stroke-width="1.6" stroke-linejoin="round" stroke-linecap="round"/>
<path d="M969.3 73.6L1037.2 34.2" fill="none" stroke="#1a1a1a" stroke-width="2.2" stroke-linejoin="round" stroke-linecap="round"/>
<path d="M986.9 74.5L1053.9 35.1" fill="none" stroke="#1a1a1a" stroke-width="1" stroke-linejoin="round" stroke-linecap="round"/>
<path d="M1027.4 154L1089.1 118.9" fill="none" stroke="#1a1a1a" stroke-width="2" stroke-linejoin="round" stroke-linecap="round"/>
<path d="M969.3 73.6L969.3 79" fill="none" stroke="#1a1a1a" stroke-width="1.6" stroke-linejoin="round" stroke-linecap="round"/>
<path d="M1027.9 113L1089.1 77.8L1089.1 85.7L1027.9 120.9Z" fill="#f6f6f6" stroke="#1a1a1a" stroke-width="1.2" stroke-linejoin="round" stroke-linecap="round"/>
<path d="M1027.9 116.8L1089.1 81.7" fill="none" stroke="#1a1a1a" stroke-width="1.6" stroke-linejoin="round" stroke-linecap="round"/>
<path d="M970.1 77C974.9 74.3 980.5 74.6 986.9 76.1C993.3 77.7 1003.1 82.6 1008.7 86.2C1014.3 89.8 1017.4 93.9 1020.4 97.9C1023.4 102 1025.5 101.1 1026.8 110.5C1028 119.8 1029.8 145.9 1027.9 154C1026 162.1 1020 159.1 1015.4 159.1C1010.8 159.1 1005.6 157.7 1000.3 154C995 150.4 989.4 140.4 983.5 137.3C977.7 134.2 969.6 139.5 965.1 135.6C960.6 131.7 957.8 121.1 956.7 113.8C955.6 106.6 956.2 98.2 958.4 92.1C960.6 85.9 965.4 79.6 970.1 77Z" fill="#e8e8e8" stroke="#1a1a1a" stroke-width="1.2" stroke-linejoin="round" stroke-linecap="round"/>
<path d="M981 86.2C980.3 88.3 977.3 94.1 976.8 98.8C976.4 103.4 977.1 109.1 978.5 113.8C979.9 118.6 984.1 125 985.2 127.2" fill="none" stroke="#1a1a1a" stroke-width="0.8" stroke-linejoin="round" stroke-linecap="round"/>
<path d="M982.9 85.7C982.2 87.9 979.1 93.9 978.7 98.6C978.3 103.3 979 109 980.4 113.8C981.8 118.7 985.9 125.3 987.1 127.6" fill="none" stroke="#1a1a1a" stroke-width="0.8" stroke-linejoin="round" stroke-linecap="round"/>
<path d="M984.7 85.3C984 87.5 980.9 93.6 980.5 98.4C980.1 103.1 980.8 108.9 982.2 113.8C983.6 118.8 987.8 125.6 988.9 128" fill="none" stroke="#1a1a1a" stroke-width="0.8" stroke-linejoin="round" stroke-linecap="round"/>
<path d="M986.6 84.8C985.9 87 982.8 93.4 982.4 98.2C981.9 103 982.6 108.8 984 113.8C985.4 118.9 989.6 125.9 990.7 128.3" fill="none" stroke="#1a1a1a" stroke-width="0.8" stroke-linejoin="round" stroke-linecap="round"/>
<path d="M988.4 84.3C987.7 86.6 984.6 93.1 984.2 98C983.8 102.9 984.5 108.7 985.9 113.8C987.3 118.9 991.5 126.2 992.6 128.7" fill="none" stroke="#1a1a1a" stroke-width="0.8" stroke-linejoin="round" stroke-linecap="round"/>
<path d="M990.2 83.9C989.5 86.2 986.5 92.8 986.1 97.8C985.6 102.8 986.3 108.6 987.7 113.8C989.1 119 993.3 126.5 994.4 129.1" fill="none" stroke="#1a1a1a" stroke-width="0.8" stroke-linejoin="round" stroke-linecap="round"/>
<path d="M992.1 83.4C991.4 85.8 988.3 92.6 987.9 97.6C987.5 102.7 988.2 108.5 989.6 113.8C991 119.1 995.2 126.8 996.3 129.5" fill="none" stroke="#1a1a1a" stroke-width="0.8" stroke-linejoin="round" stroke-linecap="round"/>
<path d="M993.9 83C993.2 85.4 990.2 92.3 989.7 97.5C989.3 102.6 990 108.4 991.4 113.8C992.8 119.2 997 127.2 998.1 129.8" fill="none" stroke="#1a1a1a" stroke-width="0.8" stroke-linejoin="round" stroke-linecap="round"/>
<path d="M995.8 82.5C995.1 85 992 92.1 991.6 97.3C991.2 102.5 991.9 108.3 993.3 113.8C994.7 119.3 998.8 127.5 1000 130.2" fill="none" stroke="#1a1a1a" stroke-width="0.8" stroke-linejoin="round" stroke-linecap="round"/>
<path d="M997.6 82C996.9 84.5 993.8 91.8 993.4 97.1C993 102.4 993.7 108.3 995.1 113.8C996.5 119.4 1000.7 127.8 1001.8 130.6" fill="none" stroke="#1a1a1a" stroke-width="0.8" stroke-linejoin="round" stroke-linecap="round"/>
<path d="M999.5 81.6C998.8 84.1 995.7 91.5 995.3 96.9C994.8 102.3 995.5 108.2 996.9 113.8C998.3 119.5 1002.5 128.1 1003.6 130.9" fill="none" stroke="#1a1a1a" stroke-width="0.8" stroke-linejoin="round" stroke-linecap="round"/>
<path d="M1001.3 81.1C1000.6 83.7 997.5 91.3 997.1 96.7C996.7 102.2 997.4 108.1 998.8 113.8C1000.2 119.6 1004.4 128.4 1005.5 131.3" fill="none" stroke="#1a1a1a" stroke-width="0.8" stroke-linejoin="round" stroke-linecap="round"/>
<path d="M1003.1 80.7C1002.4 83.3 999.4 91 999 96.5C998.5 102.1 999.2 108 1000.6 113.8C1002 119.7 1006.2 128.7 1007.3 131.7" fill="none" stroke="#1a1a1a" stroke-width="0.8" stroke-linejoin="round" stroke-linecap="round"/>
<path d="M1005 80.2C1004.3 82.9 1001.2 90.8 1000.8 96.4C1000.4 102 1001.1 107.9 1002.5 113.8C1003.9 119.8 1008.1 129 1009.2 132" fill="none" stroke="#1a1a1a" stroke-width="0.8" stroke-linejoin="round" stroke-linecap="round"/>
<path d="M986.9 137.3L1002 128.9" fill="none" stroke="#1a1a1a" stroke-width="0.8" stroke-linejoin="round" stroke-linecap="round"/>
<path d="M989.2 138.6L1003.6 130.3" fill="none" stroke="#1a1a1a" stroke-width="0.8" stroke-linejoin="round" stroke-linecap="round"/>
<path d="M991.6 140L1005.3 131.6" fill="none" stroke="#1a1a1a" stroke-width="0.8" stroke-linejoin="round" stroke-linecap="round"/>
<path d="M993.9 141.3L1007 132.9" fill="none" stroke="#1a1a1a" stroke-width="0.8" stroke-linejoin="round" stroke-linecap="round"/>
<path d="M996.3 142.7L1008.7 134.3" fill="none" stroke="#1a1a1a" stroke-width="0.8" stroke-linejoin="round" stroke-linecap="round"/>
<path d="M998.6 144L1010.3 135.6" fill="none" stroke="#1a1a1a" stroke-width="0.8" stroke-linejoin="round" stroke-linecap="round"/>
<path d="M1001 145.3L1012 137" fill="none" stroke="#1a1a1a" stroke-width="0.8" stroke-linejoin="round" stroke-linecap="round"/>
<path d="M1003.3 146.7L1013.7 138.3" fill="none" stroke="#1a1a1a" stroke-width="0.8" stroke-linejoin="round" stroke-linecap="round"/>
<path d="M987.7 79C985.6 79.5 979.1 80.1 975.2 82C971.3 83.9 966.9 86.7 964.3 90.4C961.6 94 959.8 98.8 959.2 103.8C958.7 108.8 959.4 115.8 960.9 120.5C962.5 125.3 965.2 130.1 968.5 132.3C971.7 134.4 974.9 134.9 980.2 133.6C985.5 132.3 996.9 126.2 1000.3 124.7" fill="none" stroke="#222" stroke-width="12.5" stroke-linejoin="round" stroke-linecap="round"/>
<path d="M987.7 79C985.6 79.5 979.1 80.1 975.2 82C971.3 83.9 966.9 86.7 964.3 90.4C961.6 94 959.8 98.8 959.2 103.8C958.7 108.8 959.4 115.8 960.9 120.5C962.5 125.3 965.2 130.1 968.5 132.3C971.7 134.4 974.9 134.9 980.2 133.6C985.5 132.3 996.9 126.2 1000.3 124.7" fill="none" stroke="#f4f4f4" stroke-width="10.5" stroke-linejoin="round" stroke-linecap="round"/>
<path d="M987.7 79C985.6 79.5 979.1 80.1 975.2 82C971.3 83.9 966.9 86.7 964.3 90.4C961.6 94 959.8 98.8 959.2 103.8C958.7 108.8 959.4 115.8 960.9 120.5C962.5 125.3 965.2 130.1 968.5 132.3C971.7 134.4 974.9 134.9 980.2 133.6C985.5 132.3 996.9 126.2 1000.3 124.7" fill="none" stroke="#333" stroke-width="8.3" stroke-linejoin="round" stroke-linecap="round"/>
<path d="M987.7 79C985.6 79.5 979.1 80.1 975.2 82C971.3 83.9 966.9 86.7 964.3 90.4C961.6 94 959.8 98.8 959.2 103.8C958.7 108.8 959.4 115.8 960.9 120.5C962.5 125.3 965.2 130.1 968.5 132.3C971.7 134.4 974.9 134.9 980.2 133.6C985.5 132.3 996.9 126.2 1000.3 124.7" fill="none" stroke="#f4f4f4" stroke-width="7" stroke-linejoin="round" stroke-linecap="round"/>
<path d="M987.7 79C985.6 79.5 979.1 80.1 975.2 82C971.3 83.9 966.9 86.7 964.3 90.4C961.6 94 959.8 98.8 959.2 103.8C958.7 108.8 959.4 115.8 960.9 120.5C962.5 125.3 965.2 130.1 968.5 132.3C971.7 134.4 974.9 134.9 980.2 133.6C985.5 132.3 996.9 126.2 1000.3 124.7" fill="none" stroke="#333" stroke-width="4.8" stroke-linejoin="round" stroke-linecap="round"/>
<path d="M987.7 79C985.6 79.5 979.1 80.1 975.2 82C971.3 83.9 966.9 86.7 964.3 90.4C961.6 94 959.8 98.8 959.2 103.8C958.7 108.8 959.4 115.8 960.9 120.5C962.5 125.3 965.2 130.1 968.5 132.3C971.7 134.4 974.9 134.9 980.2 133.6C985.5 132.3 996.9 126.2 1000.3 124.7" fill="none" stroke="#f4f4f4" stroke-width="3.5" stroke-linejoin="round" stroke-linecap="round"/>
<path d="M987.7 79C985.6 79.5 979.1 80.1 975.2 82C971.3 83.9 966.9 86.7 964.3 90.4C961.6 94 959.8 98.8 959.2 103.8C958.7 108.8 959.4 115.8 960.9 120.5C962.5 125.3 965.2 130.1 968.5 132.3C971.7 134.4 974.9 134.9 980.2 133.6C985.5 132.3 996.9 126.2 1000.3 124.7" fill="none" stroke="#333" stroke-width="1.3" stroke-linejoin="round" stroke-linecap="round"/>
<path d="M1018.7 96.2C1017.3 96.9 1012.4 98.1 1010.3 100.4C1008.3 102.8 1006.3 106.6 1006.2 110.5C1006 114.4 1008.3 119.4 1009.5 123.9C1010.8 128.4 1013.3 133.1 1013.7 137.3C1014.1 141.5 1013.3 146.2 1012 149C1010.8 151.8 1007.1 153.2 1006.2 154" fill="none" stroke="#222" stroke-width="14" stroke-linejoin="round" stroke-linecap="round"/>
<path d="M1018.7 96.2C1017.3 96.9 1012.4 98.1 1010.3 100.4C1008.3 102.8 1006.3 106.6 1006.2 110.5C1006 114.4 1008.3 119.4 1009.5 123.9C1010.8 128.4 1013.3 133.1 1013.7 137.3C1014.1 141.5 1013.3 146.2 1012 149C1010.8 151.8 1007.1 153.2 1006.2 154" fill="none" stroke="#f4f4f4" stroke-width="12" stroke-linejoin="round" stroke-linecap="round"/>
<path d="M1018.7 96.2C1017.3 96.9 1012.4 98.1 1010.3 100.4C1008.3 102.8 1006.3 106.6 1006.2 110.5C1006 114.4 1008.3 119.4 1009.5 123.9C1010.8 128.4 1013.3 133.1 1013.7 137.3C1014.1 141.5 1013.3 146.2 1012 149C1010.8 151.8 1007.1 153.2 1006.2 154" fill="none" stroke="#333" stroke-width="9.8" stroke-linejoin="round" stroke-linecap="round"/>
<path d="M1018.7 96.2C1017.3 96.9 1012.4 98.1 1010.3 100.4C1008.3 102.8 1006.3 106.6 1006.2 110.5C1006 114.4 1008.3 119.4 1009.5 123.9C1010.8 128.4 1013.3 133.1 1013.7 137.3C1014.1 141.5 1013.3 146.2 1012 149C1010.8 151.8 1007.1 153.2 1006.2 154" fill="none" stroke="#f4f4f4" stroke-width="8.5" stroke-linejoin="round" stroke-linecap="round"/>
<path d="M1018.7 96.2C1017.3 96.9 1012.4 98.1 1010.3 100.4C1008.3 102.8 1006.3 106.6 1006.2 110.5C1006 114.4 1008.3 119.4 1009.5 123.9C1010.8 128.4 1013.3 133.1 1013.7 137.3C1014.1 141.5 1013.3 146.2 1012 149C1010.8 151.8 1007.1 153.2 1006.2 154" fill="none" stroke="#333" stroke-width="6.3" stroke-linejoin="round" stroke-linecap="round"/>
<path d="M1018.7 96.2C1017.3 96.9 1012.4 98.1 1010.3 100.4C1008.3 102.8 1006.3 106.6 1006.2 110.5C1006 114.4 1008.3 119.4 1009.5 123.9C1010.8 128.4 1013.3 133.1 1013.7 137.3C1014.1 141.5 1013.3 146.2 1012 149C1010.8 151.8 1007.1 153.2 1006.2 154" fill="none" stroke="#f4f4f4" stroke-width="5" stroke-linejoin="round" stroke-linecap="round"/>
<path d="M1018.7 96.2C1017.3 96.9 1012.4 98.1 1010.3 100.4C1008.3 102.8 1006.3 106.6 1006.2 110.5C1006 114.4 1008.3 119.4 1009.5 123.9C1010.8 128.4 1013.3 133.1 1013.7 137.3C1014.1 141.5 1013.3 146.2 1012 149C1010.8 151.8 1007.1 153.2 1006.2 154" fill="none" stroke="#333" stroke-width="2.8" stroke-linejoin="round" stroke-linecap="round"/>
<path d="M1018.7 96.2C1017.3 96.9 1012.4 98.1 1010.3 100.4C1008.3 102.8 1006.3 106.6 1006.2 110.5C1006 114.4 1008.3 119.4 1009.5 123.9C1010.8 128.4 1013.3 133.1 1013.7 137.3C1014.1 141.5 1013.3 146.2 1012 149C1010.8 151.8 1007.1 153.2 1006.2 154" fill="none" stroke="#f4f4f4" stroke-width="1.5" stroke-linejoin="round" stroke-linecap="round"/>
<path d="M1003.6 155.7C1005 156.2 1009.1 158.7 1012 158.7C1015 158.7 1019 157.6 1021.2 155.7C1023.5 153.8 1024.7 148.7 1025.4 147.3" fill="none" stroke="#1a1a1a" stroke-width="1.6" stroke-linejoin="round" stroke-linecap="round"/>
<path d="M981 135.6 L1003.6 124.7" stroke="#1a1a1a" stroke-width="2.2" fill="none" stroke-linecap="butt"/>
</g>
<!-- p42_ring110.py -->
<g>
<path d="M911.4 112L926.7 103.5L954.2 120L938.3 129.4L928.5 124.3Z" fill="#fff" stroke="#1a1a1a" stroke-width="2" stroke-linejoin="round" stroke-linecap="round"/>
<path d="M934.7 126.1L950.6 117.5" fill="none" stroke="#1a1a1a" stroke-width="1" stroke-linejoin="round" stroke-linecap="round"/>
<path d="M913.8 111.1 L915.3 112" stroke="#1a1a1a" stroke-width="0.7" fill="none" stroke-linecap="butt"/>
<path d="M915.3 110.2 L916.8 111.2" stroke="#1a1a1a" stroke-width="0.7" fill="none" stroke-linecap="butt"/>
<path d="M916.8 109.3 L918.3 110.3" stroke="#1a1a1a" stroke-width="0.7" fill="none" stroke-linecap="butt"/>
<path d="M918.3 108.5 L919.7 109.5" stroke="#1a1a1a" stroke-width="0.7" fill="none" stroke-linecap="butt"/>
<path d="M919.7 107.6 L921.2 108.6" stroke="#1a1a1a" stroke-width="0.7" fill="none" stroke-linecap="butt"/>
<path d="M921.2 106.8 L922.7 107.7" stroke="#1a1a1a" stroke-width="0.7" fill="none" stroke-linecap="butt"/>
<path d="M922.7 105.9 L924.1 106.9" stroke="#1a1a1a" stroke-width="0.7" fill="none" stroke-linecap="butt"/>
<path d="M924.1 105.1 L925.6 106" stroke="#1a1a1a" stroke-width="0.7" fill="none" stroke-linecap="butt"/>
<path d="M885.1 117.5C887.6 116.3 894.8 110 900.4 110.2C906 110.4 912.4 114.6 918.7 118.8C925.1 122.9 932.9 129.5 938.3 135.3C943.7 141.1 948.6 146.9 951.2 153.6C953.8 160.4 954 167.6 954 175.7C954 183.7 953.4 196.2 951.2 202C949 207.8 943.9 208.5 940.8 210.5C937.6 212.6 933.6 213.6 932.2 214.2" fill="#fff" stroke="#1a1a1a" stroke-width="2" stroke-linejoin="round" stroke-linecap="round"/>
<path d="M878.4 121.2C880.8 117.4 885.9 116.5 890.6 116.3C895.3 116.1 901 117.4 906.5 120C912 122.5 918.3 126.8 923.6 131.6C928.9 136.4 934.7 142.6 938.3 148.7C942 154.9 944.4 161.8 945.7 168.3C946.9 174.9 946.4 181.6 945.7 187.9C945 194.2 943.6 201.9 941.4 206.3C939.1 210.7 936 214 932.2 214.2C928.4 214.4 923.6 210 918.7 207.5C913.8 204.9 907.7 202.5 902.8 198.9C897.9 195.4 893.1 190.8 889.4 186.1C885.6 181.4 882.3 175.6 880.2 170.8C878.1 166 877.2 162.6 876.5 157.3C875.8 152 875.6 145 875.9 139C876.2 132.9 875.9 125 878.4 121.2Z" fill="#fff" stroke="#1a1a1a" stroke-width="2" stroke-linejoin="round" stroke-linecap="round"/>
<path d="M881.4 125.5C883.5 122.4 887.6 120.8 891.8 120.6C896 120.4 901.4 121.8 906.5 124.3C911.6 126.7 917.6 130.8 922.4 135.3C927.2 139.8 932 145.5 935.3 151.2C938.5 156.9 940.9 163.4 942 169.5C943.1 175.7 942.6 182.4 942 187.9C941.4 193.4 940.1 199 938.3 202.6C936.6 206.2 934.9 209.2 931.6 209.3C928.3 209.4 923.3 205.6 918.7 203.2C914.2 200.9 908.5 198.5 904.1 195.3C899.6 192 895.2 187.9 891.8 183.6C888.5 179.3 885.8 173.9 883.9 169.5C881.9 165.2 880.9 162.4 880.2 157.3C879.5 152.2 879.4 144.3 879.6 139C879.8 133.7 879.4 128.6 881.4 125.5Z" fill="none" stroke="#1a1a1a" stroke-width="0.9" stroke-linejoin="round" stroke-linecap="round"/>
<path d="M890.6 115.1L897.3 109.8L912 115.9L905.5 121.2Z" fill="#fff" stroke="#1a1a1a" stroke-width="1.8" stroke-linejoin="round" stroke-linecap="round"/>
<path d="M905.5 121.2L905.5 123.7" fill="none" stroke="#1a1a1a" stroke-width="1" stroke-linejoin="round" stroke-linecap="round"/>
<path d="M912 115.9L912.4 118.8L905.5 123.7" fill="none" stroke="#1a1a1a" stroke-width="1.4" stroke-linejoin="round" stroke-linecap="round"/>
<path d="M918.7 127L926.1 122.4L940.8 135.5L932.5 140.4Z" fill="#fff" stroke="#1a1a1a" stroke-width="1.8" stroke-linejoin="round" stroke-linecap="round"/>
<path d="M940.8 135.5L940.8 138.3L932.5 143.2" fill="none" stroke="#1a1a1a" stroke-width="1.4" stroke-linejoin="round" stroke-linecap="round"/>
<path d="M878.4 121.2L889.1 116.3L890 119.1L882 123" fill="none" stroke="#1a1a1a" stroke-width="1.8" stroke-linejoin="round" stroke-linecap="round"/>
<path d="M941.4 206.3L940.8 210.5L932.2 214.2" fill="none" stroke="#1a1a1a" stroke-width="1.5" stroke-linejoin="round" stroke-linecap="round"/>
<path d="M931.6 209.3L939.5 205L941.4 206.3" fill="none" stroke="#1a1a1a" stroke-width="1.5" stroke-linejoin="round" stroke-linecap="round"/>
<path d="M942 156.7L951.2 153.6" fill="none" stroke="#1a1a1a" stroke-width="1.2" stroke-linejoin="round" stroke-linecap="round"/>
<path d="M945.7 158.5L951.8 156.1" fill="none" stroke="#1a1a1a" stroke-width="1" stroke-linejoin="round" stroke-linecap="round"/>
<path d="M888.4 188.5L892.4 187.3L889.4 185.5" fill="none" stroke="#1a1a1a" stroke-width="1.6" stroke-linejoin="round" stroke-linecap="round"/>
<path d="M880.2 170.8L878.4 169.5L877.1 158.5" fill="none" stroke="#1a1a1a" stroke-width="1.2" stroke-linejoin="round" stroke-linecap="round"/>
<ellipse cx="914.5" cy="162.5" rx="31.2" ry="18.4" fill="#fff" stroke="#1a1a1a" stroke-width="2.2" transform="rotate(62 914.5 162.5)"/>
<path d="M937.7 167.9C937.7 169 938.2 172.5 938.2 174.6C938.1 176.7 937.8 178.8 937.3 180.5C936.8 182.2 936 183.8 935 185.1C934.1 186.3 932.9 187.4 931.6 188.1C930.3 188.8 928.8 189.2 927.2 189.2C925.6 189.3 923.9 189.1 922.1 188.5C920.4 188 918.6 187.1 916.8 186C915 184.9 913.2 183.4 911.5 181.8C909.8 180.2 908.1 178.2 906.6 176.2C905 174.2 903.6 171.9 902.4 169.6C901.2 167.4 900.1 164.9 899.3 162.5C898.4 160.1 897.8 157.6 897.4 155.3C897 153 896.8 150.7 896.9 148.6C896.9 146.5 897.6 143.7 897.8 142.7" fill="none" stroke="#1a1a1a" stroke-width="1" stroke-linejoin="round" stroke-linecap="round"/>
<path d="M910.8 180L926.1 173.2L933.4 178.1" fill="none" stroke="#1a1a1a" stroke-width="2" stroke-linejoin="round" stroke-linecap="round"/>
<path d="M917.5 183L933.4 175.7" fill="none" stroke="#1a1a1a" stroke-width="1" stroke-linejoin="round" stroke-linecap="round"/>
<path d="M881.4 181.2 L920.6 158.5" stroke="#1a1a1a" stroke-width="1" fill="none" stroke-linecap="butt"/>
<path d="M837 120.8 L871.2 140.5" stroke="#1a1a1a" stroke-width="1.6" fill="none" stroke-linecap="butt"/>
<path d="M800.8 142 L854.5 172.5" stroke="#1a1a1a" stroke-width="1.6" fill="none" stroke-linecap="butt"/>
<path d="M937 61.2 L962 75.8" stroke="#1a1a1a" stroke-width="1.6" fill="none" stroke-linecap="butt"/>
<text x="805.5" y="119.5">110</text>
<text x="778.8" y="139.5">50</text>
<text x="903.8" y="60.8">490</text>
</g>
<!-- p50_housing90.py -->
<g>
<defs><linearGradient id="h9" x1="0" y1="0" x2="0.3" y2="1"><stop offset="0" stop-color="#ffffff"/><stop offset="0.55" stop-color="#f7f7f7"/><stop offset="1" stop-color="#ebebeb"/></linearGradient></defs>
<path d="M1172 14L1172 170L567.5 518.8L567.5 738.8L597.5 721.2" fill="none" stroke="#1a1a1a" stroke-width="1" stroke-linejoin="round" stroke-linecap="round"/>
<path d="M1160 20L1172 14" fill="none" stroke="#1a1a1a" stroke-width="1" stroke-linejoin="round" stroke-linecap="round"/>
<path d="M693.8 556.2L702.5 552L702.5 574.5L579.5 645L579.5 692.5L626.2 666.2" fill="none" stroke="#1a1a1a" stroke-width="1" stroke-linejoin="round" stroke-linecap="round"/>
<path d="M780 512.5L762.5 522.5L803.8 593.8L773.8 611.2" fill="none" stroke="#1a1a1a" stroke-width="1" stroke-linejoin="round" stroke-linecap="round"/>
<path d="M773.3 608.2C774.8 609.1 780 610.8 782.4 613.4C784.8 616 787.7 619.5 787.7 623.9C787.7 628.3 783.8 634 782.4 639.6C781.1 645.3 780.3 654.9 779.8 658" fill="none" stroke="#1a1a1a" stroke-width="1" stroke-linejoin="round" stroke-linecap="round"/>
<path d="M790.3 597.7C791.2 599 794 602.9 795.6 605.6C797.1 608.2 798.8 612.1 799.5 613.4" fill="none" stroke="#1a1a1a" stroke-width="1.8" stroke-linejoin="round" stroke-linecap="round"/>
<path d="M772.3 577.7L798.5 563.6L792.6 552.5L766.4 566.6Z" fill="#fff" stroke="#1a1a1a" stroke-width="1.8" stroke-linejoin="round" stroke-linecap="round"/>
<path d="M798.6 563.9L808.1 558.9L801.9 547.3L792.5 552.3Z" fill="#fff" stroke="#1a1a1a" stroke-width="1.8" stroke-linejoin="round" stroke-linecap="round"/>
<ellipse cx="805" cy="553.1" rx="4.1" ry="6.6" fill="#fff" stroke="#1a1a1a" stroke-width="1.8" transform="rotate(-28 805 553.1)"/>
<path d="M785.7 557.7 L786.6 559.4" stroke="#1a1a1a" stroke-width="1.6" fill="none" stroke-linecap="butt"/>
<path d="M786.9 557.1 L787.8 558.8" stroke="#1a1a1a" stroke-width="1.6" fill="none" stroke-linecap="butt"/>
<path d="M788.1 556.5 L789 558.2" stroke="#1a1a1a" stroke-width="1.6" fill="none" stroke-linecap="butt"/>
<path d="M789.3 555.9 L790.2 557.6" stroke="#1a1a1a" stroke-width="1.6" fill="none" stroke-linecap="butt"/>
<path d="M790.4 555.3 L791.4 557" stroke="#1a1a1a" stroke-width="1.6" fill="none" stroke-linecap="butt"/>
<path d="M791.6 554.8 L792.5 556.5" stroke="#1a1a1a" stroke-width="1.6" fill="none" stroke-linecap="butt"/>
<path d="M772 579.3L789.7 597.7" fill="none" stroke="#1a1a1a" stroke-width="2" stroke-linejoin="round" stroke-linecap="round"/>
<path d="M740.5 579.3L747.7 572.8L760.8 564.9L765.4 567.5L764.1 575.4L768 578.7L772 579.3L751.6 592.4L745.7 583.3L742.5 583.9Z" fill="#fff" stroke="#1a1a1a" stroke-width="1.8" stroke-linejoin="round" stroke-linecap="round"/>
<path d="M751.6 573.4L751.6 592.4" fill="none" stroke="#1a1a1a" stroke-width="1" stroke-linejoin="round" stroke-linecap="round"/>
<path d="M751.6 573.4L762.8 567.5" fill="none" stroke="#1a1a1a" stroke-width="1" stroke-linejoin="round" stroke-linecap="round"/>
<path d="M753.6 579.3L763.4 574.1" fill="none" stroke="#1a1a1a" stroke-width="0.9" stroke-linejoin="round" stroke-linecap="round"/>
<path d="M742.5 579.3L747 577.4L747.7 579.3L743.8 581.3" fill="none" stroke="#1a1a1a" stroke-width="1.3" stroke-linejoin="round" stroke-linecap="round"/>
<path d="M749.7 590.5L754.9 587.9L761.5 597.7L758.2 599.7" fill="none" stroke="#1a1a1a" stroke-width="1.6" stroke-linejoin="round" stroke-linecap="round"/>
<path d="M755.6 589.2L762.8 600.3L766.7 599.7" fill="none" stroke="#1a1a1a" stroke-width="1" stroke-linejoin="round" stroke-linecap="round"/>
<path d="M751.6 592.4L775.9 604.9" fill="none" stroke="#1a1a1a" stroke-width="0.9" stroke-linejoin="round" stroke-linecap="round"/>
<path d="M753.6 580L774.6 608.2" fill="none" stroke="#1a1a1a" stroke-width="0.9" stroke-linejoin="round" stroke-linecap="round"/>
<path d="M799.5 613.4L813.9 621.9L811.9 623.9L817.6 625.9L817.2 629.8L806 634.4L795.6 629.2L795.3 625.9L790.3 623.9" fill="#fff" stroke="#1a1a1a" stroke-width="1.8" stroke-linejoin="round" stroke-linecap="round"/>
<path d="M795.3 625.9L806 631.1L817.2 626.5" fill="none" stroke="#1a1a1a" stroke-width="1.2" stroke-linejoin="round" stroke-linecap="round"/>
<path d="M806 631.1 L806 634.4" stroke="#1a1a1a" stroke-width="1" fill="none" stroke-linecap="butt"/>
<path d="M787.7 623.9L782.4 639.6L791.6 623.9" fill="none" stroke="#1a1a1a" stroke-width="1.3" stroke-linejoin="round" stroke-linecap="round"/>
<path d="M817 644.3L840.6 635.1L837 625.8L813.4 635Z" fill="#fff" stroke="#1a1a1a" stroke-width="1.8" stroke-linejoin="round" stroke-linecap="round"/>
<path d="M841.1 636.2L850.5 632.5L846 621.1L836.6 624.7Z" fill="#fff" stroke="#1a1a1a" stroke-width="1.8" stroke-linejoin="round" stroke-linecap="round"/>
<ellipse cx="848.3" cy="626.8" rx="3.8" ry="6.2" fill="#fff" stroke="#1a1a1a" stroke-width="1.8" transform="rotate(-28 848.3 626.8)"/>
<path d="M813.9 652.8L841.4 639.6" fill="none" stroke="#1a1a1a" stroke-width="2.4" stroke-linejoin="round" stroke-linecap="round"/>
<path d="M801.5 635.1L813.9 640.3L818.1 643.6L817.8 647.8L806 654.1L795.6 649.1L798.2 643.6Z" fill="#fff" stroke="#1a1a1a" stroke-width="1.8" stroke-linejoin="round" stroke-linecap="round"/>
<path d="M795.6 649.1L798.2 644.9L806.7 649.5L817.8 644.2" fill="none" stroke="#1a1a1a" stroke-width="1.1" stroke-linejoin="round" stroke-linecap="round"/>
<path d="M806.7 649.5 L806.7 654.1" stroke="#1a1a1a" stroke-width="1" fill="none" stroke-linecap="butt"/>
<path d="M795.6 649.1L796.9 658L790.3 663.2L791 669.8L794.9 671.1L803.4 666.5L808.7 664.6L815.9 660L816.5 655.4L811.9 654.1L806.7 656.7" fill="none" stroke="#1a1a1a" stroke-width="1.8" stroke-linejoin="round" stroke-linecap="round"/>
<path d="M798.2 658L803.4 662.6L803.4 666.5" fill="none" stroke="#1a1a1a" stroke-width="1" stroke-linejoin="round" stroke-linecap="round"/>
<path d="M793.6 666.5L798.2 664.6L799.5 667.8" fill="none" stroke="#1a1a1a" stroke-width="1.2" stroke-linejoin="round" stroke-linecap="round"/>
<path d="M804.7 658.7L808.7 657.3L810 660.6L813.9 658.7" fill="none" stroke="#1a1a1a" stroke-width="1.4" stroke-linejoin="round" stroke-linecap="round"/>
<path d="M782.4 671.1L790.3 654.1L795.6 649.1" fill="none" stroke="#1a1a1a" stroke-width="1.6" stroke-linejoin="round" stroke-linecap="round"/>
<path d="M593.8 652.5L702.5 587.5L715 582L715 582C718.3 582.8 727.9 584 735 587C742.1 590 750.7 595 757.8 600C764.8 605 773.5 610 777.5 617C781.5 624 781.2 634.3 782 642C782.8 649.7 782.8 656.9 782.5 663C782.2 669.1 781.1 674.4 780 678.8C778.9 683.1 777.8 686.8 776 689.2C774.2 691.8 771.5 692 769.5 693.8C767.5 695.5 765.1 698.5 764.2 699.5L764.2 699.5L665 761.2L665 761.2C662.1 761.2 658.3 765.2 647.5 761.2C636.7 757.3 609.8 744.8 600 737.5C590.2 730.2 590.8 727.1 588.8 717.5C586.7 707.9 586.7 690.8 587.5 680C588.3 669.2 592.7 657.1 593.8 652.5Z" fill="url(#h9)" stroke="#1a1a1a" stroke-width="2.2" stroke-linejoin="round" stroke-linecap="round"/>
<path d="M702.5 587.5C705.4 588 714.1 588.4 720 590.5C725.9 592.6 730.8 595.1 738 600C745.2 604.9 757.4 612.1 763 619.8C768.6 627.4 769.8 637.9 771.5 646C773.2 654.1 773.8 661 773.5 668.2C773.2 675.5 771 684 769.5 689.2C768 694.5 765.1 697.8 764.2 699.5" fill="none" stroke="#1a1a1a" stroke-width="1.8" stroke-linejoin="round" stroke-linecap="round"/>
<path d="M708.8 584.5C712.3 585.1 722.7 585.3 730 588C737.3 590.7 745.5 595.6 752.5 600.5C759.5 605.4 767.9 610.6 772 617.5C776.1 624.4 776 634.3 777 642C778 649.7 778.3 657 778 663.8C777.7 670.5 775.5 679.4 775 682.5" fill="none" stroke="#1a1a1a" stroke-width="0.9" stroke-linejoin="round" stroke-linecap="round"/>
<path d="M618.8 642.5C624.8 638.8 643.1 627.3 655 620C666.9 612.7 680.8 602.5 690 598.8C699.2 595 703.3 596 710 597.5C716.7 599 725.3 603.8 730 607.5C734.7 611.2 736.7 617.5 738 619.5" fill="none" stroke="#1a1a1a" stroke-width="1.8" stroke-linejoin="round" stroke-linecap="round"/>
<path d="M618.8 642.5L662.5 667.5L720 626.2L738 619.5" fill="none" stroke="#1a1a1a" stroke-width="1.2" stroke-linejoin="round" stroke-linecap="round"/>
<path d="M622.5 640C628.8 636 648.3 622.5 660 616.2C671.7 610 684.2 604.9 692.5 602.5C700.8 600.1 704.6 600.8 710 602C715.4 603.2 721.2 607.2 725 610C728.8 612.8 731.2 617.3 732.5 618.8" fill="none" stroke="#1a1a1a" stroke-width="0.9" stroke-linejoin="round" stroke-linecap="round"/>
<path d="M662.5 667.5L660 655L622.5 640" fill="none" stroke="#1a1a1a" stroke-width="1" stroke-linejoin="round" stroke-linecap="round"/>
<path d="M645 633.8L700 600L722.5 615L667.5 647.5Z" fill="#fafafa" stroke="#1a1a1a" stroke-width="1.4" stroke-linejoin="round" stroke-linecap="round"/>
<path d="M645 633.8L646.2 636.2L667.5 650.5L667.5 647.5" fill="none" stroke="#1a1a1a" stroke-width="1.2" stroke-linejoin="round" stroke-linecap="round"/>
<path d="M673.8 623L685 617L700 627.5L690 633L685 629.5L680 632.5Z" fill="#eee" stroke="#1a1a1a" stroke-width="1.4" stroke-linejoin="round" stroke-linecap="round"/>
<path d="M685 610L690 607.5L692.5 609.5" fill="none" stroke="#1a1a1a" stroke-width="1" stroke-linejoin="round" stroke-linecap="round"/>
<path d="M660 682.5L767.5 620" fill="none" stroke="#1a1a1a" stroke-width="0.9" stroke-linejoin="round" stroke-linecap="round"/>
<path d="M665 760L670 742.5" fill="none" stroke="#1a1a1a" stroke-width="0.9" stroke-linejoin="round" stroke-linecap="round"/>
<path d="M597.5 652.5C595.2 657.1 592.1 669.6 591.2 680C590.4 690.4 590.4 705.8 592.5 715C594.6 724.2 594.6 727.8 603.8 735C612.9 742.2 637.9 754.2 647.5 758C657.1 761.8 658.1 760.3 661.2 757.5C664.4 754.7 665.7 749 666.2 741.2C666.8 733.5 666 719.9 664.5 711.2C663 702.6 660.3 694.7 657.5 689.5C654.7 684.3 656.2 686.2 647.5 680C638.8 673.8 613.3 657.1 605 652.5C596.7 647.9 599.8 647.9 597.5 652.5Z" fill="#fff" stroke="#1a1a1a" stroke-width="1.8" stroke-linejoin="round" stroke-linecap="round"/>
<path d="M601.2 655C611 660.6 649 679.4 660 688.8C671 698.1 665.9 702.3 667.5 711.2C669.1 720.2 669.9 734.2 669.5 742.5C669.1 750.8 665.8 758.1 665 761.2" fill="none" stroke="#1a1a1a" stroke-width="1.6" stroke-linejoin="round" stroke-linecap="round"/>
<path d="M602.5 658C601.6 661.7 597.8 670.9 597 680C596.2 689.1 596.2 704 598 712.5C599.8 721 599.5 724.6 607.5 731.2C615.5 737.9 639.8 749 646.2 752.5" fill="none" stroke="#1a1a1a" stroke-width="0.9" stroke-linejoin="round" stroke-linecap="round"/>
<path d="M593.8 662.5L603.8 655L613.8 656.2L597.5 666.2Z" fill="#eee" stroke="#1a1a1a" stroke-width="1.2" stroke-linejoin="round" stroke-linecap="round"/>
<path d="M601.2 713.8L646.2 687.5L650 692.5L605 718.8Z" fill="#f4f4f4" stroke="#1a1a1a" stroke-width="1.2" stroke-linejoin="round" stroke-linecap="round"/>
<path d="M606.2 721.2L651.2 695.5L653.8 700L608.8 726.2Z" fill="#f4f4f4" stroke="#1a1a1a" stroke-width="1.2" stroke-linejoin="round" stroke-linecap="round"/>
<path d="M603.8 730L613.8 723.8" fill="none" stroke="#1a1a1a" stroke-width="1.2" stroke-linejoin="round" stroke-linecap="round"/>
<path d="M646.2 751.2L658.8 742.5L662.5 748.8L650 756.2Z" fill="#eee" stroke="#1a1a1a" stroke-width="1.2" stroke-linejoin="round" stroke-linecap="round"/>
<ellipse cx="597.5" cy="658" rx="1.8" ry="2.5" fill="#fff" stroke="#1a1a1a" stroke-width="1"/>
<ellipse cx="655" cy="689.5" rx="1.8" ry="2.5" fill="#fff" stroke="#1a1a1a" stroke-width="1"/>
<ellipse cx="599.2" cy="722" rx="1.8" ry="2.5" fill="#fff" stroke="#1a1a1a" stroke-width="1"/>
<ellipse cx="654.5" cy="754.5" rx="1.8" ry="2.5" fill="#fff" stroke="#1a1a1a" stroke-width="1"/>
<path d="M597.5 721.2L642.5 695.5" fill="none" stroke="#1a1a1a" stroke-width="0.9" stroke-linejoin="round" stroke-linecap="round"/>
<path d="M580.5 690L626.2 666.2" fill="none" stroke="#1a1a1a" stroke-width="0.9" stroke-linejoin="round" stroke-linecap="round"/>
<path d="M732.5 672.5C734.6 668.8 740.8 667.3 745 665C749.2 662.7 755 657.5 757.5 658.8C760 660 759.6 667.7 760 672.5C760.4 677.3 762.1 683.4 760 687.5C757.9 691.6 751.7 694.3 747.5 697C743.3 699.7 737.5 705.3 735 703.8C732.5 702.2 732.9 692.7 732.5 687.5C732.1 682.3 730.4 676.2 732.5 672.5Z" fill="#f6f6f6" stroke="#1a1a1a" stroke-width="1.2" stroke-linejoin="round" stroke-linecap="round"/>
<ellipse cx="745.5" cy="682" rx="10.5" ry="12.5" fill="#fff" stroke="#1a1a1a" stroke-width="2.2" transform="rotate(20 745.5 682)"/>
<path d="M740.5 673.8 L743.8 692.5" stroke="#1a1a1a" stroke-width="1.6" fill="none" stroke-linecap="butt"/>
<text transform="translate(739.0 685.5) rotate(-28)" style="font-size:9px;font-weight:bold;font-style:italic;fill:#222">fein</text>
<path d="M737 723.8 L737 745" stroke="#1a1a1a" stroke-width="1.6" fill="none" stroke-linecap="butt"/>
<text x="726.2" y="762.2">90</text>
<path d="M619.5 533.8 L619.5 590" stroke="#1a1a1a" stroke-width="1.6" fill="none" stroke-linecap="butt"/>
</g>
<!-- p51_switch.py -->
<g>
<path d="M577.5 617.5L601.2 603.8L600 600L606.2 597L610 599.5L683.8 557.5L696.2 565L622.5 607.5L622.5 610.5L616.2 613.8L613.8 611.2L591.2 625Z" fill="#fff" stroke="#1a1a1a" stroke-width="1.4" stroke-linejoin="round" stroke-linecap="round"/>
<path d="M577.5 617.5L577.5 620L591.2 627.5L591.2 625" fill="none" stroke="#1a1a1a" stroke-width="1.2" stroke-linejoin="round" stroke-linecap="round"/>
<path d="M591.2 627.5L613.8 613.8L616.2 616.2L622.5 613L622.5 610.5" fill="none" stroke="#1a1a1a" stroke-width="1" stroke-linejoin="round" stroke-linecap="round"/>
<path d="M622.5 610.5L696.2 567.5L696.2 565" fill="none" stroke="#1a1a1a" stroke-width="1" stroke-linejoin="round" stroke-linecap="round"/>
<path d="M625.5 602.5L680 571.2" fill="none" stroke="#1a1a1a" stroke-width="0.9" stroke-linejoin="round" stroke-linecap="round"/>
<path d="M627 604L681.5 572.8" fill="none" stroke="#1a1a1a" stroke-width="0.9" stroke-linejoin="round" stroke-linecap="round"/>
<path d="M653.8 576.2L682.5 561.2L687.5 564.2L659.5 580Z" fill="#eee" stroke="#1a1a1a" stroke-width="1.2" stroke-linejoin="round" stroke-linecap="round"/>
<path d="M656.2 577L680 564.5" fill="none" stroke="#1a1a1a" stroke-width="1.6" stroke-linejoin="round" stroke-linecap="round"/>
<path d="M597.5 610L601.2 608L603 610.5L599.2 612.5Z" fill="#999" stroke="#1a1a1a" stroke-width="0.9" stroke-linejoin="round" stroke-linecap="round"/>
<path d="M642.5 538.8L642.5 544.2L670 560.5L722.5 531.2L723 525" fill="#fff" stroke="#1a1a1a" stroke-width="1.4" stroke-linejoin="round" stroke-linecap="round"/>
<path d="M642.5 538.8L690 509.5L690 509.5C691 509.1 692.9 507 696.2 507C699.6 507 706 507.8 710 509.5C714 511.2 717.8 515.1 720 517.5C722.2 519.9 722.5 522.7 723 523.8L723 523.8L670 555Z" fill="#fff" stroke="#1a1a1a" stroke-width="2" stroke-linejoin="round" stroke-linecap="round"/>
<path d="M670 555 L670 560.5" stroke="#1a1a1a" stroke-width="1.2" fill="none" stroke-linecap="butt"/>
<path d="M660 530C661.9 527 670 523 675 520C680 517 685 513.5 690 512C695 510.5 700.6 510.3 705 511.2C709.4 512.2 713.8 515.5 716.2 517.5C718.8 519.5 721 520.9 720 523C719 525.1 715 527.4 710 530C705 532.6 695.8 536.8 690 538.8C684.2 540.8 679.4 542.1 675 542C670.6 541.9 666.2 540 663.8 538C661.2 536 658.1 533 660 530Z" fill="#fafafa" stroke="#1a1a1a" stroke-width="1.4" stroke-linejoin="round" stroke-linecap="round"/>
<path d="M661.2 531.2C662.3 532.1 664.8 535.1 667.5 536.2C670.2 537.4 673.8 538.4 677.5 538C681.2 537.6 687.9 534.5 690 533.8" fill="none" stroke="#1a1a1a" stroke-width="0.9" stroke-linejoin="round" stroke-linecap="round"/>
<path d="M676.5 525.8L690.5 534.2" fill="none" stroke="#1a1a1a" stroke-width="1.7" stroke-linejoin="round" stroke-linecap="round"/>
<path d="M680.8 523.9L694.8 532.4" fill="none" stroke="#1a1a1a" stroke-width="1.7" stroke-linejoin="round" stroke-linecap="round"/>
<path d="M685 522L699 530.5" fill="none" stroke="#1a1a1a" stroke-width="1.7" stroke-linejoin="round" stroke-linecap="round"/>
<path d="M689.3 520.2L703.3 528.7" fill="none" stroke="#1a1a1a" stroke-width="1.7" stroke-linejoin="round" stroke-linecap="round"/>
<path d="M693.6 518.4L707.6 526.9" fill="none" stroke="#1a1a1a" stroke-width="1.7" stroke-linejoin="round" stroke-linecap="round"/>
<path d="M697.9 516.5L711.9 525" fill="none" stroke="#1a1a1a" stroke-width="1.7" stroke-linejoin="round" stroke-linecap="round"/>
<path d="M702.1 514.6L716.1 523.1" fill="none" stroke="#1a1a1a" stroke-width="1.7" stroke-linejoin="round" stroke-linecap="round"/>
<path d="M706.4 512.8L716.2 518.8" fill="none" stroke="#1a1a1a" stroke-width="1.7" stroke-linejoin="round" stroke-linecap="round"/>
<path d="M710.7 510.9L720.5 516.9" fill="none" stroke="#1a1a1a" stroke-width="1.7" stroke-linejoin="round" stroke-linecap="round"/>
<path d="M667.5 533.8L677.5 528L686.2 533.8L677.5 539.5Z" fill="#fff" stroke="#1a1a1a" stroke-width="0.9" stroke-linejoin="round" stroke-linecap="round"/>
<path d="M692.5 513.8L705 512" fill="none" stroke="#1a1a1a" stroke-width="1.6" stroke-linejoin="round" stroke-linecap="round"/>
<ellipse cx="707.5" cy="517" rx="1.2" ry="1.8" fill="#fff" stroke="#1a1a1a" stroke-width="0.9"/>
</g>
<!-- p52_elec.py -->
<g>
<path d="M786.8 498.8L786.8 448L846.8 415.5L846.8 432.5" fill="none" stroke="#1a1a1a" stroke-width="2.4" stroke-linejoin="round" stroke-linecap="round"/>
<path d="M814.2 422.5 L814.2 433" stroke="#1a1a1a" stroke-width="2.4" fill="none" stroke-linecap="butt"/>
<path d="M846.2 451.2 L846.2 470" stroke="#1a1a1a" stroke-width="1.6" fill="none" stroke-linecap="butt"/>
<path d="M816.2 468.8 L816.2 485" stroke="#1a1a1a" stroke-width="1.6" fill="none" stroke-linecap="butt"/>
<text x="803.8" y="421.9">60</text>
<text x="836.8" y="448.7">70</text>
<text x="806.2" y="466.2">80</text>
<path d="M776.7 502.2L778.4 501L780.5 503.5L786.8 503.5L796.8 497.6L801.4 500.2L801 502.2L790.9 509.4L789.7 511L792.2 511.9L798.5 520.3L801 523.6L798.9 527.8L793 529.9L795.5 535.3L796.4 545L790.5 542L790.5 536.2L785.5 532L782.6 523.6L778.8 519.4L778.8 508.1L777.1 506.9Z" fill="#fff" stroke="#1a1a1a" stroke-width="1.6" stroke-linejoin="round" stroke-linecap="round"/>
<path d="M786.8 503.5L790.9 509.4" fill="none" stroke="#1a1a1a" stroke-width="1" stroke-linejoin="round" stroke-linecap="round"/>
<ellipse cx="797" cy="501.7" rx="0.4" ry="0.4" fill="#333" stroke="#1a1a1a" stroke-width="1"/>
<ellipse cx="783.8" cy="509.4" rx="2.2" ry="2.8" fill="#fff" stroke="#1a1a1a" stroke-width="1.6" transform="rotate(-10 783.8 509.4)"/>
<path d="M782.6 520.7L797.6 513.1" fill="none" stroke="#1a1a1a" stroke-width="1" stroke-linejoin="round" stroke-linecap="round"/>
<path d="M786.8 528.6L798.9 522.8" fill="none" stroke="#1a1a1a" stroke-width="1" stroke-linejoin="round" stroke-linecap="round"/>
<path d="M796.8 512.3L809.4 506.4L811.9 501.4L815.6 500.2L820.3 502.2L823.6 512.7L828.6 512.3L829 513.1L798.9 528.6L797.6 527.8L800.6 523.6Z" fill="#fff" stroke="#1a1a1a" stroke-width="1.4" stroke-linejoin="round" stroke-linecap="round"/>
<path d="M798.9 528.2L829 512.9" fill="none" stroke="#1a1a1a" stroke-width="2.6" stroke-linejoin="round" stroke-linecap="round"/>
<path d="M798.1 513.6L800.6 522.3" fill="none" stroke="#1a1a1a" stroke-width="3.2" stroke-linejoin="round" stroke-linecap="round"/>
<path d="M801.4 511.9L803.9 519.4" fill="none" stroke="#1a1a1a" stroke-width="3.2" stroke-linejoin="round" stroke-linecap="round"/>
<path d="M803.9 509.4L809.4 506.9" fill="none" stroke="#1a1a1a" stroke-width="3" stroke-linejoin="round" stroke-linecap="round"/>
<path d="M804.3 513.6L806.9 512.3L807.7 515.2L805.2 516.5Z" fill="#ddd" stroke="#1a1a1a" stroke-width="1" stroke-linejoin="round" stroke-linecap="round"/>
<path d="M803.5 516.9L813.6 512.3" fill="none" stroke="#1a1a1a" stroke-width="3" stroke-linejoin="round" stroke-linecap="round"/>
<path d="M813.6 512.3L816.5 519.4" fill="none" stroke="#1a1a1a" stroke-width="2.2" stroke-linejoin="round" stroke-linecap="round"/>
<path d="M819.4 510.2L821.9 516.9" fill="none" stroke="#1a1a1a" stroke-width="2" stroke-linejoin="round" stroke-linecap="round"/>
<path d="M809.4 506.9L820.3 502.2" fill="none" stroke="#1a1a1a" stroke-width="2.2" stroke-linejoin="round" stroke-linecap="round"/>
<path d="M810.2 505.2C810.5 504.5 811 502.2 811.9 501.4C812.8 500.6 814.9 500.3 815.6 500.6C816.4 500.8 816.3 502.7 816.5 503.1" fill="none" stroke="#1a1a1a" stroke-width="1.6" stroke-linejoin="round" stroke-linecap="round"/>
<ellipse cx="805.2" cy="497.6" rx="1.4" ry="2.3" fill="#fff" stroke="#1a1a1a" stroke-width="2" transform="rotate(-15 805.2 497.6)"/>
<ellipse cx="808.1" cy="496.1" rx="1.4" ry="2.3" fill="#fff" stroke="#1a1a1a" stroke-width="2" transform="rotate(-15 808.1 496.1)"/>
<ellipse cx="811" cy="494.7" rx="1.4" ry="2.3" fill="#fff" stroke="#1a1a1a" stroke-width="2" transform="rotate(-15 811 494.7)"/>
<ellipse cx="814" cy="493.3" rx="1.4" ry="2.3" fill="#fff" stroke="#1a1a1a" stroke-width="2" transform="rotate(-15 814 493.3)"/>
<ellipse cx="818.6" cy="490.1" rx="4.6" ry="5.4" fill="#fff" stroke="#1a1a1a" stroke-width="2" transform="rotate(-20 818.6 490.1)"/>
<ellipse cx="817.3" cy="490.8" rx="2.5" ry="3.2" fill="#fff" stroke="#1a1a1a" stroke-width="1.4" transform="rotate(-20 817.3 490.8)"/>
<ellipse cx="816.5" cy="491.4" rx="1.3" ry="1.8" fill="#ddd" stroke="#1a1a1a" stroke-width="1.2" transform="rotate(-20 816.5 491.4)"/>
<path d="M826.5 479.6L836.2 475.4L837 481.7L827.8 487.2Z" fill="#aaa" stroke="#1a1a1a" stroke-width="1.8" stroke-linejoin="round" stroke-linecap="round"/>
<path d="M828.6 480.5L835.3 477.5" fill="none" stroke="#1a1a1a" stroke-width="1.2" stroke-linejoin="round" stroke-linecap="round"/>
<path d="M837 478.4L841.2 476" fill="none" stroke="#1a1a1a" stroke-width="2.4" stroke-linejoin="round" stroke-linecap="round"/>
<ellipse cx="843" cy="473.8" rx="1.7" ry="1.8" fill="#fff" stroke="#1a1a1a" stroke-width="1.6"/>
<ellipse cx="843" cy="473.8" rx="0.7" ry="0.8" fill="#fff" stroke="#1a1a1a" stroke-width="1"/>
<path d="M842 497L868.4 480.5L864.6 475.2L838.3 490.1L838.3 490.1C838 490.7 836.8 492.4 837 493.5C837.2 494.5 838.7 496 839.5 496.6C840.4 497.2 841.6 496.9 842 497Z" fill="#fff" stroke="#1a1a1a" stroke-width="1.8" stroke-linejoin="round" stroke-linecap="round"/>
<path d="M839.5 496.6L866.3 480.7" fill="none" stroke="#1a1a1a" stroke-width="1" stroke-linejoin="round" stroke-linecap="round"/>
<path d="M841.2 489.4 L841.4 490.4" stroke="#1a1a1a" stroke-width="0.8" fill="none" stroke-linecap="butt"/>
<path d="M842.2 488.8 L842.4 489.8" stroke="#1a1a1a" stroke-width="0.8" fill="none" stroke-linecap="butt"/>
<path d="M843.2 488.3 L843.5 489.3" stroke="#1a1a1a" stroke-width="0.8" fill="none" stroke-linecap="butt"/>
<path d="M844.2 487.7 L844.5 488.7" stroke="#1a1a1a" stroke-width="0.8" fill="none" stroke-linecap="butt"/>
<path d="M845.2 487.1 L845.5 488.1" stroke="#1a1a1a" stroke-width="0.8" fill="none" stroke-linecap="butt"/>
<path d="M846.2 486.5 L846.5 487.5" stroke="#1a1a1a" stroke-width="0.8" fill="none" stroke-linecap="butt"/>
<path d="M847.2 485.9 L847.5 486.9" stroke="#1a1a1a" stroke-width="0.8" fill="none" stroke-linecap="butt"/>
<path d="M848.2 485.3 L848.5 486.3" stroke="#1a1a1a" stroke-width="0.8" fill="none" stroke-linecap="butt"/>
<path d="M849.2 484.7 L849.5 485.7" stroke="#1a1a1a" stroke-width="0.8" fill="none" stroke-linecap="butt"/>
<path d="M850.2 484.2 L850.5 485.2" stroke="#1a1a1a" stroke-width="0.8" fill="none" stroke-linecap="butt"/>
<path d="M851.2 483.6 L851.5 484.6" stroke="#1a1a1a" stroke-width="0.8" fill="none" stroke-linecap="butt"/>
<path d="M852.2 483 L852.5 484" stroke="#1a1a1a" stroke-width="0.8" fill="none" stroke-linecap="butt"/>
<path d="M853.2 482.4 L853.5 483.4" stroke="#1a1a1a" stroke-width="0.8" fill="none" stroke-linecap="butt"/>
<path d="M854.3 481.8 L854.5 482.8" stroke="#1a1a1a" stroke-width="0.8" fill="none" stroke-linecap="butt"/>
<path d="M853.8 482.6L854.6 486.8" fill="none" stroke="#1a1a1a" stroke-width="1.2" stroke-linejoin="round" stroke-linecap="round"/>
<path d="M845.4 473.8C846.8 473.4 851.3 471.4 853.8 471.5C856.2 471.6 858.8 473.2 860 474.6C861.2 476 861.4 478.5 860.9 480.1C860.4 481.6 858.2 482.9 857.1 483.8C856 484.7 854.7 485.2 854.2 485.5" fill="none" stroke="#222" stroke-width="5.2" stroke-linejoin="round" stroke-linecap="round"/>
<path d="M845.4 473.8C846.8 473.4 851.3 471.4 853.8 471.5C856.2 471.6 858.8 473.2 860 474.6C861.2 476 861.4 478.5 860.9 480.1C860.4 481.6 858.2 482.9 857.1 483.8C856 484.7 854.7 485.2 854.2 485.5" fill="none" stroke="#fff" stroke-width="2.8" stroke-linejoin="round" stroke-linecap="round"/>
<path d="M898.9 571.8L906.8 571.8L931 586.9L906.8 601.3L900.2 597.3Z" fill="#fff" stroke="#1a1a1a" stroke-width="1.3" stroke-linejoin="round" stroke-linecap="round"/>
<path d="M906.8 571.8L906.8 582.3L916 587.5L905.5 594.1L898.9 590.1" fill="none" stroke="#1a1a1a" stroke-width="1" stroke-linejoin="round" stroke-linecap="round"/>
<ellipse cx="906.8" cy="590.8" rx="2.9" ry="2" fill="#eee" stroke="#1a1a1a" stroke-width="1.2"/>
<path d="M901.5 545.6L927.8 532.4L927.8 542.9L906.8 554.7L901.5 552.1Z" fill="#fff" stroke="#1a1a1a" stroke-width="1.4" stroke-linejoin="round" stroke-linecap="round"/>
<path d="M901.5 545.6L906.8 548.2L906.8 554.7" fill="none" stroke="#1a1a1a" stroke-width="1.1" stroke-linejoin="round" stroke-linecap="round"/>
<path d="M906.8 548.2L927.8 535.7" fill="none" stroke="#1a1a1a" stroke-width="1" stroke-linejoin="round" stroke-linecap="round"/>
<path d="M912 556.7L912 571.8" fill="none" stroke="#1a1a1a" stroke-width="1" stroke-linejoin="round" stroke-linecap="round"/>
<path d="M908.7 558.7L908.7 571.8" fill="none" stroke="#1a1a1a" stroke-width="1" stroke-linejoin="round" stroke-linecap="round"/>
<path d="M836 531.8L829.4 530.5L828.1 533.8L833.4 537.7L832 542.9L827.5 541.6L824.8 543.2L825.8 545.8L835.3 554.7L835.3 598L841.2 609.8L854.3 617.7L866.1 622.3L877.9 620.9L881.9 616.4L884.5 611.1L884.5 570.5L854.3 551.5L854.3 542.9L850.4 541L906.8 508.8L912 511.5L912.7 489.8Z" fill="#fff" stroke="#1a1a1a" stroke-width="1.8" stroke-linejoin="round" stroke-linecap="round"/>
<path d="M836 531.8L850.4 541" fill="none" stroke="#1a1a1a" stroke-width="1" stroke-linejoin="round" stroke-linecap="round"/>
<path d="M836 531.8L912.7 489.4" fill="none" stroke="#1a1a1a" stroke-width="2" stroke-linejoin="round" stroke-linecap="round"/>
<path d="M850.4 541L854.3 542.9L857 541.6L857 550.1L885.8 567.2L901.5 558.7" fill="none" stroke="#1a1a1a" stroke-width="1.3" stroke-linejoin="round" stroke-linecap="round"/>
<path d="M854.3 551.5L884.5 570.5L898.9 562.6" fill="none" stroke="#1a1a1a" stroke-width="1.6" stroke-linejoin="round" stroke-linecap="round"/>
<path d="M857 541.6L906.8 512.8" fill="none" stroke="#1a1a1a" stroke-width="1.2" stroke-linejoin="round" stroke-linecap="round"/>
<path d="M864.8 533.8L888.4 548.2L901.5 541.6L901.5 536.4" fill="none" stroke="#1a1a1a" stroke-width="1.6" stroke-linejoin="round" stroke-linecap="round"/>
<path d="M867.4 532.4L876.6 537.7L880.6 535.1L871.4 529.8Z" fill="#fff" stroke="#1a1a1a" stroke-width="1" stroke-linejoin="round" stroke-linecap="round"/>
<path d="M877.9 524.6L898.9 512.8L901.5 514.7L880.6 527.2Z" fill="#eee" stroke="#1a1a1a" stroke-width="1.1" stroke-linejoin="round" stroke-linecap="round"/>
<ellipse cx="879.9" cy="525.9" rx="1.3" ry="2.1" fill="#fff" stroke="#1a1a1a" stroke-width="1" transform="rotate(-30 879.9 525.9)"/>
<path d="M886.5 529.8L893.7 525.9L895.6 527.2L895.6 533.8L888.4 537.7L886.5 536.4Z" fill="#ddd" stroke="#1a1a1a" stroke-width="1.3" stroke-linejoin="round" stroke-linecap="round"/>
<ellipse cx="892.4" cy="530.9" rx="1.6" ry="2" fill="#fff" stroke="#1a1a1a" stroke-width="1"/>
<path d="M896.3 527.2L896.3 541L902.2 541L902.2 527.2" fill="#eee" stroke="#1a1a1a" stroke-width="1.4" stroke-linejoin="round" stroke-linecap="round"/>
<ellipse cx="899.2" cy="527.2" rx="2.9" ry="1.3" fill="#fff" stroke="#1a1a1a" stroke-width="1.2"/>
<ellipse cx="899.2" cy="541" rx="2.9" ry="1.3" fill="#eee" stroke="#1a1a1a" stroke-width="1.2"/>
<path d="M884.5 570.5L884.5 611.1" fill="none" stroke="#1a1a1a" stroke-width="1.8" stroke-linejoin="round" stroke-linecap="round"/>
<path d="M881.2 567.8L881.2 595.4" fill="none" stroke="#1a1a1a" stroke-width="0.9" stroke-linejoin="round" stroke-linecap="round"/>
<path d="M883.2 571.8L883.2 609.8" fill="none" stroke="#1a1a1a" stroke-width="0.8" stroke-linejoin="round" stroke-linecap="round"/>
<path d="M881.2 567.8C881.4 567.4 881.8 565.9 882.5 565.2C883.3 564.6 885.3 564.1 885.8 563.9" fill="none" stroke="#1a1a1a" stroke-width="1" stroke-linejoin="round" stroke-linecap="round"/>
<path d="M896.3 558.7L896.3 601.9" fill="none" stroke="#1a1a1a" stroke-width="2" stroke-linejoin="round" stroke-linecap="round"/>
<path d="M896.3 561.3L902.8 560L902.8 561.9L896.9 563.9" fill="none" stroke="#1a1a1a" stroke-width="1.6" stroke-linejoin="round" stroke-linecap="round"/>
<path d="M896.3 565.2L902.8 563.9L902.8 565.9L896.9 567.8" fill="none" stroke="#1a1a1a" stroke-width="1.6" stroke-linejoin="round" stroke-linecap="round"/>
<path d="M896.3 569.2L902.8 567.8L902.8 569.8L896.9 571.8" fill="none" stroke="#1a1a1a" stroke-width="1.6" stroke-linejoin="round" stroke-linecap="round"/>
<path d="M896.3 573.1L902.8 571.8L902.8 573.7L896.9 575.7" fill="none" stroke="#1a1a1a" stroke-width="1.6" stroke-linejoin="round" stroke-linecap="round"/>
<path d="M898.9 574.4L906.8 570.5L906.8 579.6L898.9 583.6Z" fill="#fff" stroke="#1a1a1a" stroke-width="1.1" stroke-linejoin="round" stroke-linecap="round"/>
<path d="M884.5 611.1L904.2 601.3" fill="none" stroke="#1a1a1a" stroke-width="2" stroke-linejoin="round" stroke-linecap="round"/>
<path d="M885.8 607.8L901.5 600" fill="none" stroke="#1a1a1a" stroke-width="0.9" stroke-linejoin="round" stroke-linecap="round"/>
<path d="M886.5 612.4L902.8 603.2" fill="none" stroke="#1a1a1a" stroke-width="1.4" stroke-linejoin="round" stroke-linecap="round"/>
<path d="M880.6 583.6L883.8 582.3L888.4 583.6L888.4 592.8L883.8 595.4L880.6 594.1Z" fill="#eee" stroke="#1a1a1a" stroke-width="1.3" stroke-linejoin="round" stroke-linecap="round"/>
<ellipse cx="886.9" cy="587.8" rx="3.4" ry="5.2" fill="#fff" stroke="#1a1a1a" stroke-width="1.2" transform="rotate(20 886.9 587.8)"/>
<path d="M854.3 617C854.3 615.2 853.9 608.6 854.3 605.9C854.8 603.1 855.6 601.6 857 600.6C858.3 599.6 860.6 599.5 862.2 600C863.8 600.4 865.9 601.6 866.8 603.2C867.7 604.9 867.3 608.7 867.4 609.8" fill="#fff" stroke="#1a1a1a" stroke-width="1.8" stroke-linejoin="round" stroke-linecap="round"/>
<path d="M867.4 609.8C868.1 609.4 869.8 607.2 871.4 607.2C872.9 607.2 875.3 608.3 876.6 609.8C877.9 611.3 878.9 614.5 879.2 616.4C879.6 618.2 878.7 620.2 878.6 620.9" fill="#fff" stroke="#1a1a1a" stroke-width="1.8" stroke-linejoin="round" stroke-linecap="round"/>
<path d="M857.6 604.6L857.6 616.4L865.5 619.6L865.5 609.1" fill="#eee" stroke="#1a1a1a" stroke-width="1" stroke-linejoin="round" stroke-linecap="round"/>
<ellipse cx="861.5" cy="605.6" rx="3.9" ry="2.4" fill="#ddd" stroke="#1a1a1a" stroke-width="1.1"/>
<path d="M865.5 619.6L876.6 615" fill="none" stroke="#1a1a1a" stroke-width="1" stroke-linejoin="round" stroke-linecap="round"/>
<path d="M909.4 502.9C908.7 504.1 906.3 506.8 905.5 510.2C904.6 513.5 903.9 519.6 904.2 523.3C904.4 527 905.5 530 906.8 532.4C908.1 534.8 911.1 536.8 912 537.7" fill="#ddd" stroke="#1a1a1a" stroke-width="1.6" stroke-linejoin="round" stroke-linecap="round"/>
<ellipse cx="922.8" cy="516.7" rx="15.5" ry="22" fill="#fff" stroke="#1a1a1a" stroke-width="1.8" transform="rotate(25 922.8 516.7)"/>
<path d="M906.8 512.8 L904.7 513.6" stroke="#1a1a1a" stroke-width="0.8" fill="none" stroke-linecap="butt"/>
<path d="M906.8 514.5 L904.7 515.3" stroke="#1a1a1a" stroke-width="0.8" fill="none" stroke-linecap="butt"/>
<path d="M906.8 516.2 L904.7 517" stroke="#1a1a1a" stroke-width="0.8" fill="none" stroke-linecap="butt"/>
<path d="M906.8 517.9 L904.7 518.7" stroke="#1a1a1a" stroke-width="0.8" fill="none" stroke-linecap="butt"/>
<path d="M906.8 519.6 L904.7 520.4" stroke="#1a1a1a" stroke-width="0.8" fill="none" stroke-linecap="butt"/>
<path d="M906.8 521.3 L904.7 522.1" stroke="#1a1a1a" stroke-width="0.8" fill="none" stroke-linecap="butt"/>
<path d="M906.8 523 L904.7 523.8" stroke="#1a1a1a" stroke-width="0.8" fill="none" stroke-linecap="butt"/>
<path d="M906.8 524.7 L904.7 525.5" stroke="#1a1a1a" stroke-width="0.8" fill="none" stroke-linecap="butt"/>
<path d="M906.8 526.4 L904.7 527.2" stroke="#1a1a1a" stroke-width="0.8" fill="none" stroke-linecap="butt"/>
<path d="M906.8 528.1 L904.7 528.9" stroke="#1a1a1a" stroke-width="0.8" fill="none" stroke-linecap="butt"/>
<path d="M906.8 529.8 L904.7 530.6" stroke="#1a1a1a" stroke-width="0.8" fill="none" stroke-linecap="butt"/>
<path d="M906.8 531.5 L904.7 532.3" stroke="#1a1a1a" stroke-width="0.8" fill="none" stroke-linecap="butt"/>
<path d="M910.7 504.9 L916 501.6" stroke="#1a1a1a" stroke-width="0.8" fill="none" stroke-linecap="butt"/>
<path d="M910.7 505.6 L916 502.3" stroke="#1a1a1a" stroke-width="0.8" fill="none" stroke-linecap="butt"/>
<path d="M910.7 506.2 L916 502.9" stroke="#1a1a1a" stroke-width="0.8" fill="none" stroke-linecap="butt"/>
<path d="M910.7 506.9 L916 503.6" stroke="#1a1a1a" stroke-width="0.8" fill="none" stroke-linecap="butt"/>
<path d="M910.7 507.5 L916 504.3" stroke="#1a1a1a" stroke-width="0.8" fill="none" stroke-linecap="butt"/>
<path d="M910.7 508.2 L916 504.9" stroke="#1a1a1a" stroke-width="0.8" fill="none" stroke-linecap="butt"/>
<path d="M910.7 508.8 L916 505.6" stroke="#1a1a1a" stroke-width="0.8" fill="none" stroke-linecap="butt"/>
<path d="M910.7 509.5 L916 506.2" stroke="#1a1a1a" stroke-width="0.8" fill="none" stroke-linecap="butt"/>
<path d="M943.8 525L943.8 541.2L976.2 560L1000 546.2L1000 528.8L976.2 543.8Z" fill="#eee" stroke="#1a1a1a" stroke-width="1.4" stroke-linejoin="round" stroke-linecap="round"/>
<path d="M943.8 525L968.8 511.2L1000 528.8L976.2 543.8Z" fill="#fff" stroke="#1a1a1a" stroke-width="1.6" stroke-linejoin="round" stroke-linecap="round"/>
<path d="M976.2 543.8 L976.2 560" stroke="#1a1a1a" stroke-width="1.2" fill="none" stroke-linecap="butt"/>
<path d="M957.5 521.8L961.2 520L982.5 532.5L978.8 534.5Z" fill="#ccc" stroke="#1a1a1a" stroke-width="1" stroke-linejoin="round" stroke-linecap="round"/>
<ellipse cx="957.5" cy="540" rx="5.5" ry="7" fill="#fff" stroke="#1a1a1a" stroke-width="1"/>
<path d="M963.8 542.5L971.2 546.2L971.2 556.2" fill="none" stroke="#1a1a1a" stroke-width="1" stroke-linejoin="round" stroke-linecap="round"/>
<path d="M986.2 538.2 L986.2 553.8" stroke="#1a1a1a" stroke-width="1.2" fill="none" stroke-linecap="butt"/>
<path d="M990.8 535.8 L990.8 551.2" stroke="#1a1a1a" stroke-width="1.2" fill="none" stroke-linecap="butt"/>
<path d="M995.2 533.2 L995.2 548.8" stroke="#1a1a1a" stroke-width="1.2" fill="none" stroke-linecap="butt"/>
<ellipse cx="980" cy="548.8" rx="1.8" ry="2.2" fill="#fff" stroke="#1a1a1a" stroke-width="0.9"/>
<path d="M943.8 498.8L943.8 515L976.2 533.8L1000 520L1000 502.5L976.2 517.5Z" fill="#eee" stroke="#1a1a1a" stroke-width="1.4" stroke-linejoin="round" stroke-linecap="round"/>
<path d="M943.8 498.8L968.8 485L1000 502.5L976.2 517.5Z" fill="#fff" stroke="#1a1a1a" stroke-width="1.6" stroke-linejoin="round" stroke-linecap="round"/>
<path d="M976.2 517.5 L976.2 533.8" stroke="#1a1a1a" stroke-width="1.2" fill="none" stroke-linecap="butt"/>
<path d="M957.5 495.5L961.2 493.8L982.5 506.2L978.8 508.2Z" fill="#ccc" stroke="#1a1a1a" stroke-width="1" stroke-linejoin="round" stroke-linecap="round"/>
<ellipse cx="957.5" cy="513.8" rx="5.5" ry="7" fill="#fff" stroke="#1a1a1a" stroke-width="1"/>
<path d="M963.8 516.2L971.2 520L971.2 530" fill="none" stroke="#1a1a1a" stroke-width="1" stroke-linejoin="round" stroke-linecap="round"/>
<path d="M986.2 512 L986.2 527.5" stroke="#1a1a1a" stroke-width="1.2" fill="none" stroke-linecap="butt"/>
<path d="M990.8 509.5 L990.8 525" stroke="#1a1a1a" stroke-width="1.2" fill="none" stroke-linecap="butt"/>
<path d="M995.2 507 L995.2 522.5" stroke="#1a1a1a" stroke-width="1.2" fill="none" stroke-linecap="butt"/>
<ellipse cx="980" cy="522.5" rx="1.8" ry="2.2" fill="#fff" stroke="#1a1a1a" stroke-width="0.9"/>
<path d="M1000 505L1003.8 507.5L1002.5 512.5L1000 512" fill="#ccc" stroke="#1a1a1a" stroke-width="1.2" stroke-linejoin="round" stroke-linecap="round"/>
<path d="M978.8 540 L995 549.5" stroke="#1a1a1a" stroke-width="1" fill="none" stroke-linecap="butt"/>
<path d="M991.2 547L997.5 550" fill="none" stroke="#1a1a1a" stroke-width="3" stroke-linejoin="round" stroke-linecap="round"/>
<ellipse cx="1002.5" cy="553" rx="5.5" ry="6.5" fill="#ddd" stroke="#1a1a1a" stroke-width="1.5" transform="rotate(-20 1002.5 553)"/>
<ellipse cx="1001.2" cy="552.5" rx="3.2" ry="4" fill="#fff" stroke="#1a1a1a" stroke-width="1.2" transform="rotate(-20 1001.2 552.5)"/>
<path d="M999.5 550 L1003 555" stroke="#1a1a1a" stroke-width="1" fill="none" stroke-linecap="butt"/>
<path d="M999 554.5 L1003.5 551" stroke="#1a1a1a" stroke-width="1" fill="none" stroke-linecap="butt"/>
<path d="M995 491.2L1000 488.8L1022.5 502.5L1022.5 505.5L1017.5 508.8L995 494.5Z" fill="#ddd" stroke="#1a1a1a" stroke-width="1.3" stroke-linejoin="round" stroke-linecap="round"/>
<path d="M995 491.2L1017.5 505.5L1022.5 502.5" fill="none" stroke="#1a1a1a" stroke-width="1.1" stroke-linejoin="round" stroke-linecap="round"/>
<path d="M1017.5 505.5 L1017.5 508.8" stroke="#1a1a1a" stroke-width="1" fill="none" stroke-linecap="butt"/>
<path d="M966.2 556.2 L966.2 613.8" stroke="#1a1a1a" stroke-width="1.6" fill="none" stroke-linecap="butt"/>
<path d="M1000.8 563.8 L1000.8 592.5" stroke="#1a1a1a" stroke-width="1.6" fill="none" stroke-linecap="butt"/>
<path d="M1020 511.2L1035.8 543.8L1035.8 573.8" fill="none" stroke="#1a1a1a" stroke-width="1.3" stroke-linejoin="round" stroke-linecap="round"/>
<path d="M891.8 617 L891.8 656.2" stroke="#1a1a1a" stroke-width="1.6" fill="none" stroke-linecap="butt"/>
<text x="948" y="631">540</text>
<text x="985.5" y="610.2">530</text>
<text x="1019.8" y="591">560</text>
<text x="879.2" y="675">40</text>
</g>
<!-- p53_sleeve.py -->
<g>
<path d="M986.2 687.5 L1000 679" stroke="#1a1a1a" stroke-width="0.9" fill="none" stroke-linecap="butt"/>
<path d="M1115 611.2L1122.5 607L1122.5 441L1138 432.5" fill="none" stroke="#1a1a1a" stroke-width="0.9" stroke-linejoin="round" stroke-linecap="round"/>
<path d="M1003.8 664.5L1102.5 606.2L1115 623.8L1012.5 684.5Z" fill="#fff" stroke="#1a1a1a" stroke-width="2.2" stroke-linejoin="round" stroke-linecap="round"/>
<ellipse cx="1109" cy="614.5" rx="5.5" ry="10.5" fill="#fff" stroke="#1a1a1a" stroke-width="2" transform="rotate(-30 1109 614.5)"/>
<path d="M1101.5 607.3C1101.8 607.3 1102.8 606.9 1103.5 607C1104.3 607.2 1105.2 607.6 1106 608.1C1106.9 608.7 1107.8 609.5 1108.6 610.4C1109.4 611.3 1110.2 612.4 1110.8 613.5C1111.5 614.6 1112 615.9 1112.4 617C1112.8 618.1 1113 619.3 1113.1 620.4C1113.2 621.4 1113 622.3 1112.8 623C1112.5 623.8 1111.7 624.4 1111.5 624.7" fill="none" stroke="#1a1a1a" stroke-width="0.9" stroke-linejoin="round" stroke-linecap="round"/>
<ellipse cx="1000" cy="677.5" rx="11.2" ry="14.5" fill="#f4f4f4" stroke="#1a1a1a" stroke-width="2.2" transform="rotate(-25 1000 677.5)"/>
<path d="M994.7 664.1C995.2 663.9 996.7 662.9 997.9 662.6C999 662.3 1000.2 662.2 1001.5 662.4C1002.7 662.5 1004 662.9 1005.2 663.5C1006.4 664.1 1007.6 664.9 1008.6 665.9C1009.7 666.8 1010.7 668 1011.5 669.3C1012.3 670.5 1013 672 1013.4 673.4C1013.9 674.8 1014.2 676.3 1014.4 677.7C1014.5 679.2 1014.4 680.6 1014.1 682C1013.8 683.3 1013.3 684.6 1012.7 685.6C1012.1 686.7 1010.7 687.9 1010.3 688.4" fill="none" stroke="#1a1a1a" stroke-width="1" stroke-linejoin="round" stroke-linecap="round"/>
<ellipse cx="998.2" cy="678" rx="6.8" ry="8.8" fill="#fff" stroke="#1a1a1a" stroke-width="1.6" transform="rotate(-25 998.2 678)"/>
<ellipse cx="997.8" cy="678.5" rx="4.5" ry="6" fill="#fff" stroke="#1a1a1a" stroke-width="0.9" transform="rotate(-25 997.8 678.5)"/>
<path d="M950 700L980 682.5L986.2 691.2L956.2 708.8Z" fill="#fff" stroke="#1a1a1a" stroke-width="1.6" stroke-linejoin="round" stroke-linecap="round"/>
<path d="M980 682.5C980.6 682.9 983.3 684 983.8 685C984.2 686 982.1 687.7 982.5 688.8C982.9 689.8 985.6 690.8 986.2 691.2" fill="none" stroke="#1a1a1a" stroke-width="1.4" stroke-linejoin="round" stroke-linecap="round"/>
<ellipse cx="953" cy="704.5" rx="2" ry="4.5" fill="#fff" stroke="#1a1a1a" stroke-width="1" transform="rotate(-30 953 704.5)"/>
<path d="M957.5 705L983.8 689.5" fill="none" stroke="#1a1a1a" stroke-width="0.9" stroke-linejoin="round" stroke-linecap="round"/>
<path d="M951.2 702C949.4 702.7 943.5 704.5 940 706.2C936.5 708 932.4 711 930 712.5C927.6 714 926.2 715 925.5 715.5" fill="none" stroke="#222" stroke-width="4.4" stroke-linejoin="round" stroke-linecap="round"/>
<path d="M951.2 702C949.4 702.7 943.5 704.5 940 706.2C936.5 708 932.4 711 930 712.5C927.6 714 926.2 715 925.5 715.5" fill="none" stroke="#fff" stroke-width="2.2" stroke-linejoin="round" stroke-linecap="round"/>
<ellipse cx="922" cy="717.5" rx="3.8" ry="3.2" fill="#fff" stroke="#1a1a1a" stroke-width="2" transform="rotate(-20 922 717.5)"/>
<ellipse cx="922" cy="717.5" rx="1.8" ry="1.5" fill="#fff" stroke="#1a1a1a" stroke-width="1.2" transform="rotate(-20 922 717.5)"/>
<path d="M955.5 708C953.8 709 947.8 711.8 945 713.8C942.2 715.7 940.5 718.2 938.8 719.5C937 720.8 935.2 721.2 934.5 721.5" fill="none" stroke="#222" stroke-width="4.4" stroke-linejoin="round" stroke-linecap="round"/>
<path d="M955.5 708C953.8 709 947.8 711.8 945 713.8C942.2 715.7 940.5 718.2 938.8 719.5C937 720.8 935.2 721.2 934.5 721.5" fill="none" stroke="#fff" stroke-width="2.2" stroke-linejoin="round" stroke-linecap="round"/>
<ellipse cx="931.2" cy="723" rx="3.8" ry="3.2" fill="#fff" stroke="#1a1a1a" stroke-width="2" transform="rotate(-20 931.2 723)"/>
<ellipse cx="931.2" cy="723" rx="1.8" ry="1.5" fill="#fff" stroke="#1a1a1a" stroke-width="1.2" transform="rotate(-20 931.2 723)"/>
<path d="M1067.5 655.5 L1088.8 667" stroke="#1a1a1a" stroke-width="1.6" fill="none" stroke-linecap="butt"/>
<text x="1092.5" y="675.5">570</text>
</g>
<!-- p54_clamp.py -->
<g>
<path d="M1064.5 475 L1064.5 522.5" stroke="#1a1a1a" stroke-width="0.9" fill="none" stroke-linecap="butt"/>
<path d="M1011.2 450L1011.2 483.8L1007 488.8L1038.8 505L1053.8 486.2L1076.2 467.5L1076.2 461.2L1063.8 458.8L1062.5 447L1052.5 452.5Z" fill="#f8f8f8" stroke="#1a1a1a" stroke-width="1.4" stroke-linejoin="round" stroke-linecap="round"/>
<path d="M1007.5 446.2L1025 436.2L1052.5 452L1032.5 460Z" fill="#fff" stroke="#1a1a1a" stroke-width="1.6" stroke-linejoin="round" stroke-linecap="round"/>
<path d="M1032.5 460L1032.5 463.8L1022.5 468.8L1022.5 485L1038.8 493.8L1053.8 486.2" fill="none" stroke="#1a1a1a" stroke-width="1.2" stroke-linejoin="round" stroke-linecap="round"/>
<path d="M1011.2 483.8L1022.5 485" fill="none" stroke="#1a1a1a" stroke-width="1" stroke-linejoin="round" stroke-linecap="round"/>
<path d="M1007 488.8L1038.8 505L1045 498.8L1053.8 486.2" fill="none" stroke="#1a1a1a" stroke-width="1.4" stroke-linejoin="round" stroke-linecap="round"/>
<path d="M1052.5 452L1052.5 482.5" fill="none" stroke="#1a1a1a" stroke-width="1.6" stroke-linejoin="round" stroke-linecap="round"/>
<path d="M1043.8 456.2L1051.2 453.8L1051.2 486.2L1045 498.8" fill="none" stroke="#1a1a1a" stroke-width="1.2" stroke-linejoin="round" stroke-linecap="round"/>
<ellipse cx="1038.2" cy="467.5" rx="9.5" ry="10.5" fill="#fff" stroke="#1a1a1a" stroke-width="1.4" transform="rotate(-15 1038.2 467.5)"/>
<path d="M1035.6 458.9C1036 458.6 1037.1 457.5 1038 457.1C1038.9 456.7 1039.9 456.6 1040.9 456.6C1041.8 456.6 1042.9 456.9 1043.8 457.4C1044.7 457.9 1045.6 458.6 1046.4 459.5C1047.1 460.3 1047.7 461.4 1048.1 462.4C1048.5 463.5 1048.8 464.7 1048.9 465.9C1048.9 467 1048.7 468.2 1048.4 469.3C1048.1 470.3 1047.1 471.6 1046.9 472.1" fill="none" stroke="#1a1a1a" stroke-width="0.9" stroke-linejoin="round" stroke-linecap="round"/>
<path d="M1052.5 475L1075 467.5" fill="none" stroke="#1a1a1a" stroke-width="1.2" stroke-linejoin="round" stroke-linecap="round"/>
<path d="M1052.5 480L1071.2 472.5L1076.2 467.5" fill="none" stroke="#1a1a1a" stroke-width="1.2" stroke-linejoin="round" stroke-linecap="round"/>
<path d="M1053.8 486.2L1070 475" fill="none" stroke="#1a1a1a" stroke-width="1" stroke-linejoin="round" stroke-linecap="round"/>
<path d="M1062.5 447L1062.5 460L1052.5 465.5" fill="none" stroke="#1a1a1a" stroke-width="1" stroke-linejoin="round" stroke-linecap="round"/>
<path d="M1071.2 486.2 L1090 496.2" stroke="#1a1a1a" stroke-width="1.6" fill="none" stroke-linecap="butt"/>
<text x="1093" y="504">30</text>
<path d="M1033.8 512.5L1043.8 507L1073.8 523L1073.8 528L1064.5 533.8L1033.8 517.5Z" fill="#ddd" stroke="#1a1a1a" stroke-width="1.5" stroke-linejoin="round" stroke-linecap="round"/>
<path d="M1033.8 512.5L1064.5 528.8L1073.8 523" fill="none" stroke="#1a1a1a" stroke-width="1.2" stroke-linejoin="round" stroke-linecap="round"/>
<path d="M1064.5 528.8 L1064.5 533.8" stroke="#1a1a1a" stroke-width="1.1" fill="none" stroke-linecap="butt"/>
<path d="M1040.5 517C1041.5 516 1043.8 512 1046.2 511.2C1048.7 510.5 1052.7 510.6 1055 512.5C1057.3 514.4 1059.2 520.8 1060 522.5" fill="#fff" stroke="#1a1a1a" stroke-width="1.2" stroke-linejoin="round" stroke-linecap="round"/>
<path d="M1047.5 508.8C1048.5 508.6 1051.7 507.5 1053.8 508C1055.8 508.5 1058.2 510 1060 512C1061.8 514 1063.8 518.7 1064.5 520" fill="none" stroke="#1a1a1a" stroke-width="1" stroke-linejoin="round" stroke-linecap="round"/>
<ellipse cx="1043" cy="513" rx="1.8" ry="1.2" fill="#fff" stroke="#1a1a1a" stroke-width="1"/>
<ellipse cx="1065" cy="524" rx="1.8" ry="1.2" fill="#fff" stroke="#1a1a1a" stroke-width="1"/>
<path d="M1071.2 535 L1090 544.5" stroke="#1a1a1a" stroke-width="1.6" fill="none" stroke-linecap="butt"/>
<text x="1091.8" y="548.8">10</text>
<path d="M1064.5 534.5 L1064.5 541.2" stroke="#1a1a1a" stroke-width="0.9" fill="none" stroke-linecap="butt"/>
<ellipse cx="1064" cy="543" rx="3" ry="1.8" fill="#fff" stroke="#1a1a1a" stroke-width="1.6"/>
<ellipse cx="1064" cy="546.5" rx="3" ry="1.8" fill="#fff" stroke="#1a1a1a" stroke-width="1.6"/>
<ellipse cx="1064" cy="550" rx="3" ry="1.8" fill="#fff" stroke="#1a1a1a" stroke-width="1.6"/>
<ellipse cx="1064" cy="553.5" rx="3" ry="1.8" fill="#fff" stroke="#1a1a1a" stroke-width="1.6"/>
<ellipse cx="1064.5" cy="563" rx="5.5" ry="3" fill="#ccc" stroke="#1a1a1a" stroke-width="1.5"/>
<ellipse cx="1064.5" cy="561" rx="5.5" ry="3" fill="#eee" stroke="#1a1a1a" stroke-width="1.5"/>
<ellipse cx="1064.5" cy="560.5" rx="3" ry="1.5" fill="#fff" stroke="#1a1a1a" stroke-width="1"/>
<path d="M1071.2 563.8 L1091.2 574.2" stroke="#1a1a1a" stroke-width="1.6" fill="none" stroke-linecap="butt"/>
<text x="1093.8" y="580.5">20</text>
<path d="M1128 596.2L1166.2 574.2L1171.2 583.8L1133 605.5Z" fill="#fff" stroke="#1a1a1a" stroke-width="2" stroke-linejoin="round" stroke-linecap="round"/>
<ellipse cx="1130.5" cy="601" rx="2.5" ry="5" fill="#fff" stroke="#1a1a1a" stroke-width="1.6" transform="rotate(-30 1130.5 601)"/>
<ellipse cx="1171.2" cy="576.2" rx="5.3" ry="8.5" fill="#f4f4f4" stroke="#1a1a1a" stroke-width="1.5" transform="rotate(-28 1171.2 576.2)"/>
<ellipse cx="1176.2" cy="573.2" rx="6.2" ry="10" fill="#f4f4f4" stroke="#1a1a1a" stroke-width="1.5" transform="rotate(-28 1176.2 573.2)"/>
<ellipse cx="1182.5" cy="570" rx="6.2" ry="10" fill="#f4f4f4" stroke="#1a1a1a" stroke-width="1.5" transform="rotate(-28 1182.5 570)"/>
<ellipse cx="1188.8" cy="566.8" rx="6.8" ry="11" fill="#f4f4f4" stroke="#1a1a1a" stroke-width="1.5" transform="rotate(-28 1188.8 566.8)"/>
<ellipse cx="1195" cy="563.8" rx="6.8" ry="11" fill="#f4f4f4" stroke="#1a1a1a" stroke-width="1.5" transform="rotate(-28 1195 563.8)"/>
<path d="M1185 560L1192.5 556.2L1193.8 560" fill="none" stroke="#1a1a1a" stroke-width="1.4" stroke-linejoin="round" stroke-linecap="round"/>
<path d="M1190 576.2L1197.5 572.5" fill="none" stroke="#1a1a1a" stroke-width="1.4" stroke-linejoin="round" stroke-linecap="round"/>
<ellipse cx="1200.5" cy="562" rx="12" ry="19.5" fill="#f4f4f4" stroke="#1a1a1a" stroke-width="2" transform="rotate(-28 1200.5 562)"/>
<ellipse cx="1203" cy="560.5" rx="10" ry="17" fill="#fff" stroke="#1a1a1a" stroke-width="1" transform="rotate(-28 1203 560.5)"/>
<path d="M1205 547.5C1205.2 541.2 1206.7 530.2 1208.8 525C1210.8 519.8 1214.6 518.8 1217.5 516.2C1220.4 513.8 1223.3 510.6 1226.2 510C1229.2 509.4 1232.9 511.2 1235 512.5C1237.1 513.8 1236.2 515.4 1238.8 517.5C1241.2 519.6 1246.5 521.2 1250 525C1253.5 528.8 1257.8 535 1260 540C1262.2 545 1264.5 551.7 1263 555C1261.5 558.3 1254.2 557.5 1251.2 560C1248.2 562.5 1247.9 568 1245 570C1242.1 572 1237.1 572.8 1233.8 572C1230.4 571.2 1228.3 565.4 1225 565.5C1221.7 565.6 1216.7 573 1213.8 572.5C1210.8 572 1209 566.7 1207.5 562.5C1206 558.3 1204.8 553.8 1205 547.5Z" fill="#f4f4f4" stroke="#1a1a1a" stroke-width="2" stroke-linejoin="round" stroke-linecap="round"/>
<path d="M1217.5 516.2C1218.8 517.7 1223.3 521.9 1225 525C1226.7 528.1 1227.1 533.3 1227.5 535" fill="none" stroke="#1a1a1a" stroke-width="1" stroke-linejoin="round" stroke-linecap="round"/>
<path d="M1227.5 535L1245 550L1246.2 565" fill="none" stroke="#1a1a1a" stroke-width="1" stroke-linejoin="round" stroke-linecap="round"/>
<path d="M1227.5 535L1240 526.2L1238.8 517.5" fill="none" stroke="#1a1a1a" stroke-width="1" stroke-linejoin="round" stroke-linecap="round"/>
<path d="M1245 550L1260 541.2" fill="none" stroke="#1a1a1a" stroke-width="1" stroke-linejoin="round" stroke-linecap="round"/>
<path d="M1250 552.5L1250 560" fill="none" stroke="#1a1a1a" stroke-width="1" stroke-linejoin="round" stroke-linecap="round"/>
<path d="M1253.8 547.5L1261.2 545" fill="none" stroke="#1a1a1a" stroke-width="1" stroke-linejoin="round" stroke-linecap="round"/>
<ellipse cx="1265" cy="536.2" rx="2" ry="3" fill="#fff" stroke="#1a1a1a" stroke-width="1.4" transform="rotate(-20 1265 536.2)"/>
<path d="M1260 536.2 L1264.5 533.8" stroke="#1a1a1a" stroke-width="1.6" fill="none" stroke-linecap="butt"/>
<path d="M1260.5 540 L1265 539" stroke="#1a1a1a" stroke-width="1.6" fill="none" stroke-linecap="butt"/>
<path d="M1190.5 587 L1209.2 597.5" stroke="#1a1a1a" stroke-width="1.6" fill="none" stroke-linecap="butt"/>
<text x="1211.2" y="606.5">580</text>
</g>
<!-- p55_cover550.py -->
<g>
<path d="M1240 301.2 L1246.2 297.5" stroke="#1a1a1a" stroke-width="0.9" fill="none" stroke-linecap="butt"/>
<path d="M1268.8 283.8L1303.8 263.8L1305.5 267L1270.5 287Z" fill="#fff" stroke="#1a1a1a" stroke-width="1.2" stroke-linejoin="round" stroke-linecap="round"/>
<ellipse cx="1247" cy="297.5" rx="1.5" ry="2.8" fill="#fff" stroke="#1a1a1a" stroke-width="1.3" transform="rotate(-30 1247 297.5)"/>
<ellipse cx="1250.4" cy="295.6" rx="1.5" ry="2.8" fill="#fff" stroke="#1a1a1a" stroke-width="1.3" transform="rotate(-30 1250.4 295.6)"/>
<ellipse cx="1253.8" cy="293.7" rx="1.5" ry="2.8" fill="#fff" stroke="#1a1a1a" stroke-width="1.3" transform="rotate(-30 1253.8 293.7)"/>
<ellipse cx="1257.1" cy="291.8" rx="1.5" ry="2.8" fill="#fff" stroke="#1a1a1a" stroke-width="1.3" transform="rotate(-30 1257.1 291.8)"/>
<ellipse cx="1260.5" cy="289.9" rx="1.5" ry="2.8" fill="#fff" stroke="#1a1a1a" stroke-width="1.3" transform="rotate(-30 1260.5 289.9)"/>
<ellipse cx="1263.9" cy="288" rx="1.5" ry="2.8" fill="#fff" stroke="#1a1a1a" stroke-width="1.3" transform="rotate(-30 1263.9 288)"/>
<ellipse cx="1267.2" cy="286.1" rx="1.5" ry="2.8" fill="#fff" stroke="#1a1a1a" stroke-width="1.3" transform="rotate(-30 1267.2 286.1)"/>
<ellipse cx="1307" cy="263.8" rx="6" ry="5.5" fill="#ddd" stroke="#1a1a1a" stroke-width="1.5"/>
<ellipse cx="1305.8" cy="263" rx="4" ry="3.8" fill="#fff" stroke="#1a1a1a" stroke-width="1.2"/>
<path d="M1272.5 248 L1272.5 275.5" stroke="#1a1a1a" stroke-width="1.6" fill="none" stroke-linecap="butt"/>
<text x="1257.2" y="244">500</text>
<path d="M1077.5 370.5L1213.8 294.5L1213.8 294.5C1217.3 295.4 1226.5 295.3 1235 300C1243.5 304.7 1258.1 314.6 1265 322.5C1271.9 330.4 1273.9 338.8 1276.2 347.5C1278.6 356.2 1279.4 365.8 1279 375C1278.6 384.2 1274.6 397.9 1273.8 402.5L1273.8 402.5L1137.5 482.5L1137.5 482.5C1135.4 482.3 1134.2 485 1125 481.2C1115.8 477.5 1091.2 466.9 1082.5 460C1073.8 453.1 1074.9 448.3 1072.5 440C1070.1 431.7 1068.4 419.2 1068 410C1067.6 400.8 1068.4 391.6 1070 385C1071.6 378.4 1076.2 372.9 1077.5 370.5Z" fill="#fff" stroke="#1a1a1a" stroke-width="2.2" stroke-linejoin="round" stroke-linecap="round"/>
<path d="M1077.5 370.5C1080.8 368.3 1082.9 369.2 1090 372C1097.1 374.8 1112.1 382 1120 387.5C1127.9 393 1133.1 397.1 1137.5 405C1141.9 412.9 1145 425 1146.2 435C1147.5 445 1146.5 457.1 1145 465C1143.5 472.9 1140.8 479.8 1137.5 482.5C1134.2 485.2 1134.2 485 1125 481.2C1115.8 477.5 1091.2 466.9 1082.5 460C1073.8 453.1 1074.9 448.3 1072.5 440C1070.1 431.7 1068.4 419.2 1068 410C1067.6 400.8 1068.4 391.6 1070 385C1071.6 378.4 1074.2 372.7 1077.5 370.5Z" fill="#fff" stroke="#1a1a1a" stroke-width="2" stroke-linejoin="round" stroke-linecap="round"/>
<path d="M1079.5 373.8C1081.2 374 1083.5 372.2 1090 375C1096.5 377.8 1111.2 385.1 1118.8 390.5C1126.2 395.9 1130.9 399.9 1135 407.5C1139.1 415.1 1142.1 426.9 1143.2 436.2C1144.4 445.6 1143.2 456.7 1142 463.8C1140.8 470.8 1137.2 476.2 1136.2 478.8" fill="none" stroke="#1a1a1a" stroke-width="0.9" stroke-linejoin="round" stroke-linecap="round"/>
<path d="M1085.5 375C1085.1 379.2 1082.7 391.2 1083 400C1083.3 408.8 1085.5 420.4 1087.5 427.5C1089.5 434.6 1088.8 436.2 1095 442.5C1101.2 448.8 1117.5 460.3 1125 465C1132.5 469.7 1137.5 469.6 1140 470.5" fill="none" stroke="#1a1a1a" stroke-width="1.1" stroke-linejoin="round" stroke-linecap="round"/>
<path d="M1087.5 377.5C1087.2 381.2 1085.1 391.9 1085.5 400C1085.9 408.1 1088.1 419.5 1090 426.2C1091.9 433 1091 434.5 1097 440.5C1103 446.5 1121.4 458.8 1126.2 462.5" fill="none" stroke="#1a1a1a" stroke-width="0.8" stroke-linejoin="round" stroke-linecap="round"/>
<path d="M1137.5 400 L1265 326.2" stroke="#1a1a1a" stroke-width="0.9" fill="none" stroke-linecap="butt"/>
<path d="M1145 410.5 L1270 336.2" stroke="#1a1a1a" stroke-width="0.9" fill="none" stroke-linecap="butt"/>
<path d="M1080 445.5 L1135 413.8" stroke="#1a1a1a" stroke-width="0.9" fill="none" stroke-linecap="butt"/>
<path d="M1093 435.5 L1138 409" stroke="#1a1a1a" stroke-width="0.9" fill="none" stroke-linecap="butt"/>
<path d="M1138 283.8 L1138 331.2" stroke="#1a1a1a" stroke-width="1.6" fill="none" stroke-linecap="butt"/>
<text x="1123" y="279.5">550</text>
<path d="M1138 432.5L1122.5 441.2L1122.5 516" fill="none" stroke="#1a1a1a" stroke-width="0.9" stroke-linejoin="round" stroke-linecap="round"/>
<path d="M942.5 425L971.9 408.8L973.1 409.8L1028.8 377.5L1035 378.5L1040 381.9L1046.9 380L1050 382.5L1064.4 427.5L1065 430L1060 433.1L1053.1 436.2L1047.5 436.2L1043.8 432.5L1043.1 427.5L1045.6 423.1L1038.8 403.1L1036.9 401.9L980 433.8L973.8 430L960.6 436.9L956.9 434.4L953.8 435.6L951.9 433.1L948.8 432.5L946.2 430L942.5 428.8Z" fill="#fff" stroke="#1a1a1a" stroke-width="1.5" stroke-linejoin="round" stroke-linecap="round"/>
<path d="M976.2 411.2L1030 380.6" fill="none" stroke="#1a1a1a" stroke-width="0.9" stroke-linejoin="round" stroke-linecap="round"/>
<path d="M980 415L1011.2 396.9L1017.5 387.5" fill="none" stroke="#1a1a1a" stroke-width="0.9" stroke-linejoin="round" stroke-linecap="round"/>
<path d="M988.8 418.1L1037.5 390L1046.9 382.5" fill="none" stroke="#1a1a1a" stroke-width="0.9" stroke-linejoin="round" stroke-linecap="round"/>
<path d="M995 421.9L1038.8 396.9L1047.5 391.9L1062.5 430" fill="none" stroke="#1a1a1a" stroke-width="0.9" stroke-linejoin="round" stroke-linecap="round"/>
<path d="M1011.2 387.5L1017.5 387.5L1036.2 401.9" fill="none" stroke="#1a1a1a" stroke-width="1" stroke-linejoin="round" stroke-linecap="round"/>
<path d="M1038.8 403.1L1050 405L1047.5 391.9" fill="none" stroke="#1a1a1a" stroke-width="1" stroke-linejoin="round" stroke-linecap="round"/>
<path d="M971.9 408.8L980 413.1L977.5 416.2L987.5 416.2L995 421.9L980 430" fill="none" stroke="#1a1a1a" stroke-width="1.1" stroke-linejoin="round" stroke-linecap="round"/>
<path d="M942.5 425L950 428.8L950.6 431.2L956.2 430L973.1 420.6L977.5 416.2" fill="none" stroke="#1a1a1a" stroke-width="1.1" stroke-linejoin="round" stroke-linecap="round"/>
<path d="M956.9 434.4L973.8 425L980 430" fill="none" stroke="#1a1a1a" stroke-width="1" stroke-linejoin="round" stroke-linecap="round"/>
<path d="M951.2 426.2L972.5 414.4" fill="none" stroke="#1a1a1a" stroke-width="2.2" stroke-linejoin="round" stroke-linecap="round"/>
<path d="M958.8 431.2L973.1 423.1" fill="none" stroke="#1a1a1a" stroke-width="2.2" stroke-linejoin="round" stroke-linecap="round"/>
<path d="M1046.9 380L1050 405" fill="none" stroke="#1a1a1a" stroke-width="0.9" stroke-linejoin="round" stroke-linecap="round"/>
<path d="M1050 382.8L1064.8 427.8" fill="none" stroke="#1a1a1a" stroke-width="2" stroke-linejoin="round" stroke-linecap="round"/>
<ellipse cx="1048.8" cy="429" rx="5.8" ry="6.5" fill="#fff" stroke="#1a1a1a" stroke-width="1.5" transform="rotate(-20 1048.8 429)"/>
<ellipse cx="1048.1" cy="429.5" rx="3.4" ry="3.9" fill="#fff" stroke="#1a1a1a" stroke-width="1.2" transform="rotate(-20 1048.1 429.5)"/>
<ellipse cx="1047.9" cy="429.8" rx="1.9" ry="2.2" fill="#fff" stroke="#1a1a1a" stroke-width="1" transform="rotate(-20 1047.9 429.8)"/>
<path d="M990.9 367.8 L990.9 394.4" stroke="#1a1a1a" stroke-width="1.6" fill="none" stroke-linecap="butt"/>
<text x="976.5" y="363.5">520</text>
</g>
</svg>
</body></html>
